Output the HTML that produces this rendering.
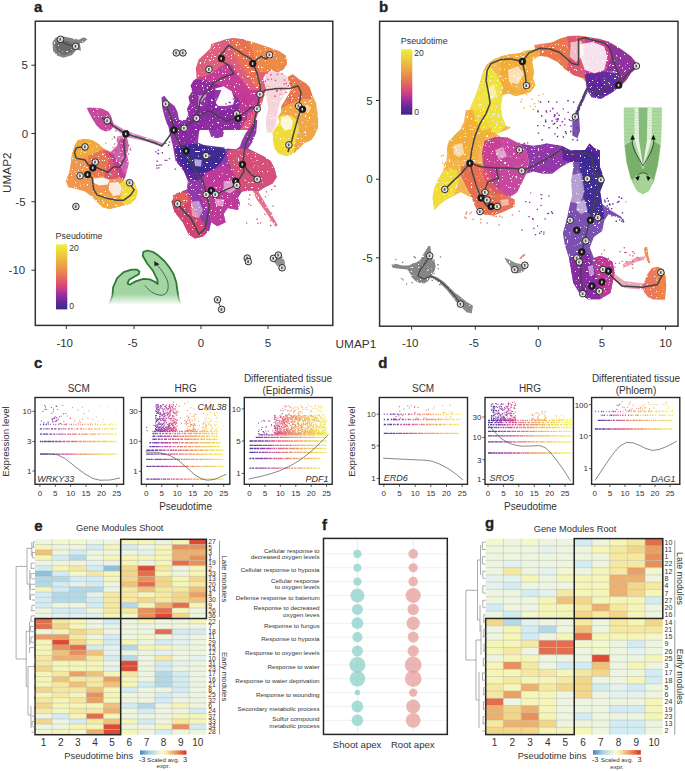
<!DOCTYPE html><html><head><meta charset="utf-8"><style>
html,body{margin:0;padding:0;background:#fff;}
svg{display:block;font-family:"Liberation Sans", sans-serif;}
</style></head><body>
<svg width="685" height="771" viewBox="0 0 685 771">
<defs><linearGradient id="pt" x1="0" y1="1" x2="0" y2="0"><stop offset="0" stop-color="#3b2a8e"/><stop offset="0.1" stop-color="#5a2898"/><stop offset="0.2" stop-color="#8e2aa0"/><stop offset="0.3" stop-color="#c6388e"/><stop offset="0.4" stop-color="#dc5072"/><stop offset="0.5" stop-color="#e4705a"/><stop offset="0.65" stop-color="#eb9a48"/><stop offset="0.8" stop-color="#ecc040"/><stop offset="1" stop-color="#eef03a"/></linearGradient><linearGradient id="hm" x1="0" y1="0" x2="1" y2="0"><stop offset="0" stop-color="#4f7fbf"/><stop offset="0.2" stop-color="#a8d0e6"/><stop offset="0.45" stop-color="#f2f8d8"/><stop offset="0.55" stop-color="#f8f0b0"/><stop offset="0.8" stop-color="#eb8a55"/><stop offset="1" stop-color="#d8302a"/></linearGradient><linearGradient id="gfade" x1="0" y1="0" x2="0" y2="1"><stop offset="0" stop-color="#a6d6a6"/><stop offset="0.75" stop-color="#a6d6a6"/><stop offset="1" stop-color="#ffffff"/></linearGradient><filter id="spf" x="0" y="0" width="685" height="340" filterUnits="userSpaceOnUse"><feTurbulence type="fractalNoise" baseFrequency="0.45" numOctaves="2" seed="5" result="n"/><feColorMatrix in="n" type="matrix" values="0 0 0 0 0  0 0 0 0 0  0 0 0 0 0  20 0 0 0 -13.9"/></filter><mask id="spm" maskUnits="userSpaceOnUse" x="0" y="0" width="685" height="340"><rect x="0" y="0" width="685" height="340" fill="#fff"/><rect x="0" y="0" width="685" height="340" fill="#000" filter="url(#spf)"/></mask><linearGradient id="shf" gradientUnits="userSpaceOnUse" x1="0" y1="250" x2="0" y2="305"><stop offset="0" stop-color="#a3d5a3"/><stop offset="0.8" stop-color="#a3d5a3"/><stop offset="1" stop-color="#ffffff"/></linearGradient><linearGradient id="shs" gradientUnits="userSpaceOnUse" x1="0" y1="250" x2="0" y2="305"><stop offset="0" stop-color="#2f7a33"/><stop offset="0.78" stop-color="#2f7a33"/><stop offset="1" stop-color="#ffffff"/></linearGradient><linearGradient id="g35" gradientUnits="userSpaceOnUse" x1="39.9" y1="0" x2="116.8" y2="0"><stop offset="0" stop-color="#3b2a8e"/><stop offset="0.1" stop-color="#5a2898"/><stop offset="0.2" stop-color="#8e2aa0"/><stop offset="0.3" stop-color="#c6388e"/><stop offset="0.4" stop-color="#dc5072"/><stop offset="0.5" stop-color="#e4705a"/><stop offset="0.65" stop-color="#eb9a48"/><stop offset="0.8" stop-color="#ecc040"/><stop offset="1" stop-color="#eef03a"/></linearGradient><linearGradient id="g141" gradientUnits="userSpaceOnUse" x1="146.3" y1="0" x2="223.7" y2="0"><stop offset="0" stop-color="#3b2a8e"/><stop offset="0.1" stop-color="#5a2898"/><stop offset="0.2" stop-color="#8e2aa0"/><stop offset="0.3" stop-color="#c6388e"/><stop offset="0.4" stop-color="#dc5072"/><stop offset="0.5" stop-color="#e4705a"/><stop offset="0.65" stop-color="#eb9a48"/><stop offset="0.8" stop-color="#ecc040"/><stop offset="1" stop-color="#eef03a"/></linearGradient><linearGradient id="g244" gradientUnits="userSpaceOnUse" x1="249.5" y1="0" x2="326.6" y2="0"><stop offset="0" stop-color="#3b2a8e"/><stop offset="0.1" stop-color="#5a2898"/><stop offset="0.2" stop-color="#8e2aa0"/><stop offset="0.3" stop-color="#c6388e"/><stop offset="0.4" stop-color="#dc5072"/><stop offset="0.5" stop-color="#e4705a"/><stop offset="0.65" stop-color="#eb9a48"/><stop offset="0.8" stop-color="#ecc040"/><stop offset="1" stop-color="#eef03a"/></linearGradient><linearGradient id="g379" gradientUnits="userSpaceOnUse" x1="383.8" y1="0" x2="462.2" y2="0"><stop offset="0" stop-color="#3b2a8e"/><stop offset="0.1" stop-color="#5a2898"/><stop offset="0.2" stop-color="#8e2aa0"/><stop offset="0.3" stop-color="#c6388e"/><stop offset="0.4" stop-color="#dc5072"/><stop offset="0.5" stop-color="#e4705a"/><stop offset="0.65" stop-color="#eb9a48"/><stop offset="0.8" stop-color="#ecc040"/><stop offset="1" stop-color="#eef03a"/></linearGradient><linearGradient id="g485" gradientUnits="userSpaceOnUse" x1="488.0" y1="0" x2="565.1" y2="0"><stop offset="0" stop-color="#3b2a8e"/><stop offset="0.1" stop-color="#5a2898"/><stop offset="0.2" stop-color="#8e2aa0"/><stop offset="0.3" stop-color="#c6388e"/><stop offset="0.4" stop-color="#dc5072"/><stop offset="0.5" stop-color="#e4705a"/><stop offset="0.65" stop-color="#eb9a48"/><stop offset="0.8" stop-color="#ecc040"/><stop offset="1" stop-color="#eef03a"/></linearGradient><linearGradient id="g591" gradientUnits="userSpaceOnUse" x1="594.8" y1="0" x2="670.1" y2="0"><stop offset="0" stop-color="#3b2a8e"/><stop offset="0.1" stop-color="#5a2898"/><stop offset="0.2" stop-color="#8e2aa0"/><stop offset="0.3" stop-color="#c6388e"/><stop offset="0.4" stop-color="#dc5072"/><stop offset="0.5" stop-color="#e4705a"/><stop offset="0.65" stop-color="#eb9a48"/><stop offset="0.8" stop-color="#ecc040"/><stop offset="1" stop-color="#eef03a"/></linearGradient></defs>
<rect width="685" height="771" fill="#fff"/>
<g mask="url(#spm)"><path d="M52.5 41.9 L55.8 37.5 L63.5 36.4 L73.3 38.6 L78.8 39.7 L83.2 37.5 L88.2 38.6 L84.3 41.9 L79.9 44.1 L81.0 50.7 L76.6 49.6 L72.2 55.0 L63.5 57.7 L56.9 55.5 L53.0 50.7Z" fill="#7c7c7c" fill-opacity="0.95"/><path d="M55.0 44.0 L60.0 40.0 L68.0 41.0 L74.0 45.0 L72.0 52.0 L64.0 55.0 L57.0 52.0Z" fill="#686868" fill-opacity="0.9"/><path d="M186.4 130.0 L185.6 120.5 L188.5 114.7 L187.1 108.8 L190.0 103.0 L188.5 97.2 L192.2 91.3 L190.7 85.5 L193.6 80.4 L196.6 78.2 L195.8 68.0 L198.8 59.2 L204.6 54.1 L210.4 48.2 L211.2 43.9 L215.5 42.4 L220.7 40.9 L226.5 39.1 L233.8 38.0 L242.6 39.1 L248.4 40.9 L258.6 43.9 L268.8 47.5 L279.1 51.2 L285.6 55.5 L287.1 63.6 L283.4 69.4 L277.6 72.3 L271.8 70.1 L265.9 73.8 L263.0 78.2 L265.9 88.4 L263.0 100.1 L258.6 111.8 L255.7 120.5 L254.2 130.0Z" fill="#dc5274" fill-opacity="0.93"/><path d="M230.9 38.0 L248.4 40.9 L252.8 51.9 L257.2 66.5 L260.1 78.2 L258.6 88.4 L254.2 85.5 L248.4 76.7 L242.6 68.0 L236.7 59.2 L232.3 50.4Z" fill="#ea7450" fill-opacity="0.93"/><path d="M248.4 40.9 L258.6 43.9 L268.8 47.5 L279.1 51.2 L285.6 55.5 L287.1 63.6 L283.4 69.4 L277.6 72.3 L271.8 69.4 L265.9 72.3 L260.1 72.3 L257.2 66.5 L252.8 51.9Z" fill="#ef8e44" fill-opacity="0.93"/><path d="M196.6 78.2 L206.1 76.0 L213.4 72.3 L220.7 66.5 L226.5 63.6 L232.3 65.0 L236.7 73.8 L242.6 81.1 L248.4 88.4 L252.8 95.7 L254.2 105.9 L252.8 114.7 L249.9 108.8 L244.0 103.0 L238.2 98.6 L232.3 92.8 L225.0 86.9 L216.3 84.0 L207.5 80.4Z" fill="#c23a98" fill-opacity="0.93"/><path d="M193.6 80.4 L196.6 78.9 L207.5 80.4 L216.3 84.0 L225.0 86.9 L232.3 92.8 L238.2 98.6 L244.0 105.9 L246.2 114.7 L244.0 123.4 L239.6 130.0 L186.4 130.0 L185.6 120.5 L188.5 114.7 L187.1 108.8 L190.0 103.0 L188.5 97.2 L192.2 91.3 L190.7 85.5Z" fill="#8a2aa2" fill-opacity="0.93"/><path d="M215.5 88.4 L223.6 86.2 L231.6 91.3 L234.5 99.3 L232.3 107.4 L225.0 110.3 L217.7 107.4 L214.1 98.6Z" fill="#fff" fill-opacity="0.97"/><path d="M265.2 74.5 L271.8 72.3 L278.3 74.5 L282.7 81.1 L281.2 91.3 L276.1 95.0 L268.8 92.8 L265.2 85.5Z" fill="#fff" fill-opacity="0.85"/><path d="M198.8 95.7 L206.1 94.2 L207.5 103.0 L203.1 108.8 L198.0 105.9Z" fill="#fff" fill-opacity="0.5"/><path d="M265.6 73.0 L275.9 70.4 L286.3 75.6 L288.9 83.3 L285.0 93.7 L279.8 102.8 L277.2 114.5 L275.9 124.8 L272.0 132.6 L266.9 132.6 L265.6 119.6 L268.2 109.3 L266.9 98.9 L264.3 85.9Z" fill="#dc5274" fill-opacity="0.25"/><path d="M287.6 76.9 L292.8 74.3 L299.3 79.4 L305.8 83.3 L309.6 87.2 L312.2 95.0 L316.1 102.8 L317.4 111.9 L318.1 118.3 L318.1 127.4 L314.8 135.2 L310.9 140.4 L304.5 143.0 L299.3 148.2 L294.1 153.4 L286.3 155.9 L278.5 153.4 L274.6 148.2 L273.3 140.4 L272.7 132.6 L275.9 127.4 L279.8 122.2 L277.9 117.1 L281.1 111.9 L281.1 106.7 L285.0 100.2 L288.9 93.7 L291.5 88.5 L288.9 82.0Z" fill="#efa03a" fill-opacity="0.93"/><path d="M287.6 76.9 L292.8 74.3 L299.3 79.4 L305.8 83.3 L309.6 87.2 L312.2 95.0 L310.9 98.9 L304.5 98.9 L296.7 101.5 L288.9 104.1 L282.4 108.0 L281.1 106.7 L285.0 100.2 L288.9 93.7 L291.5 88.5 L288.9 82.0Z" fill="#ea7450" fill-opacity="0.93"/><path d="M272.7 132.6 L275.9 127.4 L279.8 122.2 L277.9 117.1 L283.7 114.5 L291.5 115.8 L296.7 119.6 L299.3 127.4 L296.7 137.8 L294.1 145.6 L294.1 153.4 L286.3 155.9 L278.5 153.4 L274.6 148.2 L273.3 140.4Z" fill="#f0df3a" fill-opacity="0.93"/><path d="M281.1 117.1 L288.9 115.8 L292.8 120.9 L291.5 128.7 L285.0 130.7 L280.5 124.8Z" fill="#fff" fill-opacity="0.8"/><path d="M301.9 105.4 L308.3 104.7 L310.9 109.3 L307.1 111.9 L302.5 109.9Z" fill="#fff" fill-opacity="0.5"/><path d="M161.5 97.3 L164.4 95.8 L168.8 101.7 L174.6 106.1 L177.5 111.9 L179.0 119.2 L181.9 125.0 L189.2 123.6 L192.1 114.8 L198.0 106.1 L203.8 98.8 L209.6 92.9 L211.1 90.0 L221.3 90.0 L218.4 97.3 L215.5 103.1 L218.4 106.1 L225.7 106.1 L233.0 104.6 L237.4 107.5 L235.9 116.3 L233.0 120.7 L224.2 121.4 L215.5 119.2 L209.6 117.7 L203.8 123.6 L199.4 130.9 L196.5 136.7 L193.6 144.0 L189.2 145.5 L183.4 145.5 L179.0 139.6 L176.1 133.8 L171.7 129.4 L167.3 125.0 L164.4 116.3 L162.2 107.5Z" fill="#8a2aa2" fill-opacity="0.93"/><path d="M208.2 128.0 L216.9 126.5 L224.2 130.9 L222.8 136.7 L216.9 138.2 L211.1 136.7Z" fill="#8a2aa2" fill-opacity="0.93"/><path d="M233.0 90.0 L260.0 90.0 L260.0 104.6 L253.4 109.0 L247.6 116.3 L241.8 126.5 L237.4 119.2 L238.8 107.5 L241.8 98.8Z" fill="#c23a98" fill-opacity="0.93"/><path d="M167.4 120.0 L199.0 120.0 L199.0 132.3 L198.0 142.5 L209.3 147.6 L223.6 149.6 L227.7 148.6 L235.8 149.6 L239.9 146.6 L242.0 140.4 L246.1 132.3 L251.2 126.1 L254.2 120.0 L257.3 120.0 L256.3 132.3 L252.2 142.5 L248.1 148.6 L256.3 152.7 L264.4 156.8 L270.6 160.9 L274.7 169.0 L276.7 177.2 L272.6 183.4 L264.4 187.4 L258.3 191.5 L252.2 190.5 L242.0 191.5 L237.9 197.7 L239.9 203.8 L237.9 209.9 L227.7 207.9 L223.6 214.0 L225.6 222.2 L217.4 226.3 L211.3 222.2 L209.3 230.4 L203.1 236.5 L195.0 238.5 L188.8 234.4 L182.7 222.2 L174.5 212.0 L171.5 201.7 L176.6 193.6 L186.8 189.5 L187.8 181.3 L183.7 171.1 L175.5 160.9 L172.5 144.5 L169.4 132.3Z" fill="#8a2aa2" fill-opacity="0.93"/><path d="M205.2 171.1 L215.4 169.0 L223.6 165.0 L231.7 169.0 L237.9 175.2 L239.9 187.4 L237.9 197.7 L239.9 203.8 L237.9 209.9 L227.7 207.9 L223.6 214.0 L225.6 222.2 L217.4 226.3 L211.3 222.2 L209.3 214.0 L205.2 205.8 L201.1 197.7 L203.1 185.4Z" fill="#c23a98" fill-opacity="0.93"/><path d="M227.7 150.7 L239.9 148.6 L248.1 149.6 L256.3 152.7 L264.4 156.8 L270.6 160.9 L274.7 169.0 L276.7 177.2 L272.6 183.4 L264.4 187.4 L258.3 191.5 L252.2 189.5 L242.0 191.5 L237.9 187.4 L235.8 177.2 L231.7 169.0 L227.7 160.9Z" fill="#dc5274" fill-opacity="0.93"/><path d="M174.5 146.6 L183.7 145.5 L180.7 154.7 L184.7 162.9 L191.9 167.4 L201.1 168.0 L204.2 175.2 L198.0 180.3 L188.8 179.3 L182.7 169.0 L176.6 160.9Z" fill="#5a269c" fill-opacity="0.93"/><path d="M179.0 145.7 L194.2 143.8 L209.3 145.7 L224.5 147.6 L225.5 155.2 L220.7 162.8 L215.0 168.5 L207.4 172.3 L198.0 173.2 L190.4 170.4 L182.8 164.7 L179.0 155.2Z" fill="#3a2a92" fill-opacity="0.93"/><path d="M194.2 159.0 L201.8 160.0 L201.0 166.6 L195.0 166.0Z" fill="#fff" fill-opacity="0.6"/><path d="M215.0 199.0 L224.5 199.5 L223.0 206.4 L216.0 205.5Z" fill="#fff" fill-opacity="0.5"/><path d="M176.6 193.6 L186.8 190.5 L190.9 197.7 L193.9 207.9 L198.0 216.1 L204.2 223.2 L207.2 230.4 L203.1 236.5 L195.0 238.5 L188.8 234.4 L182.7 222.2 L174.5 212.0 L171.5 201.7Z" fill="#d8466e" fill-opacity="0.93"/><path d="M172.5 195.6 L180.7 191.9 L187.8 193.6 L188.8 201.7 L182.7 205.8 L175.5 205.8Z" fill="#e46458" fill-opacity="0.93"/><path d="M252.2 189.5 L258.3 191.5 L264.4 201.7 L272.6 216.1 L277.7 225.3 L275.7 226.7 L266.5 213.0 L256.3 198.7Z" fill="#dc5274" fill-opacity="0.8"/><path d="M190.9 201.7 L199.0 200.7 L203.1 209.9 L199.0 218.1 L191.9 216.1Z" fill="#fff" fill-opacity="0.45"/><path d="M223.6 181.3 L233.8 180.3 L235.8 189.5 L229.7 193.6 L223.6 190.5Z" fill="#fff" fill-opacity="0.5"/><path d="M86.6 107.4 L94.6 107.8 L101.9 108.4 L108.5 111.8 L111.4 116.9 L112.8 122.0 L113.6 126.4 L110.7 130.0 L105.5 131.5 L100.4 129.3 L96.1 124.9 L92.4 119.1 L88.8 112.5Z" fill="#c23a98" fill-opacity="0.93"/><path d="M117.2 136.6 L123.8 135.1 L126.7 137.3 L126.0 143.2 L125.3 155.0 L121.6 155.0 L119.4 146.1 L116.5 141.7Z" fill="#c23a98" fill-opacity="0.6"/><path d="M107.3 119.6 L127.0 131.2 L144.5 136.7 L163.1 143.1 L162.4 147.0 L144.5 140.9 L125.9 136.9 L107.3 123.4Z" fill="#b4359e" fill-opacity="0.55"/><path d="M120.1 139.0 L127.1 137.3 L128.8 146.0 L127.1 154.8 L128.8 163.5 L127.1 170.6 L125.3 177.6 L120.1 177.6 L116.6 168.8 L113.1 160.0 L109.6 153.0 L116.6 146.0Z" fill="#c23a98" fill-opacity="0.8"/><path d="M78.0 139.9 L85.0 139.0 L92.0 139.9 L99.1 144.3 L102.6 147.8 L107.8 150.4 L113.1 154.8 L116.6 160.0 L121.8 168.8 L125.3 175.8 L123.6 180.2 L128.8 179.3 L134.1 181.9 L137.6 191.6 L135.8 198.6 L130.6 203.8 L123.6 205.6 L116.6 207.3 L109.6 209.1 L102.6 207.3 L97.3 202.1 L92.0 196.8 L85.0 191.6 L76.3 188.9 L68.4 187.2 L65.8 181.1 L69.3 172.3 L70.7 163.5 L71.9 154.8 L74.5 146.0Z" fill="#ef8e44" fill-opacity="0.93"/><path d="M78.0 139.9 L85.0 139.0 L92.0 139.9 L99.1 144.3 L101.7 149.5 L95.6 153.0 L88.5 155.7 L81.5 158.3 L74.5 160.0 L71.0 161.8 L71.9 154.8 L74.5 146.0Z" fill="#f1ac3a" fill-opacity="0.93"/><path d="M88.5 155.7 L95.6 153.0 L101.7 149.5 L107.8 151.3 L110.4 160.0 L108.7 168.8 L103.4 175.8 L96.4 177.6 L90.6 174.1 L87.1 165.3Z" fill="#ea7450" fill-opacity="0.93"/><path d="M102.6 151.3 L107.8 150.4 L113.1 154.8 L117.4 161.8 L121.0 168.8 L121.8 174.9 L116.6 178.4 L109.6 179.3 L103.4 176.7 L106.9 168.8 L108.7 160.0Z" fill="#dc5274" fill-opacity="0.93"/><path d="M108.7 151.3 L113.1 154.8 L117.4 160.9 L121.8 168.8 L125.3 175.8 L123.6 180.2 L120.1 177.6 L117.4 169.7 L113.9 162.7 L110.4 156.5Z" fill="#c23a98" fill-opacity="0.93"/><path d="M92.0 196.8 L97.3 202.1 L102.6 207.3 L109.6 209.1 L116.6 207.3 L123.6 205.2 L120.1 198.6 L111.3 195.1 L102.6 192.4 L95.6 192.4Z" fill="#f1ac3a" fill-opacity="0.93"/><path d="M123.6 180.2 L128.8 179.3 L134.1 181.9 L137.6 191.6 L135.8 198.6 L130.6 203.8 L123.6 204.7 L120.1 198.6 L121.8 189.8 L119.2 184.6Z" fill="#f0df3a" fill-opacity="0.93"/><path d="M93.8 178.4 L102.6 177.6 L109.6 180.2 L107.8 184.6 L99.1 185.4 L93.8 182.8Z" fill="#fff" fill-opacity="0.9"/><path d="M109.6 182.8 L118.3 181.9 L121.8 188.1 L120.1 195.1 L113.1 196.0 L108.7 189.8Z" fill="#fff" fill-opacity="0.8"/><path d="M274.7 87.7h1.4v1.4h-1.4zM287.9 85.0h1.4v1.4h-1.4zM276.2 88.4h1.4v1.4h-1.4zM267.2 86.3h1.4v1.4h-1.4zM279.6 94.2h1.4v1.4h-1.4zM264.6 80.5h1.4v1.4h-1.4zM264.5 94.7h1.4v1.4h-1.4zM281.4 73.2h1.4v1.4h-1.4zM289.5 99.0h1.4v1.4h-1.4zM280.3 89.2h1.4v1.4h-1.4zM266.4 72.4h1.4v1.4h-1.4zM276.8 73.7h1.4v1.4h-1.4zM267.3 78.8h1.4v1.4h-1.4zM262.8 85.0h1.4v1.4h-1.4zM274.3 95.6h1.4v1.4h-1.4zM276.5 89.9h1.4v1.4h-1.4zM276.0 90.5h1.4v1.4h-1.4zM274.8 79.8h1.4v1.4h-1.4zM289.9 99.9h1.4v1.4h-1.4zM285.5 91.8h1.4v1.4h-1.4zM270.8 78.4h1.4v1.4h-1.4zM270.1 74.0h1.4v1.4h-1.4zM283.5 83.2h1.4v1.4h-1.4zM285.7 82.8h1.4v1.4h-1.4zM288.8 95.7h1.4v1.4h-1.4zM262.0 77.9h1.4v1.4h-1.4zM287.5 85.2h1.4v1.4h-1.4zM289.5 83.1h1.4v1.4h-1.4zM264.0 89.6h1.4v1.4h-1.4zM283.8 79.6h1.4v1.4h-1.4z" fill="#dc5274"/><path d="M164.5 159.7h1.3v1.3h-1.3zM168.3 144.3h1.3v1.3h-1.3zM155.2 151.2h1.3v1.3h-1.3zM160.5 164.3h1.3v1.3h-1.3zM168.8 158.0h1.3v1.3h-1.3zM166.2 159.8h1.3v1.3h-1.3zM157.9 153.2h1.3v1.3h-1.3zM158.2 167.2h1.3v1.3h-1.3zM156.2 164.6h1.3v1.3h-1.3zM156.5 160.6h1.3v1.3h-1.3zM161.7 152.1h1.3v1.3h-1.3zM171.8 140.6h1.3v1.3h-1.3zM156.2 167.5h1.3v1.3h-1.3zM165.2 142.7h1.3v1.3h-1.3zM174.7 168.4h1.3v1.3h-1.3zM157.3 152.7h1.3v1.3h-1.3zM157.7 149.4h1.3v1.3h-1.3zM167.4 144.9h1.3v1.3h-1.3zM168.9 141.5h1.3v1.3h-1.3zM158.4 164.5h1.3v1.3h-1.3z" fill="#8a2aa2"/><path d="M231.5 115.6h1.3v1.3h-1.3zM242.1 120.5h1.3v1.3h-1.3zM229.6 101.9h1.3v1.3h-1.3zM228.7 101.8h1.3v1.3h-1.3zM243.4 98.9h1.3v1.3h-1.3zM238.3 101.4h1.3v1.3h-1.3zM232.4 107.9h1.3v1.3h-1.3zM245.9 113.3h1.3v1.3h-1.3zM225.4 103.3h1.3v1.3h-1.3zM228.7 121.1h1.3v1.3h-1.3zM245.2 119.2h1.3v1.3h-1.3zM245.7 117.3h1.3v1.3h-1.3zM248.7 118.8h1.3v1.3h-1.3zM231.4 120.5h1.3v1.3h-1.3zM237.2 117.7h1.3v1.3h-1.3zM239.1 107.9h1.3v1.3h-1.3zM234.1 107.9h1.3v1.3h-1.3zM232.8 98.5h1.3v1.3h-1.3zM245.5 118.9h1.3v1.3h-1.3zM249.6 115.7h1.3v1.3h-1.3zM238.9 117.5h1.3v1.3h-1.3zM228.4 115.3h1.3v1.3h-1.3zM236.1 100.3h1.3v1.3h-1.3zM230.1 110.7h1.3v1.3h-1.3zM231.3 108.8h1.3v1.3h-1.3z" fill="#8a2aa2"/><path d="M113.9 163.6h1.3v1.3h-1.3zM123.7 176.7h1.3v1.3h-1.3zM116.9 139.1h1.3v1.3h-1.3zM125.2 161.2h1.3v1.3h-1.3zM117.5 162.6h1.3v1.3h-1.3zM119.1 167.8h1.3v1.3h-1.3zM114.1 137.3h1.3v1.3h-1.3zM128.2 144.7h1.3v1.3h-1.3zM116.7 169.2h1.3v1.3h-1.3zM123.4 133.2h1.3v1.3h-1.3zM121.9 161.5h1.3v1.3h-1.3zM115.0 160.8h1.3v1.3h-1.3zM114.2 143.5h1.3v1.3h-1.3zM113.5 136.2h1.3v1.3h-1.3zM129.6 147.2h1.3v1.3h-1.3zM129.8 149.1h1.3v1.3h-1.3zM122.9 173.0h1.3v1.3h-1.3zM124.4 131.1h1.3v1.3h-1.3zM122.6 159.9h1.3v1.3h-1.3zM115.3 130.2h1.3v1.3h-1.3zM127.7 153.3h1.3v1.3h-1.3zM115.5 149.9h1.3v1.3h-1.3zM115.9 168.9h1.3v1.3h-1.3zM121.0 130.6h1.3v1.3h-1.3zM126.7 129.9h1.3v1.3h-1.3z" fill="#c23a98"/><path d="M273.8 185.5h1.3v1.3h-1.3zM265.8 191.3h1.3v1.3h-1.3zM274.5 185.7h1.3v1.3h-1.3zM270.8 212.3h1.3v1.3h-1.3zM270.0 225.0h1.3v1.3h-1.3zM248.4 198.5h1.3v1.3h-1.3zM264.8 196.2h1.3v1.3h-1.3zM249.2 194.1h1.3v1.3h-1.3zM270.0 220.0h1.3v1.3h-1.3zM267.9 193.9h1.3v1.3h-1.3zM272.4 205.5h1.3v1.3h-1.3zM248.1 203.2h1.3v1.3h-1.3zM254.7 188.2h1.3v1.3h-1.3zM259.8 199.4h1.3v1.3h-1.3zM259.9 222.2h1.3v1.3h-1.3zM262.6 201.2h1.3v1.3h-1.3zM270.2 224.8h1.3v1.3h-1.3zM257.2 222.8h1.3v1.3h-1.3zM240.7 190.6h1.3v1.3h-1.3zM246.0 222.5h1.3v1.3h-1.3zM264.2 213.8h1.3v1.3h-1.3zM250.0 204.8h1.3v1.3h-1.3zM271.0 189.0h1.3v1.3h-1.3zM244.1 186.9h1.3v1.3h-1.3zM256.4 218.6h1.3v1.3h-1.3z" fill="#dc5274"/><path d="M112.2 147.0h1.3v1.3h-1.3zM113.3 146.2h1.3v1.3h-1.3zM113.2 151.4h1.3v1.3h-1.3zM110.2 150.9h1.3v1.3h-1.3zM105.2 142.6h1.3v1.3h-1.3zM111.7 138.5h1.3v1.3h-1.3zM119.9 142.8h1.3v1.3h-1.3zM120.8 158.9h1.3v1.3h-1.3zM110.1 157.3h1.3v1.3h-1.3zM121.2 151.7h1.3v1.3h-1.3z" fill="#f1ac3a"/><path d="M272.0 256.0 L280.0 252.0 L285.0 262.0 L284.0 270.0 L279.0 268.0 L274.0 262.0Z" fill="#7c7c7c" fill-opacity="0.85"/><path d="M391.6 264.3 L395.5 263.7 L402.1 265.6 L408.6 265.6 L412.6 263.7 L416.5 262.3 L420.5 259.7 L423.1 254.5 L425.7 250.5 L428.4 245.9 L430.3 245.9 L431.0 251.8 L432.3 258.4 L434.9 262.3 L435.6 266.3 L434.9 270.2 L432.3 274.2 L431.0 276.8 L428.4 280.7 L424.4 283.4 L419.2 282.7 L415.2 280.7 L411.3 276.8 L410.0 272.8 L407.3 269.6 L402.1 268.9 L395.5 268.2 L392.2 267.6Z" fill="#7c7c7c" fill-opacity="0.92"/><path d="M431.0 274.8 L437.6 277.4 L444.1 282.0 L449.4 287.3 L454.6 292.6 L458.6 295.2 L466.5 301.8 L473.0 305.7 L471.7 313.6 L466.5 312.3 L461.2 307.0 L456.0 301.8 L452.0 296.5 L446.8 289.9 L441.5 284.7 L434.9 279.4 L430.3 278.1Z" fill="#7c7c7c" fill-opacity="0.9"/><path d="M504.5 257.5 L509.6 259.7 L514.7 262.6 L520.5 264.1 L525.7 264.8 L526.4 267.7 L522.7 272.1 L516.9 273.6 L512.5 271.4 L509.6 265.5 L506.0 261.2Z" fill="#7c7c7c" fill-opacity="0.85"/><path d="M519.2 258.5 L524.0 253.5 L525.6 254.8 L521.0 259.0Z" fill="#ea7450" fill-opacity="0.9"/><path d="M500.0 56.8 L510.5 54.2 L521.0 52.8 L531.5 50.2 L542.0 46.3 L552.5 42.3 L560.4 38.4 L570.9 35.8 L578.8 35.8 L589.3 37.1 L599.8 38.9 L610.4 42.3 L620.9 48.9 L631.4 56.8 L636.6 63.4 L637.9 67.3 L631.4 72.5 L626.1 80.4 L620.9 85.7 L613.0 90.9 L605.1 94.9 L597.2 96.2 L592.0 93.6 L589.3 88.3 L586.7 83.1 L581.5 77.8 L573.6 75.2 L565.7 69.9 L557.8 62.0 L547.3 56.8 L536.8 55.5 L531.5 56.8 L534.2 72.5 L531.5 85.7 L526.3 93.6 L515.8 96.2 L507.9 93.6 L500.0 96.2Z" fill="#f1ac3a" fill-opacity="0.93"/><path d="M534.2 45.0 L552.5 42.3 L560.4 38.4 L568.3 36.3 L570.9 51.5 L568.3 69.9 L565.7 69.9 L557.8 62.0 L547.3 56.8 L536.8 55.5Z" fill="#ea7450" fill-opacity="0.93"/><path d="M567.0 36.3 L578.8 35.8 L586.7 36.8 L585.4 51.5 L584.1 77.8 L581.5 77.8 L573.6 75.2 L567.0 69.9 L569.6 51.5Z" fill="#dc5274" fill-opacity="0.93"/><path d="M585.4 36.8 L599.8 38.9 L610.4 42.3 L613.0 56.8 L605.1 72.5 L597.2 80.4 L589.3 88.3 L586.7 83.1 L584.1 77.8 L584.6 56.8Z" fill="#c23a98" fill-opacity="0.93"/><path d="M607.7 41.5 L620.9 48.9 L631.4 56.8 L636.6 63.4 L637.9 67.3 L631.4 72.5 L626.1 80.4 L620.9 85.7 L613.0 90.9 L605.1 94.9 L597.2 96.2 L592.0 93.6 L589.3 88.3 L597.2 80.4 L605.1 72.5 L611.7 56.8Z" fill="#8a2aa2" fill-opacity="0.93"/><path d="M570.9 42.3 L581.5 41.0 L584.1 54.2 L576.2 62.0 L569.6 56.8Z" fill="#fff" fill-opacity="0.6"/><path d="M599.8 72.5 L615.6 71.2 L618.2 83.1 L607.7 88.3 L601.2 83.1Z" fill="#fff" fill-opacity="0.5"/><path d="M510.5 72.5 L523.6 69.9 L528.9 83.1 L518.4 90.9 L509.2 85.7Z" fill="#fff" fill-opacity="0.6"/><path d="M580.1 44.0 L593.0 42.0 L604.2 46.5 L607.4 57.1 L604.2 70.0 L594.6 73.2 L585.0 70.0 L580.1 57.1Z" fill="#fff" fill-opacity="0.85"/><path d="M585.0 73.2 L594.6 73.5 L604.2 71.6 L617.1 73.2 L620.3 86.0 L612.3 92.4 L601.0 98.9 L591.4 97.3 L586.6 89.2Z" fill="#5a269c" fill-opacity="0.93"/><path d="M585.4 89.6 L588.0 90.9 L578.8 112.0 L580.1 130.4 L577.5 138.2 L572.3 135.6 L572.3 119.8 L577.5 106.7Z" fill="#5a269c" fill-opacity="0.8"/><path d="M446.3 160.0 L448.0 145.1 L455.0 134.6 L463.8 127.6 L467.3 117.1 L470.8 106.6 L476.1 94.3 L479.6 83.8 L483.1 71.5 L486.6 64.5 L493.6 59.3 L502.3 55.8 L511.1 54.0 L518.1 54.0 L525.1 50.5 L540.0 48.8 L540.0 55.8 L533.9 59.3 L528.6 64.5 L532.1 75.0 L535.6 85.5 L530.4 92.6 L521.6 94.3 L511.1 92.6 L504.1 89.1 L502.3 97.8 L500.6 106.6 L502.3 117.1 L505.8 125.8 L511.1 127.6 L504.1 131.1 L493.6 134.6 L486.6 138.1 L479.6 145.1 L477.8 160.0Z" fill="#f1ac3a" fill-opacity="0.85"/><path d="M470.8 106.6 L476.1 94.3 L480.4 82.0 L483.9 71.5 L490.1 66.3 L497.1 75.0 L502.3 85.5 L502.3 97.8 L500.6 106.6 L502.3 117.1 L505.8 125.8 L498.8 132.9 L490.1 134.6 L479.6 138.1 L472.6 131.1 L469.1 118.8Z" fill="#eeea40" fill-opacity="0.85"/><path d="M508.0 70.0 L518.0 66.0 L524.0 74.0 L518.0 84.0 L509.0 82.0Z" fill="#fff" fill-opacity="0.6"/><path d="M488.0 88.0 L494.0 84.0 L497.0 96.0 L490.0 100.0Z" fill="#fff" fill-opacity="0.5"/><path d="M465.8 110.0 L464.1 120.5 L460.6 129.3 L455.3 134.5 L448.3 141.5 L446.6 150.3 L450.1 157.3 L444.8 162.6 L443.1 171.3 L437.8 180.1 L434.3 188.8 L432.6 197.6 L434.3 209.9 L439.6 204.6 L446.6 199.3 L453.6 195.8 L460.6 192.3 L464.1 194.1 L471.1 197.6 L476.4 204.6 L478.1 211.6 L485.1 215.1 L492.1 213.4 L500.0 209.9 L500.0 136.3 L492.1 131.0 L485.1 120.5 L481.6 110.0Z" fill="#f1ac3a" fill-opacity="0.88"/><path d="M432.6 197.6 L434.3 188.8 L437.8 180.1 L443.1 171.3 L450.1 167.8 L457.1 171.3 L458.8 183.6 L453.6 195.8 L446.6 199.3 L439.6 204.6 L434.3 209.9Z" fill="#f0df3a" fill-opacity="0.93"/><path d="M472.9 110.0 L485.1 110.0 L492.1 120.5 L488.6 129.3 L481.6 131.0 L475.5 120.5Z" fill="#f0df3a" fill-opacity="0.8"/><path d="M453.6 145.0 L462.3 143.3 L464.1 153.8 L458.8 157.3 L453.6 153.8Z" fill="#fff" fill-opacity="0.55"/><path d="M478.1 169.6 L485.1 171.3 L485.1 180.1 L479.9 183.6 L475.5 178.3Z" fill="#fff" fill-opacity="0.5"/><path d="M484.4 141.0 L496.1 136.4 L507.7 137.5 L519.4 143.4 L526.4 150.4 L528.8 162.0 L526.4 173.7 L521.8 183.1 L517.1 192.4 L510.1 197.1 L500.7 194.7 L491.4 190.1 L486.7 180.7 L483.2 166.7 L482.0 152.7Z" fill="#c23a98" fill-opacity="0.93"/><path d="M461.0 166.7 L470.4 162.0 L482.0 164.4 L486.7 173.7 L493.7 185.4 L505.4 194.7 L514.7 199.4 L514.7 206.4 L505.4 211.1 L493.7 215.8 L479.7 213.4 L475.0 206.4 L470.4 194.7 L465.7 185.4 L461.0 176.1Z" fill="#e6684f" fill-opacity="0.93"/><path d="M482.0 166.0 L488.0 170.0 L494.0 184.0 L504.0 193.0 L496.0 194.0 L488.0 186.0 L483.0 176.0Z" fill="#dc5274" fill-opacity="0.8"/><path d="M519.4 143.4 L533.4 145.7 L547.5 143.4 L561.5 145.7 L570.8 150.4 L584.8 150.4 L589.5 143.4 L594.2 148.0 L600.0 150.4 L600.0 173.7 L589.5 169.1 L580.2 162.0 L570.8 162.0 L561.5 166.7 L552.1 173.7 L542.8 173.7 L533.4 171.4 L526.4 173.7 L528.8 162.0 L526.4 150.4Z" fill="#8a2aa2" fill-opacity="0.93"/><path d="M561.5 145.7 L570.8 150.4 L584.8 150.4 L589.5 143.4 L594.2 148.0 L600.0 150.4 L600.0 173.7 L589.5 169.1 L580.2 162.0 L570.8 162.0 L563.0 160.0Z" fill="#5a269c" fill-opacity="0.93"/><path d="M495.0 150.0 L503.0 147.0 L507.0 156.0 L499.0 160.0Z" fill="#fff" fill-opacity="0.5"/><path d="M500.0 200.0 L508.0 199.0 L509.0 205.0 L502.0 206.0Z" fill="#fff" fill-opacity="0.5"/><path d="M573.2 168.7 L571.1 181.1 L572.2 195.6 L569.0 208.1 L567.0 218.5 L562.8 233.0 L564.9 245.4 L569.0 257.9 L571.1 270.3 L573.2 282.8 L579.4 293.1 L587.7 299.3 L600.2 299.3 L610.5 293.1 L612.6 282.8 L614.7 272.4 L612.6 262.0 L606.4 257.9 L600.2 255.8 L593.9 257.9 L589.8 247.5 L593.9 237.1 L602.2 230.9 L604.3 220.5 L608.5 214.3 L620.9 218.5 L625.0 222.6 L620.9 216.4 L610.5 210.2 L602.2 203.9 L600.2 191.5 L604.3 181.1 L602.2 172.8 L598.1 162.4 L596.0 154.1 L589.8 150.0 L573.2 150.0Z" fill="#5a269c" fill-opacity="0.8"/><path d="M581.5 150.0 L589.8 150.0 L596.0 154.1 L598.1 162.4 L602.2 172.8 L604.3 181.1 L600.2 191.5 L602.2 203.9 L604.3 218.5 L596.0 220.5 L587.7 212.2 L583.6 197.7 L581.5 181.1 L579.4 166.6Z" fill="#3a2a92" fill-opacity="0.85"/><path d="M569.0 257.9 L571.1 270.3 L573.2 282.8 L579.4 293.1 L587.7 299.3 L600.2 299.3 L602.2 282.8 L596.0 274.5 L591.9 262.0 L589.8 253.7 L581.5 253.7Z" fill="#8a2aa2" fill-opacity="0.93"/><path d="M593.9 257.9 L600.2 255.8 L606.4 257.9 L612.6 262.0 L614.7 272.4 L612.6 282.8 L610.5 293.1 L600.2 299.3 L598.1 282.8 L595.0 270.3Z" fill="#c23a98" fill-opacity="0.93"/><path d="M571.1 174.9 L581.5 172.8 L584.6 191.5 L579.4 203.9 L571.1 201.9Z" fill="#fff" fill-opacity="0.45"/><path d="M577.3 201.9 L584.6 199.8 L587.7 210.2 L581.5 214.3 L576.3 210.2Z" fill="#fff" fill-opacity="0.5"/><path d="M587.7 266.2 L592.9 265.1 L594.3 274.5 L589.8 276.5Z" fill="#fff" fill-opacity="0.5"/><path d="M645.2 279.9 L647.8 273.4 L651.8 268.1 L658.3 266.8 L663.6 269.4 L665.5 276.0 L666.2 285.2 L665.5 293.1 L664.9 299.6 L653.1 299.6 L647.8 297.0 L643.9 291.8 L642.6 285.2Z" fill="#ea7050" fill-opacity="0.93"/><path d="M655.0 268.0 L663.6 269.4 L665.5 276.0 L666.2 285.2 L665.5 293.1 L664.9 299.6 L658.0 299.6 L657.0 285.0Z" fill="#ee8446" fill-opacity="0.9"/><path d="M644.5 247.1 L647.2 247.1 L648.5 256.3 L650.4 262.8 L648.5 263.5 L645.6 257.0 L644.0 250.0Z" fill="#ee8446" fill-opacity="0.9"/><path d="M622.8 264.2 L630.0 260.0 L638.0 257.0 L645.2 256.3 L644.0 260.0 L636.0 262.0 L628.0 266.0 L623.0 268.0Z" fill="#dc5274" fill-opacity="0.55"/><path d="M612.0 272.0 L624.2 281.0 L643.9 283.5 L646.0 290.0 L624.2 288.0 L611.0 278.0Z" fill="#d8507a" fill-opacity="0.5"/><path d="M541.5 139.0h1.4v1.4h-1.4zM567.3 111.7h1.4v1.4h-1.4zM556.3 120.7h1.4v1.4h-1.4zM562.7 136.3h1.4v1.4h-1.4zM539.8 101.3h1.4v1.4h-1.4zM570.3 119.9h1.4v1.4h-1.4zM567.3 100.1h1.4v1.4h-1.4zM554.3 133.2h1.4v1.4h-1.4zM545.4 143.5h1.4v1.4h-1.4zM573.0 101.4h1.4v1.4h-1.4zM537.0 124.9h1.4v1.4h-1.4zM574.5 117.5h1.4v1.4h-1.4zM544.9 119.4h1.4v1.4h-1.4zM537.2 110.2h1.4v1.4h-1.4zM554.0 122.8h1.4v1.4h-1.4zM545.6 110.6h1.4v1.4h-1.4zM545.0 121.1h1.4v1.4h-1.4zM547.9 101.0h1.4v1.4h-1.4zM570.3 125.6h1.4v1.4h-1.4zM562.3 108.6h1.4v1.4h-1.4zM576.7 139.6h1.4v1.4h-1.4zM541.0 115.3h1.4v1.4h-1.4zM565.6 132.7h1.4v1.4h-1.4zM574.4 119.4h1.4v1.4h-1.4zM570.0 130.8h1.4v1.4h-1.4zM548.4 127.0h1.4v1.4h-1.4zM572.2 138.9h1.4v1.4h-1.4zM556.7 127.1h1.4v1.4h-1.4zM537.4 111.2h1.4v1.4h-1.4zM568.7 119.1h1.4v1.4h-1.4zM543.1 125.2h1.4v1.4h-1.4zM564.8 131.0h1.4v1.4h-1.4zM551.4 120.2h1.4v1.4h-1.4zM556.8 135.8h1.4v1.4h-1.4zM557.4 118.1h1.4v1.4h-1.4zM556.1 101.4h1.4v1.4h-1.4zM537.8 132.4h1.4v1.4h-1.4zM576.3 127.3h1.4v1.4h-1.4zM552.1 107.8h1.4v1.4h-1.4zM556.6 145.2h1.4v1.4h-1.4z" fill="#5a269c"/><path d="M564.1 124.2h1.4v1.4h-1.4zM546.1 111.3h1.4v1.4h-1.4zM561.7 121.0h1.4v1.4h-1.4zM558.4 114.6h1.4v1.4h-1.4zM557.1 119.1h1.4v1.4h-1.4zM556.6 112.4h1.4v1.4h-1.4zM553.6 115.9h1.4v1.4h-1.4zM559.5 124.9h1.4v1.4h-1.4zM564.0 118.2h1.4v1.4h-1.4zM553.9 114.0h1.4v1.4h-1.4zM545.7 110.4h1.4v1.4h-1.4zM554.3 114.8h1.4v1.4h-1.4zM552.6 123.4h1.4v1.4h-1.4zM555.5 118.4h1.4v1.4h-1.4zM549.7 110.4h1.4v1.4h-1.4z" fill="#8a2aa2"/><path d="M528.4 216.0h1.3v1.3h-1.3zM532.5 218.8h1.3v1.3h-1.3zM540.4 194.0h1.3v1.3h-1.3zM521.4 229.5h1.3v1.3h-1.3zM529.0 201.8h1.3v1.3h-1.3zM551.9 212.6h1.3v1.3h-1.3zM546.9 212.9h1.3v1.3h-1.3zM540.8 197.9h1.3v1.3h-1.3zM540.7 230.9h1.3v1.3h-1.3zM537.2 225.1h1.3v1.3h-1.3zM541.8 193.9h1.3v1.3h-1.3zM544.5 218.2h1.3v1.3h-1.3zM530.3 192.4h1.3v1.3h-1.3zM547.8 212.7h1.3v1.3h-1.3zM543.3 231.4h1.3v1.3h-1.3zM543.1 233.4h1.3v1.3h-1.3zM533.2 227.8h1.3v1.3h-1.3zM534.8 234.0h1.3v1.3h-1.3zM548.2 195.5h1.3v1.3h-1.3zM525.2 201.0h1.3v1.3h-1.3zM550.9 211.1h1.3v1.3h-1.3zM540.4 204.8h1.3v1.3h-1.3zM536.7 208.7h1.3v1.3h-1.3zM531.9 217.9h1.3v1.3h-1.3zM539.1 232.6h1.3v1.3h-1.3z" fill="#8a2aa2"/><path d="M598.3 198.1h1.4v1.4h-1.4zM603.9 199.6h1.4v1.4h-1.4zM592.3 207.0h1.4v1.4h-1.4zM622.1 219.0h1.4v1.4h-1.4zM616.8 201.7h1.4v1.4h-1.4zM608.8 203.3h1.4v1.4h-1.4zM596.0 198.2h1.4v1.4h-1.4zM597.5 222.8h1.4v1.4h-1.4zM619.0 219.2h1.4v1.4h-1.4zM618.0 200.8h1.4v1.4h-1.4zM600.8 213.8h1.4v1.4h-1.4zM615.6 220.6h1.4v1.4h-1.4zM620.8 197.6h1.4v1.4h-1.4zM611.2 215.2h1.4v1.4h-1.4zM607.7 200.3h1.4v1.4h-1.4zM606.6 197.7h1.4v1.4h-1.4zM622.7 221.0h1.4v1.4h-1.4zM609.2 204.0h1.4v1.4h-1.4zM621.8 212.2h1.4v1.4h-1.4zM620.9 220.4h1.4v1.4h-1.4zM607.8 207.4h1.4v1.4h-1.4zM611.0 207.9h1.4v1.4h-1.4zM595.6 204.2h1.4v1.4h-1.4zM618.4 196.3h1.4v1.4h-1.4zM591.6 213.8h1.4v1.4h-1.4zM599.8 211.0h1.4v1.4h-1.4zM606.5 205.3h1.4v1.4h-1.4zM624.9 200.9h1.4v1.4h-1.4zM604.4 201.1h1.4v1.4h-1.4zM612.1 203.3h1.4v1.4h-1.4z" fill="#5a269c"/><path d="M518.7 154.8h1.3v1.3h-1.3zM523.9 158.8h1.3v1.3h-1.3zM522.2 158.4h1.3v1.3h-1.3zM500.9 149.3h1.3v1.3h-1.3zM528.3 153.0h1.3v1.3h-1.3zM527.0 142.3h1.3v1.3h-1.3zM514.1 144.9h1.3v1.3h-1.3zM516.3 151.5h1.3v1.3h-1.3zM500.4 144.3h1.3v1.3h-1.3zM508.4 158.3h1.3v1.3h-1.3zM523.0 143.2h1.3v1.3h-1.3zM523.9 142.8h1.3v1.3h-1.3zM518.5 142.5h1.3v1.3h-1.3zM500.1 157.4h1.3v1.3h-1.3zM506.3 144.3h1.3v1.3h-1.3zM529.5 157.4h1.3v1.3h-1.3zM508.7 159.2h1.3v1.3h-1.3zM516.2 153.6h1.3v1.3h-1.3zM506.1 158.8h1.3v1.3h-1.3zM520.7 159.3h1.3v1.3h-1.3z" fill="#c23a98"/><path d="M631.7 263.9h1.3v1.3h-1.3zM619.4 251.0h1.3v1.3h-1.3zM600.0 260.2h1.3v1.3h-1.3zM618.8 262.5h1.3v1.3h-1.3zM614.9 262.7h1.3v1.3h-1.3zM610.9 263.4h1.3v1.3h-1.3zM629.2 254.5h1.3v1.3h-1.3zM621.5 260.7h1.3v1.3h-1.3zM607.7 257.7h1.3v1.3h-1.3zM632.2 251.1h1.3v1.3h-1.3zM632.1 260.8h1.3v1.3h-1.3zM633.8 252.7h1.3v1.3h-1.3zM603.7 263.4h1.3v1.3h-1.3zM632.2 255.2h1.3v1.3h-1.3zM603.8 249.5h1.3v1.3h-1.3zM625.4 251.7h1.3v1.3h-1.3zM638.1 258.5h1.3v1.3h-1.3zM608.0 260.1h1.3v1.3h-1.3zM614.4 266.5h1.3v1.3h-1.3zM636.4 256.8h1.3v1.3h-1.3zM625.8 261.1h1.3v1.3h-1.3zM632.2 267.5h1.3v1.3h-1.3zM601.1 253.3h1.3v1.3h-1.3zM624.1 252.0h1.3v1.3h-1.3zM623.6 247.1h1.3v1.3h-1.3z" fill="#dc5274"/><path d="M480.8 212.3h1.3v1.3h-1.3zM499.8 211.1h1.3v1.3h-1.3zM493.1 215.5h1.3v1.3h-1.3zM465.4 217.6h1.3v1.3h-1.3zM464.2 216.5h1.3v1.3h-1.3zM466.1 211.4h1.3v1.3h-1.3zM486.6 222.4h1.3v1.3h-1.3zM469.2 213.3h1.3v1.3h-1.3zM498.4 224.2h1.3v1.3h-1.3zM495.5 216.0h1.3v1.3h-1.3zM518.6 210.7h1.3v1.3h-1.3zM511.8 214.3h1.3v1.3h-1.3zM470.4 211.8h1.3v1.3h-1.3zM479.9 222.2h1.3v1.3h-1.3zM472.5 218.7h1.3v1.3h-1.3zM499.1 215.6h1.3v1.3h-1.3zM493.8 210.9h1.3v1.3h-1.3zM465.5 213.1h1.3v1.3h-1.3zM501.5 216.4h1.3v1.3h-1.3zM480.2 218.8h1.3v1.3h-1.3z" fill="#e8704f"/><path d="M446.8 169.2h1.3v1.3h-1.3zM443.8 164.1h1.3v1.3h-1.3zM442.6 154.9h1.3v1.3h-1.3zM470.0 154.2h1.3v1.3h-1.3zM459.3 159.2h1.3v1.3h-1.3zM453.6 159.9h1.3v1.3h-1.3zM445.8 166.6h1.3v1.3h-1.3zM442.7 154.7h1.3v1.3h-1.3zM440.6 155.3h1.3v1.3h-1.3zM452.2 168.0h1.3v1.3h-1.3zM451.4 152.3h1.3v1.3h-1.3zM447.8 169.8h1.3v1.3h-1.3zM441.9 162.4h1.3v1.3h-1.3zM451.3 163.2h1.3v1.3h-1.3zM450.2 163.8h1.3v1.3h-1.3z" fill="#f1ac3a"/><path d="M531.6 98.7h1.3v1.3h-1.3zM523.5 107.6h1.3v1.3h-1.3zM520.2 101.1h1.3v1.3h-1.3zM542.5 93.5h1.3v1.3h-1.3zM533.9 103.1h1.3v1.3h-1.3zM521.0 98.8h1.3v1.3h-1.3zM537.6 100.1h1.3v1.3h-1.3zM538.1 94.8h1.3v1.3h-1.3zM526.0 94.0h1.3v1.3h-1.3zM532.7 108.6h1.3v1.3h-1.3zM534.8 105.9h1.3v1.3h-1.3zM529.6 105.4h1.3v1.3h-1.3z" fill="#f1ac3a"/><path d="M420.7 267.9h1.3v1.3h-1.3zM421.0 261.2h1.3v1.3h-1.3zM431.6 279.7h1.3v1.3h-1.3zM424.4 259.8h1.3v1.3h-1.3zM418.4 264.8h1.3v1.3h-1.3zM406.2 283.6h1.3v1.3h-1.3zM439.8 256.3h1.3v1.3h-1.3zM433.7 273.1h1.3v1.3h-1.3zM412.2 263.5h1.3v1.3h-1.3zM425.4 268.7h1.3v1.3h-1.3zM425.9 274.9h1.3v1.3h-1.3zM401.0 278.0h1.3v1.3h-1.3zM439.2 284.1h1.3v1.3h-1.3zM422.6 256.3h1.3v1.3h-1.3zM395.2 259.0h1.3v1.3h-1.3zM437.3 264.1h1.3v1.3h-1.3zM411.5 281.9h1.3v1.3h-1.3zM409.1 271.5h1.3v1.3h-1.3zM414.6 256.9h1.3v1.3h-1.3zM421.3 280.3h1.3v1.3h-1.3zM402.0 261.7h1.3v1.3h-1.3zM413.6 256.1h1.3v1.3h-1.3zM417.3 279.5h1.3v1.3h-1.3zM424.6 271.0h1.3v1.3h-1.3zM433.5 259.5h1.3v1.3h-1.3zM420.5 266.2h1.3v1.3h-1.3zM422.1 258.4h1.3v1.3h-1.3zM429.9 257.9h1.3v1.3h-1.3zM402.5 279.2h1.3v1.3h-1.3zM437.6 268.0h1.3v1.3h-1.3z" fill="#7c7c7c"/></g>
<path d="M102.0 118.0 L107.3 120.7 L115.0 127.0 L125.9 133.9 L140.0 138.0 L155.0 143.0 L162.0 146.0 L168.0 138.0 L173.9 129.4" fill="none" stroke="#444444" stroke-width="1.5" stroke-linejoin="round"/>
<path d="M166.0 102.8 L168.0 110.0 L172.0 120.0 L173.9 129.4 L184.0 128.0 L190.0 123.4 L196.6 118.3 L198.8 108.8 L200.2 100.1 L204.6 92.8 L210.4 88.4 L213.4 82.6 L219.2 79.6 L225.0 76.7 L229.4 75.3 L233.8 73.8 L230.9 69.4 L228.0 65.0 L223.6 62.1 L221.4 58.5 L219.9 54.8 L223.6 51.9 L226.5 47.5 L228.7 45.3 L232.3 47.5 L235.3 49.7 L239.6 51.9 L242.6 54.1 L246.9 56.3 L251.3 59.2 L252.8 63.6 L255.0 68.0 L257.2 73.8 L258.6 79.6 L260.1 85.5 L260.1 94.2 L258.6 100.1 L257.2 108.8 L255.0 117.6 L253.5 130.0" fill="none" stroke="#444444" stroke-width="1.5" stroke-linejoin="round"/>
<path d="M252.8 63.6 L257.2 59.2 L261.5 56.3 L265.9 59.2 L269.6 54.8" fill="none" stroke="#444444" stroke-width="1.5" stroke-linejoin="round"/>
<path d="M257.2 108.8 L251.3 107.4 L245.5 111.8 L239.6 116.1 L236.7 117.6 L226.5 121.2 L217.7 116.1 L211.9 111.8 L207.5 111.0 L200.2 114.7 L196.6 118.3" fill="none" stroke="#444444" stroke-width="1.5" stroke-linejoin="round"/>
<path d="M260.1 94.2 L265.9 89.9 L277.6 88.4 L290.0 88.4 L298.0 86.0 L301.0 92.0 L300.0 100.0 L298.0 108.0 L300.0 112.0 L298.0 118.0 L296.0 125.0 L294.0 132.0 L292.0 140.0 L290.0 145.0 L288.0 152.0" fill="none" stroke="#444444" stroke-width="1.5" stroke-linejoin="round"/>
<path d="M125.9 133.9 L123.6 142.5 L125.3 156.5 L120.1 167.0 L113.1 167.0 L107.8 172.3 L99.0 168.8 L93.8 165.3 L88.5 165.3 L85.0 160.0 L76.3 158.3 L74.5 153.0 L76.3 147.8 L81.5 146.9 L85.0 146.0" fill="none" stroke="#444444" stroke-width="1.5" stroke-linejoin="round"/>
<path d="M87.7 174.0 L92.0 177.6 L93.8 189.8 L97.3 195.1 L107.8 198.6 L116.6 200.3 L123.6 200.3 L130.6 195.1 L134.1 189.8 L130.6 184.6" fill="none" stroke="#444444" stroke-width="1.5" stroke-linejoin="round"/>
<path d="M173.5 130.2 L176.0 137.0 L180.0 144.0 L186.4 151.1 L190.9 162.9 L197.0 173.1 L203.1 181.3 L205.2 189.5 L207.2 193.6 L215.4 194.6 L221.5 191.5 L231.7 187.4 L237.9 181.3 L244.0 171.1 L243.0 163.9 L244.0 152.7 L246.1 142.5 L250.1 134.3 L253.5 128.0" fill="none" stroke="#444444" stroke-width="1.5" stroke-linejoin="round"/>
<path d="M243.0 163.9 L248.1 171.1 L252.2 175.2 L257.3 179.3" fill="none" stroke="#444444" stroke-width="1.5" stroke-linejoin="round"/>
<path d="M177.6 203.8 L182.7 209.9 L190.9 218.1 L197.0 230.4 L199.0 234.4 L205.2 228.3 L207.2 218.1 L209.3 205.8 L207.2 197.7 L206.2 194.6" fill="none" stroke="#444444" stroke-width="1.5" stroke-linejoin="round"/>
<path d="M217.5 299.7 L221.6 309.4" fill="none" stroke="#555" stroke-width="1.0" stroke-linejoin="round"/>
<path d="M60.5 39.3 L64.0 43.0 L69.0 45.0 L75.6 46.3" fill="none" stroke="#444" stroke-width="1.1" stroke-linejoin="round"/>
<circle cx="60.5" cy="39.3" r="3.3" fill="#e2e2e2" stroke="#1a1a1a" stroke-width="0.9"/>
<path d="M59.5 38.0h1.6v2.6h-1.6z" fill="#555"/>
<circle cx="75.6" cy="46.3" r="3.3" fill="#e2e2e2" stroke="#1a1a1a" stroke-width="0.9"/>
<path d="M74.6 45.0h1.6v2.6h-1.6z" fill="#555"/>
<circle cx="176.3" cy="52.9" r="3.3" fill="#e2e2e2" stroke="#1a1a1a" stroke-width="0.9"/>
<path d="M175.3 51.6h1.6v2.6h-1.6z" fill="#555"/>
<circle cx="182.9" cy="52.9" r="3.3" fill="#e2e2e2" stroke="#1a1a1a" stroke-width="0.9"/>
<path d="M181.9 51.6h1.6v2.6h-1.6z" fill="#555"/>
<circle cx="221.4" cy="58.5" r="3.3" fill="#1a1a1a" stroke="#1a1a1a" stroke-width="0.9"/>
<path d="M220.4 57.2h1.6v2.6h-1.6z" fill="#cfcfcf"/>
<circle cx="209.0" cy="69.4" r="3.3" fill="#e2e2e2" stroke="#1a1a1a" stroke-width="0.9"/>
<path d="M208.0 68.1h1.6v2.6h-1.6z" fill="#555"/>
<circle cx="252.8" cy="63.6" r="3.3" fill="#1a1a1a" stroke="#1a1a1a" stroke-width="0.9"/>
<path d="M251.8 62.3h1.6v2.6h-1.6z" fill="#cfcfcf"/>
<circle cx="269.6" cy="54.8" r="3.3" fill="#e2e2e2" stroke="#1a1a1a" stroke-width="0.9"/>
<path d="M268.6 53.5h1.6v2.6h-1.6z" fill="#555"/>
<circle cx="260.0" cy="94.2" r="3.3" fill="#e2e2e2" stroke="#1a1a1a" stroke-width="0.9"/>
<path d="M259.0 92.9h1.6v2.6h-1.6z" fill="#555"/>
<circle cx="257.2" cy="108.8" r="3.3" fill="#e2e2e2" stroke="#1a1a1a" stroke-width="0.9"/>
<path d="M256.2 107.5h1.6v2.6h-1.6z" fill="#555"/>
<circle cx="236.7" cy="113.9" r="3.3" fill="#e2e2e2" stroke="#1a1a1a" stroke-width="0.9"/>
<path d="M235.7 112.6h1.6v2.6h-1.6z" fill="#555"/>
<circle cx="238.2" cy="118.3" r="3.3" fill="#1a1a1a" stroke="#1a1a1a" stroke-width="0.9"/>
<path d="M237.2 117.0h1.6v2.6h-1.6z" fill="#cfcfcf"/>
<circle cx="196.6" cy="118.3" r="3.3" fill="#e2e2e2" stroke="#1a1a1a" stroke-width="0.9"/>
<path d="M195.6 117.0h1.6v2.6h-1.6z" fill="#555"/>
<circle cx="298.6" cy="106.0" r="3.3" fill="#e2e2e2" stroke="#1a1a1a" stroke-width="0.9"/>
<path d="M297.6 104.7h1.6v2.6h-1.6z" fill="#555"/>
<circle cx="302.5" cy="109.3" r="3.3" fill="#1a1a1a" stroke="#1a1a1a" stroke-width="0.9"/>
<path d="M301.5 108.0h1.6v2.6h-1.6z" fill="#cfcfcf"/>
<circle cx="288.9" cy="144.9" r="3.3" fill="#e2e2e2" stroke="#1a1a1a" stroke-width="0.9"/>
<path d="M287.9 143.6h1.6v2.6h-1.6z" fill="#555"/>
<circle cx="165.8" cy="103.9" r="3.3" fill="#e2e2e2" stroke="#1a1a1a" stroke-width="0.9"/>
<path d="M164.8 102.6h1.6v2.6h-1.6z" fill="#555"/>
<circle cx="173.9" cy="130.1" r="3.3" fill="#1a1a1a" stroke="#1a1a1a" stroke-width="0.9"/>
<path d="M172.9 128.8h1.6v2.6h-1.6z" fill="#cfcfcf"/>
<circle cx="184.1" cy="128.2" r="3.3" fill="#e2e2e2" stroke="#1a1a1a" stroke-width="0.9"/>
<path d="M183.1 126.9h1.6v2.6h-1.6z" fill="#555"/>
<circle cx="186.3" cy="151.0" r="3.3" fill="#1a1a1a" stroke="#1a1a1a" stroke-width="0.9"/>
<path d="M185.3 149.7h1.6v2.6h-1.6z" fill="#cfcfcf"/>
<circle cx="206.0" cy="155.7" r="3.3" fill="#e2e2e2" stroke="#1a1a1a" stroke-width="0.9"/>
<path d="M205.0 154.4h1.6v2.6h-1.6z" fill="#555"/>
<circle cx="242.5" cy="164.5" r="3.3" fill="#1a1a1a" stroke="#1a1a1a" stroke-width="0.9"/>
<path d="M241.5 163.2h1.6v2.6h-1.6z" fill="#cfcfcf"/>
<circle cx="257.3" cy="179.3" r="3.3" fill="#e2e2e2" stroke="#1a1a1a" stroke-width="0.9"/>
<path d="M256.3 178.0h1.6v2.6h-1.6z" fill="#555"/>
<circle cx="235.8" cy="181.3" r="3.3" fill="#1a1a1a" stroke="#1a1a1a" stroke-width="0.9"/>
<path d="M234.8 180.0h1.6v2.6h-1.6z" fill="#cfcfcf"/>
<circle cx="236.9" cy="185.4" r="3.3" fill="#e2e2e2" stroke="#1a1a1a" stroke-width="0.9"/>
<path d="M235.9 184.1h1.6v2.6h-1.6z" fill="#555"/>
<circle cx="206.2" cy="194.6" r="3.3" fill="#e2e2e2" stroke="#1a1a1a" stroke-width="0.9"/>
<path d="M205.2 193.3h1.6v2.6h-1.6z" fill="#555"/>
<circle cx="211.3" cy="190.5" r="3.3" fill="#1a1a1a" stroke="#1a1a1a" stroke-width="0.9"/>
<path d="M210.3 189.2h1.6v2.6h-1.6z" fill="#cfcfcf"/>
<circle cx="215.4" cy="194.6" r="3.3" fill="#e2e2e2" stroke="#1a1a1a" stroke-width="0.9"/>
<path d="M214.4 193.3h1.6v2.6h-1.6z" fill="#555"/>
<circle cx="177.6" cy="203.8" r="3.3" fill="#e2e2e2" stroke="#1a1a1a" stroke-width="0.9"/>
<path d="M176.6 202.5h1.6v2.6h-1.6z" fill="#555"/>
<circle cx="85.0" cy="146.9" r="3.3" fill="#e2e2e2" stroke="#1a1a1a" stroke-width="0.9"/>
<path d="M84.0 145.6h1.6v2.6h-1.6z" fill="#555"/>
<circle cx="95.2" cy="162.1" r="3.3" fill="#e2e2e2" stroke="#1a1a1a" stroke-width="0.9"/>
<path d="M94.2 160.8h1.6v2.6h-1.6z" fill="#555"/>
<circle cx="92.9" cy="167.9" r="3.3" fill="#1a1a1a" stroke="#1a1a1a" stroke-width="0.9"/>
<path d="M91.9 166.6h1.6v2.6h-1.6z" fill="#cfcfcf"/>
<circle cx="80.1" cy="175.8" r="3.3" fill="#e2e2e2" stroke="#1a1a1a" stroke-width="0.9"/>
<path d="M79.1 174.5h1.6v2.6h-1.6z" fill="#555"/>
<circle cx="87.7" cy="174.6" r="3.3" fill="#1a1a1a" stroke="#1a1a1a" stroke-width="0.9"/>
<path d="M86.7 173.3h1.6v2.6h-1.6z" fill="#cfcfcf"/>
<circle cx="129.7" cy="182.8" r="3.3" fill="#e2e2e2" stroke="#1a1a1a" stroke-width="0.9"/>
<path d="M128.7 181.5h1.6v2.6h-1.6z" fill="#555"/>
<circle cx="75.9" cy="206.5" r="3.3" fill="#e2e2e2" stroke="#1a1a1a" stroke-width="0.9"/>
<path d="M74.9 205.2h1.6v2.6h-1.6z" fill="#555"/>
<circle cx="107.3" cy="120.7" r="3.3" fill="#e2e2e2" stroke="#1a1a1a" stroke-width="0.9"/>
<path d="M106.3 119.4h1.6v2.6h-1.6z" fill="#555"/>
<circle cx="125.9" cy="133.9" r="3.3" fill="#1a1a1a" stroke="#1a1a1a" stroke-width="0.9"/>
<path d="M124.9 132.6h1.6v2.6h-1.6z" fill="#cfcfcf"/>
<circle cx="247.2" cy="258.1" r="3.3" fill="#e2e2e2" stroke="#1a1a1a" stroke-width="0.9"/>
<path d="M246.2 256.8h1.6v2.6h-1.6z" fill="#555"/>
<circle cx="248.3" cy="261.6" r="3.3" fill="#e2e2e2" stroke="#1a1a1a" stroke-width="0.9"/>
<path d="M247.3 260.3h1.6v2.6h-1.6z" fill="#555"/>
<circle cx="273.4" cy="258.4" r="3.3" fill="#e2e2e2" stroke="#1a1a1a" stroke-width="0.9"/>
<path d="M272.4 257.1h1.6v2.6h-1.6z" fill="#555"/>
<circle cx="278.3" cy="255.1" r="3.3" fill="#e2e2e2" stroke="#1a1a1a" stroke-width="0.9"/>
<path d="M277.3 253.8h1.6v2.6h-1.6z" fill="#555"/>
<circle cx="282.1" cy="267.8" r="3.3" fill="#e2e2e2" stroke="#1a1a1a" stroke-width="0.9"/>
<path d="M281.1 266.5h1.6v2.6h-1.6z" fill="#555"/>
<circle cx="217.5" cy="299.7" r="3.3" fill="#e2e2e2" stroke="#1a1a1a" stroke-width="0.9"/>
<path d="M216.5 298.4h1.6v2.6h-1.6z" fill="#555"/>
<circle cx="221.6" cy="309.4" r="3.3" fill="#e2e2e2" stroke="#1a1a1a" stroke-width="0.9"/>
<path d="M220.6 308.1h1.6v2.6h-1.6z" fill="#555"/>
<path d="M522.4 61.5 L511.3 58.9 L501.2 59.4 L491.1 63.5 L487.1 70.5 L486.1 80.6 L488.6 93.2 L490.1 103.3 L486.1 113.4 L480.1 123.4 L475.0 136.0 L472.0 148.6 L469.9 163.2 L460.9 173.8 L451.8 182.4 L444.8 189.4" fill="none" stroke="#444444" stroke-width="1.5" stroke-linejoin="round"/>
<path d="M469.9 163.2 L472.7 173.7 L476.2 185.4 L479.7 194.7 L482.0 199.4 L486.0 205.0 L491.4 208.3 L497.9 207.1" fill="none" stroke="#444444" stroke-width="1.5" stroke-linejoin="round"/>
<path d="M496.1 167.9 L498.4 178.4 L487.9 181.9 L484.8 190.1 L485.5 193.6" fill="none" stroke="#444444" stroke-width="1.5" stroke-linejoin="round"/>
<path d="M469.9 163.2 L480.9 166.7 L496.1 167.9 L507.7 167.9 L519.4 169.1 L521.8 170.9 L528.8 167.9 L538.1 163.2 L549.8 157.4 L561.5 149.2 L570.8 153.9 L584.8 152.7 L591.8 157.4 L594.4 173.8 L601.0 179.8 L596.9 191.4 L591.9 211.6 L586.9 231.7 L581.8 251.9 L580.8 272.0 L581.8 287.2 L586.9 292.2" fill="none" stroke="#444444" stroke-width="1.5" stroke-linejoin="round"/>
<path d="M607.0 272.0 L622.1 286.1 L642.3 287.2 L657.4 284.6 L662.4 274.6" fill="none" stroke="#444444" stroke-width="1.5" stroke-linejoin="round"/>
<path d="M522.4 61.5 L528.9 52.9 L540.0 48.3 L550.0 49.0 L559.3 52.3 L566.0 58.0 L572.1 63.5 L578.5 65.1 L578.5 52.0 L578.5 39.5 L585.0 37.8 L593.0 40.3 L604.2 42.7 L609.1 47.5 L612.3 57.1 L615.5 66.8 L620.3 78.0 L618.7 85.2" fill="none" stroke="#444444" stroke-width="1.5" stroke-linejoin="round"/>
<path d="M618.7 85.2 L626.7 74.8 L636.4 66.0" fill="none" stroke="#444444" stroke-width="1.5" stroke-linejoin="round"/>
<path d="M618.7 85.2 L613.9 88.4 L607.4 86.8 L601.0 92.4 L594.6 92.4 L591.4 89.2 L588.2 89.2 L586.9 88.2" fill="none" stroke="#444444" stroke-width="1.5" stroke-linejoin="round"/>
<path d="M522.4 61.5 L525.4 75.6 L526.4 85.6" fill="none" stroke="#444444" stroke-width="1.5" stroke-linejoin="round"/>
<path d="M586.9 88.2 L581.8 100.8 L575.3 116.9" fill="none" stroke="#444444" stroke-width="1.5" stroke-linejoin="round"/>
<path d="M429.7 255.8 L426.0 262.0 L420.0 270.0 L418.0 276.0 L424.0 279.0 L431.0 276.0 L440.0 281.0 L448.0 288.0 L455.0 296.0 L460.5 304.1" fill="none" stroke="#4a4a4a" stroke-width="1.3" stroke-linejoin="round"/>
<circle cx="522.4" cy="61.5" r="3.3" fill="#1a1a1a" stroke="#1a1a1a" stroke-width="0.9"/>
<path d="M521.4 60.2h1.6v2.6h-1.6z" fill="#cfcfcf"/>
<circle cx="526.4" cy="85.6" r="3.3" fill="#e2e2e2" stroke="#1a1a1a" stroke-width="0.9"/>
<path d="M525.4 84.3h1.6v2.6h-1.6z" fill="#555"/>
<circle cx="636.4" cy="66.0" r="3.3" fill="#e2e2e2" stroke="#1a1a1a" stroke-width="0.9"/>
<path d="M635.4 64.7h1.6v2.6h-1.6z" fill="#555"/>
<circle cx="618.7" cy="85.2" r="3.3" fill="#1a1a1a" stroke="#1a1a1a" stroke-width="0.9"/>
<path d="M617.7 83.9h1.6v2.6h-1.6z" fill="#cfcfcf"/>
<circle cx="575.3" cy="116.9" r="3.3" fill="#e2e2e2" stroke="#1a1a1a" stroke-width="0.9"/>
<path d="M574.3 115.6h1.6v2.6h-1.6z" fill="#555"/>
<circle cx="519.4" cy="149.9" r="3.3" fill="#e2e2e2" stroke="#1a1a1a" stroke-width="0.9"/>
<path d="M518.4 148.6h1.6v2.6h-1.6z" fill="#555"/>
<circle cx="521.8" cy="170.9" r="3.3" fill="#e2e2e2" stroke="#1a1a1a" stroke-width="0.9"/>
<path d="M520.8 169.6h1.6v2.6h-1.6z" fill="#555"/>
<circle cx="469.9" cy="163.2" r="3.3" fill="#1a1a1a" stroke="#1a1a1a" stroke-width="0.9"/>
<path d="M468.9 161.9h1.6v2.6h-1.6z" fill="#cfcfcf"/>
<circle cx="444.8" cy="189.4" r="3.3" fill="#e2e2e2" stroke="#1a1a1a" stroke-width="0.9"/>
<path d="M443.8 188.1h1.6v2.6h-1.6z" fill="#555"/>
<circle cx="485.1" cy="192.4" r="3.3" fill="#e2e2e2" stroke="#1a1a1a" stroke-width="0.9"/>
<path d="M484.1 191.1h1.6v2.6h-1.6z" fill="#555"/>
<circle cx="481.1" cy="198.0" r="3.3" fill="#1a1a1a" stroke="#1a1a1a" stroke-width="0.9"/>
<path d="M480.1 196.7h1.6v2.6h-1.6z" fill="#cfcfcf"/>
<circle cx="487.1" cy="200.0" r="3.3" fill="#e2e2e2" stroke="#1a1a1a" stroke-width="0.9"/>
<path d="M486.1 198.7h1.6v2.6h-1.6z" fill="#555"/>
<circle cx="491.1" cy="206.5" r="3.3" fill="#1a1a1a" stroke="#1a1a1a" stroke-width="0.9"/>
<path d="M490.1 205.2h1.6v2.6h-1.6z" fill="#cfcfcf"/>
<circle cx="497.2" cy="206.5" r="3.3" fill="#e2e2e2" stroke="#1a1a1a" stroke-width="0.9"/>
<path d="M496.2 205.2h1.6v2.6h-1.6z" fill="#555"/>
<circle cx="480.0" cy="211.6" r="3.3" fill="#e2e2e2" stroke="#1a1a1a" stroke-width="0.9"/>
<path d="M479.0 210.3h1.6v2.6h-1.6z" fill="#555"/>
<circle cx="587.4" cy="178.8" r="3.3" fill="#e2e2e2" stroke="#1a1a1a" stroke-width="0.9"/>
<path d="M586.4 177.5h1.6v2.6h-1.6z" fill="#555"/>
<circle cx="601.0" cy="179.8" r="3.3" fill="#e2e2e2" stroke="#1a1a1a" stroke-width="0.9"/>
<path d="M600.0 178.5h1.6v2.6h-1.6z" fill="#555"/>
<circle cx="570.2" cy="220.2" r="3.3" fill="#e2e2e2" stroke="#1a1a1a" stroke-width="0.9"/>
<path d="M569.2 218.9h1.6v2.6h-1.6z" fill="#555"/>
<circle cx="590.4" cy="220.2" r="3.3" fill="#1a1a1a" stroke="#1a1a1a" stroke-width="0.9"/>
<path d="M589.4 218.9h1.6v2.6h-1.6z" fill="#cfcfcf"/>
<circle cx="597.9" cy="217.6" r="3.3" fill="#e2e2e2" stroke="#1a1a1a" stroke-width="0.9"/>
<path d="M596.9 216.3h1.6v2.6h-1.6z" fill="#555"/>
<circle cx="576.8" cy="230.2" r="3.3" fill="#1a1a1a" stroke="#1a1a1a" stroke-width="0.9"/>
<path d="M575.8 228.9h1.6v2.6h-1.6z" fill="#cfcfcf"/>
<circle cx="585.8" cy="240.8" r="3.3" fill="#e2e2e2" stroke="#1a1a1a" stroke-width="0.9"/>
<path d="M584.8 239.5h1.6v2.6h-1.6z" fill="#555"/>
<circle cx="581.8" cy="251.9" r="3.3" fill="#1a1a1a" stroke="#1a1a1a" stroke-width="0.9"/>
<path d="M580.8 250.6h1.6v2.6h-1.6z" fill="#cfcfcf"/>
<circle cx="576.8" cy="258.0" r="3.3" fill="#e2e2e2" stroke="#1a1a1a" stroke-width="0.9"/>
<path d="M575.8 256.7h1.6v2.6h-1.6z" fill="#555"/>
<circle cx="579.3" cy="262.0" r="3.3" fill="#e2e2e2" stroke="#1a1a1a" stroke-width="0.9"/>
<path d="M578.3 260.7h1.6v2.6h-1.6z" fill="#555"/>
<circle cx="603.0" cy="269.5" r="3.3" fill="#e2e2e2" stroke="#1a1a1a" stroke-width="0.9"/>
<path d="M602.0 268.2h1.6v2.6h-1.6z" fill="#555"/>
<circle cx="608.5" cy="271.0" r="3.3" fill="#1a1a1a" stroke="#1a1a1a" stroke-width="0.9"/>
<path d="M607.5 269.7h1.6v2.6h-1.6z" fill="#cfcfcf"/>
<circle cx="602.0" cy="282.1" r="3.3" fill="#1a1a1a" stroke="#1a1a1a" stroke-width="0.9"/>
<path d="M601.0 280.8h1.6v2.6h-1.6z" fill="#cfcfcf"/>
<circle cx="591.9" cy="286.1" r="3.3" fill="#1a1a1a" stroke="#1a1a1a" stroke-width="0.9"/>
<path d="M590.9 284.8h1.6v2.6h-1.6z" fill="#cfcfcf"/>
<circle cx="599.4" cy="291.2" r="3.3" fill="#e2e2e2" stroke="#1a1a1a" stroke-width="0.9"/>
<path d="M598.4 289.9h1.6v2.6h-1.6z" fill="#555"/>
<circle cx="582.8" cy="293.7" r="3.3" fill="#e2e2e2" stroke="#1a1a1a" stroke-width="0.9"/>
<path d="M581.8 292.4h1.6v2.6h-1.6z" fill="#555"/>
<circle cx="660.9" cy="272.5" r="3.3" fill="#e2e2e2" stroke="#1a1a1a" stroke-width="0.9"/>
<path d="M659.9 271.2h1.6v2.6h-1.6z" fill="#555"/>
<circle cx="429.7" cy="255.8" r="3.3" fill="#e2e2e2" stroke="#1a1a1a" stroke-width="0.9"/>
<path d="M428.7 254.5h1.6v2.6h-1.6z" fill="#555"/>
<circle cx="460.5" cy="304.1" r="3.3" fill="#e2e2e2" stroke="#1a1a1a" stroke-width="0.9"/>
<path d="M459.5 302.8h1.6v2.6h-1.6z" fill="#555"/>
<circle cx="514.7" cy="269.6" r="3.3" fill="#e2e2e2" stroke="#1a1a1a" stroke-width="0.9"/>
<path d="M513.7 268.3h1.6v2.6h-1.6z" fill="#555"/>
<circle cx="524.9" cy="265.2" r="3.3" fill="#e2e2e2" stroke="#1a1a1a" stroke-width="0.9"/>
<path d="M523.9 263.9h1.6v2.6h-1.6z" fill="#555"/>
<rect x="35.30" y="21.20" width="297.50" height="304.20" fill="none" stroke="#333" stroke-width="1.5"/>
<rect x="379.60" y="21.30" width="298.40" height="304.90" fill="none" stroke="#333" stroke-width="1.5"/>
<line x1="31.40" y1="65.20" x2="35.30" y2="65.20" stroke="#333" stroke-width="1.0"/>
<text x="28.00" y="69.28" font-size="11.5" text-anchor="end" fill="#333">5</text>
<line x1="31.40" y1="133.50" x2="35.30" y2="133.50" stroke="#333" stroke-width="1.0"/>
<text x="28.20" y="137.58" font-size="11.5" text-anchor="end" fill="#333">0</text>
<line x1="31.40" y1="201.70" x2="35.30" y2="201.70" stroke="#333" stroke-width="1.0"/>
<text x="25.60" y="205.78" font-size="11.5" text-anchor="end" fill="#333">-5</text>
<line x1="31.40" y1="270.20" x2="35.30" y2="270.20" stroke="#333" stroke-width="1.0"/>
<text x="25.20" y="274.28" font-size="11.5" text-anchor="end" fill="#333">-10</text>
<line x1="66.30" y1="325.40" x2="66.30" y2="329.00" stroke="#333" stroke-width="1.0"/>
<text x="64.70" y="346.58" font-size="11.5" text-anchor="middle" fill="#333">-10</text>
<line x1="134.00" y1="325.40" x2="134.00" y2="329.00" stroke="#333" stroke-width="1.0"/>
<text x="132.60" y="346.58" font-size="11.5" text-anchor="middle" fill="#333">-5</text>
<line x1="201.00" y1="325.40" x2="201.00" y2="329.00" stroke="#333" stroke-width="1.0"/>
<text x="201.00" y="346.58" font-size="11.5" text-anchor="middle" fill="#333">0</text>
<line x1="268.00" y1="325.40" x2="268.00" y2="329.00" stroke="#333" stroke-width="1.0"/>
<text x="268.00" y="346.58" font-size="11.5" text-anchor="middle" fill="#333">5</text>
<line x1="376.00" y1="100.50" x2="379.60" y2="100.50" stroke="#333" stroke-width="1.0"/>
<text x="372.60" y="104.58" font-size="11.5" text-anchor="end" fill="#333">5</text>
<line x1="376.00" y1="179.20" x2="379.60" y2="179.20" stroke="#333" stroke-width="1.0"/>
<text x="372.60" y="183.28" font-size="11.5" text-anchor="end" fill="#333">0</text>
<line x1="376.00" y1="257.80" x2="379.60" y2="257.80" stroke="#333" stroke-width="1.0"/>
<text x="372.60" y="261.88" font-size="11.5" text-anchor="end" fill="#333">-5</text>
<line x1="411.60" y1="326.20" x2="411.60" y2="329.80" stroke="#333" stroke-width="1.0"/>
<text x="410.20" y="347.28" font-size="11.5" text-anchor="middle" fill="#333">-10</text>
<line x1="475.30" y1="326.20" x2="475.30" y2="329.80" stroke="#333" stroke-width="1.0"/>
<text x="473.90" y="347.28" font-size="11.5" text-anchor="middle" fill="#333">-5</text>
<line x1="538.30" y1="326.20" x2="538.30" y2="329.80" stroke="#333" stroke-width="1.0"/>
<text x="538.30" y="347.28" font-size="11.5" text-anchor="middle" fill="#333">0</text>
<line x1="602.00" y1="326.20" x2="602.00" y2="329.80" stroke="#333" stroke-width="1.0"/>
<text x="602.00" y="347.28" font-size="11.5" text-anchor="middle" fill="#333">5</text>
<line x1="665.60" y1="326.20" x2="665.60" y2="329.80" stroke="#333" stroke-width="1.0"/>
<text x="665.60" y="347.28" font-size="11.5" text-anchor="middle" fill="#333">10</text>
<text x="355.90" y="347.59" font-size="11.8" text-anchor="middle" fill="#333">UMAP1</text>
<text x="6.40" y="176.89" font-size="11.8" text-anchor="middle" fill="#333" transform="rotate(-90 6.40 172.70)">UMAP2</text>
<text x="38.10" y="11.80" font-size="15" text-anchor="middle" font-weight="bold" stroke="#222" stroke-width="0.35" fill="#222">a</text>
<text x="383.50" y="11.60" font-size="15" text-anchor="middle" font-weight="bold" stroke="#222" stroke-width="0.35" fill="#222">b</text>
<rect x="56.00" y="244.40" width="11.30" height="65.00" fill="url(#pt)" stroke="none" stroke-width="1"/>
<text x="55.60" y="238.86" font-size="8.9" text-anchor="start" fill="#333">Pseudotime</text>
<text x="69.30" y="251.05" font-size="8.6" text-anchor="start" fill="#333">20</text>
<text x="69.30" y="309.25" font-size="8.6" text-anchor="start" fill="#333">0</text>
<rect x="401.00" y="49.30" width="11.30" height="65.40" fill="url(#pt)" stroke="none" stroke-width="1"/>
<text x="400.80" y="44.36" font-size="8.9" text-anchor="start" fill="#333">Pseudotime</text>
<text x="414.30" y="55.95" font-size="8.6" text-anchor="start" fill="#333">20</text>
<text x="414.30" y="114.55" font-size="8.6" text-anchor="start" fill="#333">0</text>
<path d="M109.2 305.0 L112.5 295.2 L113.1 287.3 L117.1 278.1 L123.6 272.2 L131.5 269.6 L136.8 269.6 L139.4 271.5 L138.8 274.2 L134.2 276.8 L128.9 280.1 L127.6 283.4 L129.6 284.7 L135.5 281.4 L143.4 278.8 L149.9 279.4 L155.2 282.0 L157.8 284.0 L157.2 279.4 L152.6 270.2 L147.3 263.7 L142.7 255.8 L143.4 251.8 L147.3 250.5 L152.6 251.8 L157.8 255.1 L164.4 261.0 L169.6 267.6 L173.6 274.2 L176.2 282.0 L177.5 291.2 L178.8 299.1 L180.8 305.0" fill="url(#shf)" stroke="url(#shs)" stroke-width="1.8" stroke-linejoin="round"/>
<path d="M144.7 285.3 C149 290.5 155 295.5 161.8 295.2 C169 294.5 169.5 285 166.5 278.5 C163.5 272.5 160 268 156.5 264.5" fill="none" stroke="#333" stroke-width="0.7"/>
<path d="M154.1 261.0 L154.6 266.3 L159.6 264.2 Z" fill="#222"/>
<path d="M624.1 107.8 L661.7 107.8 L661.2 130.0 L660.4 145.4 L657.8 164.9 L653.9 180.4 L648.7 190.8 L642.9 194.0 L637.1 190.8 L630.6 177.8 L626.7 162.3 L624.7 145.4 L624.2 130.0Z" fill="#acd9a0"/>
<path d="M624.7 145.4 L632 141 L643 170 L654 141 L660.4 145.4 L657.8 164.9 L653.9 180.4 L650 186 L647 178 L643 174 L639 178 L636 186 L630.6 177.8 L626.7 162.3 Z" fill="#78b06a"/>
<path d="M634.5 107.8 L652 107.8 L651.5 139 L643 167 L634.5 139 Z" fill="#eaf6e2"/>
<path d="M638.5 107.8 L647.5 107.8 L647 140 L643 166 L639 140 Z" fill="#86bc7a"/>
<path d="M632 181 L636.5 175 L643 172.5 L649.5 175 L654 181 L648.7 190.8 L642.9 194 L637.1 190.8 Z" fill="#a6d496"/>
<path d="M624.5 111.5H634.5M651.5 111.5H661.5M624.5 115.1H634.5M651.5 115.1H661.5M624.5 118.7H634.5M651.5 118.7H661.5M624.5 122.3H634.5M651.5 122.3H661.5M624.5 125.9H634.5M651.5 125.9H661.5M624.5 129.5H634.5M651.5 129.5H661.5M624.5 133.1H634.5M651.5 133.1H661.5M624.5 136.7H634.5M651.5 136.7H661.5M624.5 140.3H634.5M651.5 140.3H661.5M634.5 110.0H638.5M647.5 110.0H651.5M634.5 112.6H638.5M647.5 112.6H651.5M634.5 115.2H638.5M647.5 115.2H651.5M634.5 117.8H638.5M647.5 117.8H651.5M634.5 120.4H638.5M647.5 120.4H651.5M634.5 123.0H638.5M647.5 123.0H651.5M634.5 125.6H638.5M647.5 125.6H651.5M634.5 128.2H638.5M647.5 128.2H651.5M634.5 130.8H638.5M647.5 130.8H651.5M634.5 133.4H638.5M647.5 133.4H651.5M634.5 136.0H638.5M647.5 136.0H651.5M634.5 138.6H638.5M647.5 138.6H651.5" stroke="#8cc27e" stroke-width="0.35" fill="none"/>
<path d="M624.1 107.8 L661.7 107.8 L661.2 130.0 L660.4 145.4 L657.8 164.9 L653.9 180.4 L648.7 190.8 L642.9 194.0 L637.1 190.8 L630.6 177.8 L626.7 162.3 L624.7 145.4 L624.2 130.0Z" fill="none" stroke="#8cc27e" stroke-width="0.4"/>
<path d="M643 166 C637 155 631 148 632.5 137" fill="none" stroke="#222" stroke-width="0.7"/>
<path d="M643 166 C649 155 655 148 653.5 137" fill="none" stroke="#222" stroke-width="0.7"/>
<path d="M630.3 139.8 L632.5 134.8 L635 139.4 Z M651 139.4 L653.5 134.8 L655.7 139.8 Z" fill="#111"/>
<path d="M637.5 177 C638 171.5 648 171.5 648.5 177" fill="none" stroke="#222" stroke-width="0.7"/>
<path d="M635.2 177.5 L639.8 176 L638 181 Z M650.8 177.5 L646.2 176 L648 181 Z" fill="#111"/>
<line x1="39.9" y1="454.1" x2="116.8" y2="454.1" stroke="url(#g35)" stroke-width="1.35" stroke-dasharray="2.1,0.2,3.2,0.1,2.8,0.3,1.2,0.4,1.1,0.3,1.2,0.1,2.4,0.6,1.4,0.2,3.1,0.6,3.0,0.3,4.3,0.1,3.9,0.3,1.5,0.2,2.0,0.6,1.6,0.4,3.2,0.3,2.9,0.1,1.2,0.2,3.3,0.3,2.1,0.4,2.5,0.3,3.7,0.5,1.8,0.4,2.8,0.6,3.5,0.3,4.3,0.2,2.4,0.5" opacity="0.9"/>
<line x1="39.9" y1="441.5" x2="116.8" y2="441.5" stroke="url(#g35)" stroke-width="1.35" stroke-dasharray="1.4,0.5,1.1,0.6,3.3,0.5,3.7,0.4,3.1,0.6,2.7,0.5,3.5,0.8,2.4,0.6,1.1,0.6,2.9,0.9,3.5,0.3,2.1,0.6,1.0,0.5,1.5,0.2,1.1,0.7,1.3,0.3,2.2,0.8,1.2,0.5,2.6,0.8,3.5,0.8,1.8,0.4,2.1,0.8,3.9,0.2,1.5,0.3,1.7,0.5,2.8,0.3,1.0,0.4,2.1,0.5,3.9,0.6" opacity="0.9"/>
<line x1="39.9" y1="434.1" x2="116.8" y2="434.1" stroke="url(#g35)" stroke-width="1.35" stroke-dasharray="2.0,0.9,2.4,0.2,2.9,1.1,2.8,1.1,1.7,0.7,1.0,0.9,1.0,0.3,1.3,0.4,1.6,0.2,0.8,0.4,1.0,0.6,0.9,1.2,2.2,0.4,1.4,0.6,1.7,0.3,2.8,1.4,1.9,0.8,1.0,0.3,1.6,0.5,2.7,0.4,0.9,1.3,2.0,0.4,2.1,0.2,2.0,1.3,2.8,1.0,1.4,0.6,1.2,1.1,2.0,1.1,1.6,0.4,2.7,1.3,2.8,1.1" opacity="0.9"/>
<line x1="39.9" y1="428.8" x2="116.8" y2="428.8" stroke="url(#g35)" stroke-width="1.35" stroke-dasharray="2.1,1.4,1.1,1.0,1.3,0.3,0.7,0.7,1.1,1.3,2.3,0.9,2.3,1.7,2.3,0.8,1.1,0.6,1.0,0.6,1.8,1.6,2.1,1.0,1.8,1.5,0.8,1.2,2.2,1.4,2.0,1.0,1.0,1.4,1.3,1.5,2.4,0.8,1.4,1.7,1.9,0.5,0.9,0.5,2.2,1.5,0.9,1.5,2.4,1.2,1.3,1.1,0.9,0.3,2.4,1.2,1.6,1.7" opacity="0.9"/>
<line x1="39.9" y1="424.5" x2="116.8" y2="424.5" stroke="url(#g35)" stroke-width="1.35" stroke-dasharray="0.8,2.1,1.1,0.8,0.7,0.9,0.7,1.5,0.7,1.2,0.6,2.2,0.8,1.3,0.9,2.2,0.8,2.2,0.9,1.4,0.9,0.4,0.8,0.7,0.5,2.0,0.6,1.3,1.0,1.5,0.7,1.4,0.9,2.0,0.6,1.5,0.7,0.9,1.1,1.4,0.9,1.9,1.2,1.3,0.9,1.4,0.9,1.8,0.8,1.4,0.9,2.3,1.0,2.2,1.2,0.9,0.9,2.3,1.1,0.6,0.6,1.2,0.6,0.8,0.6,1.7,1.1,2.2" opacity="0.9"/>
<g opacity="0.9"><path d="M51.3 412.7h1.0v1.0h-1.0zM51.8 418.9h1.0v1.0h-1.0zM50.9 407.0h1.0v1.0h-1.0zM52.5 421.0h1.0v1.0h-1.0zM52.8 411.3h1.0v1.0h-1.0zM53.0 408.8h1.0v1.0h-1.0zM51.7 418.2h1.0v1.0h-1.0zM51.8 419.7h1.0v1.0h-1.0zM53.1 417.9h1.0v1.0h-1.0zM52.3 421.5h1.0v1.0h-1.0z" fill="#79299d"/><path d="M90.2 422.8h1.0v1.0h-1.0zM92.3 419.1h1.0v1.0h-1.0z" fill="#eba246"/><path d="M107.3 405.5h1.0v1.0h-1.0z" fill="#edd33e"/><path d="M56.3 406.0h1.0v1.0h-1.0zM54.5 420.8h1.0v1.0h-1.0zM54.0 418.1h1.0v1.0h-1.0zM55.6 420.7h1.0v1.0h-1.0zM56.0 420.0h1.0v1.0h-1.0zM56.2 417.0h1.0v1.0h-1.0zM54.1 417.2h1.0v1.0h-1.0zM55.8 405.6h1.0v1.0h-1.0zM55.5 405.5h1.0v1.0h-1.0zM54.8 416.2h1.0v1.0h-1.0z" fill="#8e2aa0"/><path d="M70.0 417.9h1.0v1.0h-1.0zM69.6 417.5h1.0v1.0h-1.0z" fill="#dc5072"/><path d="M115.5 409.6h1.0v1.0h-1.0z" fill="#eef03a"/><path d="M79.1 420.5h1.0v1.0h-1.0zM79.9 421.8h1.0v1.0h-1.0zM77.9 422.5h1.0v1.0h-1.0z" fill="#e57658"/><path d="M94.9 423.5h1.0v1.0h-1.0zM95.8 416.6h1.0v1.0h-1.0z" fill="#ebac44"/><path d="M82.0 418.8h1.0v1.0h-1.0zM83.3 413.1h1.0v1.0h-1.0zM81.9 406.8h1.0v1.0h-1.0z" fill="#e78153"/><path d="M40.8 420.6h1.0v1.0h-1.0z" fill="#3b2a8e"/><path d="M87.4 417.4h1.0v1.0h-1.0zM88.2 410.5h1.0v1.0h-1.0z" fill="#eb9749"/><path d="M44.3 405.0h1.0v1.0h-1.0zM46.3 423.4h1.0v1.0h-1.0zM45.0 406.4h1.0v1.0h-1.0zM45.8 408.9h1.0v1.0h-1.0zM44.5 408.7h1.0v1.0h-1.0z" fill="#542896"/><path d="M100.0 405.4h1.0v1.0h-1.0zM102.4 421.6h1.0v1.0h-1.0zM102.4 418.9h1.0v1.0h-1.0z" fill="#ecc040"/><path d="M47.5 421.5h1.0v1.0h-1.0zM47.8 422.6h1.0v1.0h-1.0z" fill="#64289a"/><path d="M42.4 411.1h1.0v1.0h-1.0zM43.3 422.2h1.0v1.0h-1.0z" fill="#472992"/><path d="M60.2 422.9h1.0v1.0h-1.0zM60.0 422.9h1.0v1.0h-1.0zM62.3 405.0h1.0v1.0h-1.0zM60.7 415.7h1.0v1.0h-1.0z" fill="#bb3592"/><path d="M71.9 407.3h1.0v1.0h-1.0zM74.3 420.5h1.0v1.0h-1.0z" fill="#df5d68"/><path d="M63.4 421.0h1.0v1.0h-1.0zM62.6 413.6h1.0v1.0h-1.0zM65.1 412.9h1.0v1.0h-1.0zM63.2 413.2h1.0v1.0h-1.0z" fill="#ca3d88"/><path d="M97.8 421.2h1.0v1.0h-1.0z" fill="#ecb642"/><path d="M66.1 423.5h1.0v1.0h-1.0zM66.7 415.4h1.0v1.0h-1.0z" fill="#d3467d"/><path d="M58.7 423.5h1.0v1.0h-1.0zM57.0 409.1h1.0v1.0h-1.0zM57.9 418.7h1.0v1.0h-1.0zM56.5 418.6h1.0v1.0h-1.0zM59.0 416.2h1.0v1.0h-1.0zM56.4 420.1h1.0v1.0h-1.0z" fill="#a43099"/><path d="M111.3 423.1h1.0v1.0h-1.0z" fill="#eddd3c"/><path d="M77.5 409.5h1.0v1.0h-1.0z" fill="#e26a5f"/></g>
<polyline points="40.0,453.8 50.0,454.0 57.0,454.6 65.0,458.5 75.0,466.5 85.0,474.0 93.0,478.5 100.0,480.2 110.0,480.0 120.0,478.0" fill="none" stroke="#555" stroke-width="0.7"/>
<rect x="35.00" y="397.50" width="88.60" height="86.80" fill="none" stroke="#2a2a2a" stroke-width="1.4"/>
<text x="78.80" y="392.05" font-size="10" text-anchor="middle" fill="#333">SCM</text>
<line x1="32.40" y1="411.30" x2="35.00" y2="411.30" stroke="#333" stroke-width="0.8"/>
<text x="31.40" y="414.14" font-size="8" text-anchor="end" fill="#333">10</text>
<line x1="32.40" y1="441.50" x2="35.00" y2="441.50" stroke="#333" stroke-width="0.8"/>
<text x="31.40" y="444.34" font-size="8" text-anchor="end" fill="#333">3</text>
<line x1="32.40" y1="471.00" x2="35.00" y2="471.00" stroke="#333" stroke-width="0.8"/>
<text x="31.40" y="473.84" font-size="8" text-anchor="end" fill="#333">1</text>
<line x1="39.90" y1="484.30" x2="39.90" y2="486.90" stroke="#333" stroke-width="0.8"/>
<text x="39.90" y="495.84" font-size="8" text-anchor="middle" fill="#333">0</text>
<line x1="55.28" y1="484.30" x2="55.28" y2="486.90" stroke="#333" stroke-width="0.8"/>
<text x="55.28" y="495.84" font-size="8" text-anchor="middle" fill="#333">5</text>
<line x1="70.66" y1="484.30" x2="70.66" y2="486.90" stroke="#333" stroke-width="0.8"/>
<text x="70.66" y="495.84" font-size="8" text-anchor="middle" fill="#333">10</text>
<line x1="86.04" y1="484.30" x2="86.04" y2="486.90" stroke="#333" stroke-width="0.8"/>
<text x="86.04" y="495.84" font-size="8" text-anchor="middle" fill="#333">15</text>
<line x1="101.42" y1="484.30" x2="101.42" y2="486.90" stroke="#333" stroke-width="0.8"/>
<text x="101.42" y="495.84" font-size="8" text-anchor="middle" fill="#333">20</text>
<line x1="116.80" y1="484.30" x2="116.80" y2="486.90" stroke="#333" stroke-width="0.8"/>
<text x="116.80" y="495.84" font-size="8" text-anchor="middle" fill="#333">25</text>
<text x="37.30" y="481.80" font-size="9" text-anchor="start" font-style="italic" fill="#333">WRKY33</text>
<line x1="146.3" y1="479.1" x2="223.7" y2="479.1" stroke="url(#g141)" stroke-width="1.35" stroke-dasharray="3.2,0.8,2.1,0.4,4.0,0.2,3.2,0.6,1.1,0.7,3.7,0.6,3.2,0.7,1.4,0.5,2.5,0.7,3.4,0.7,2.8,0.8,3.1,0.6,1.7,0.1,1.4,0.4,1.3,0.7,2.7,0.6,2.9,0.6,2.5,0.1,3.4,0.7,2.5,0.5,3.0,0.2,3.2,0.3,1.2,0.3,3.2,0.3,3.2,0.8" opacity="0.9"/>
<line x1="146.3" y1="466.4" x2="223.7" y2="466.4" stroke="url(#g141)" stroke-width="1.35" stroke-dasharray="2.5,0.4,2.4,0.6,3.3,0.6,2.9,0.2,1.4,0.3,3.2,0.3,2.7,0.1,1.1,0.3,3.0,0.6,3.0,0.3,2.5,0.5,2.4,0.2,3.7,0.3,4.0,0.8,1.0,0.5,3.5,0.8,2.3,0.3,1.6,0.8,1.6,0.5,1.4,0.5,3.9,0.2,3.5,0.5,3.7,0.6,1.7,0.8,2.4,0.1,1.0,0.5" opacity="0.9"/>
<line x1="146.3" y1="459.3" x2="223.7" y2="459.3" stroke="url(#g141)" stroke-width="1.35" stroke-dasharray="2.3,0.3,1.4,0.4,1.9,0.7,1.0,0.7,3.5,0.2,3.8,0.6,3.7,0.3,2.1,0.4,4.0,0.6,2.1,0.4,1.8,0.2,1.3,0.7,1.8,0.8,1.7,0.3,2.5,0.3,2.1,0.8,3.7,0.7,2.9,0.8,3.9,0.5,3.2,0.2,3.2,0.5,3.3,0.6,1.8,0.2,3.8,0.2,2.4,0.4,1.9,0.7" opacity="0.9"/>
<line x1="146.3" y1="454.1" x2="223.7" y2="454.1" stroke="url(#g141)" stroke-width="1.35" stroke-dasharray="3.6,0.4,2.7,0.4,2.4,0.5,1.4,0.3,1.5,1.0,2.3,0.3,3.4,1.1,2.1,0.3,1.4,0.2,1.8,0.2,1.6,0.4,2.5,1.0,3.0,0.5,2.0,0.6,1.9,0.5,1.1,0.4,3.6,0.3,2.3,0.7,3.3,0.3,1.6,0.4,2.0,0.6,3.5,0.9,3.3,0.2,1.0,0.8,3.4,0.6,2.5,0.1,2.0,1.0,3.2,0.9" opacity="0.9"/>
<line x1="146.3" y1="450.2" x2="223.7" y2="450.2" stroke="url(#g141)" stroke-width="1.35" stroke-dasharray="3.6,0.4,1.2,0.3,2.3,0.8,3.5,0.8,2.7,0.8,2.2,0.6,1.0,0.9,1.5,1.0,2.7,0.4,1.2,0.4,2.7,0.8,1.2,0.2,2.3,0.7,2.0,0.3,2.6,0.2,1.7,0.6,3.6,0.7,3.3,0.6,1.5,0.4,3.6,0.8,1.7,0.2,2.3,0.8,2.1,0.4,2.7,1.0,1.5,0.2,1.8,0.5,2.8,0.3,3.1,0.8" opacity="0.9"/>
<line x1="149.4" y1="446.6" x2="220.6" y2="446.6" stroke="url(#g141)" stroke-width="1.35" stroke-dasharray="2.2,0.4,3.4,0.5,3.0,0.4,1.4,0.9,1.6,1.1,2.2,0.3,1.5,0.6,2.6,1.1,1.2,0.6,1.4,1.1,1.2,0.2,1.0,0.6,3.2,1.0,2.8,1.2,3.3,0.5,1.4,1.1,2.8,0.2,2.6,0.5,1.8,0.5,1.3,0.2,1.6,0.5,3.4,0.3,3.4,0.4,1.8,1.0,3.0,0.6,1.0,0.6" opacity="0.9"/>
<line x1="149.4" y1="442.7" x2="220.6" y2="442.7" stroke="url(#g141)" stroke-width="1.35" stroke-dasharray="1.8,1.1,1.4,0.5,3.2,0.2,1.9,1.0,2.9,0.2,1.0,0.2,3.3,0.4,2.8,1.1,1.8,0.4,3.4,0.8,1.6,0.9,1.7,0.4,0.9,0.9,3.3,0.8,3.3,0.2,1.5,0.6,3.4,1.1,1.9,0.4,2.0,0.7,3.3,0.3,3.0,0.9,3.0,0.9,2.5,0.5,1.7,0.5" opacity="0.9"/>
<line x1="152.5" y1="439.2" x2="217.5" y2="439.2" stroke="url(#g141)" stroke-width="1.35" stroke-dasharray="2.8,0.3,1.3,1.0,1.4,0.2,0.9,0.8,1.6,1.2,3.0,1.2,1.5,0.3,1.1,0.7,2.6,0.7,1.4,0.6,2.4,0.9,2.7,1.1,2.5,0.3,2.9,0.5,2.2,0.6,2.7,0.4,1.4,0.4,1.2,1.1,2.3,0.5,1.8,1.3,2.1,0.4,2.8,0.9,3.3,0.3,2.0,1.1" opacity="0.9"/>
<line x1="152.5" y1="436.2" x2="217.5" y2="436.2" stroke="url(#g141)" stroke-width="1.35" stroke-dasharray="2.8,1.3,0.9,0.5,1.1,0.4,3.1,0.9,3.0,0.6,2.8,0.7,1.4,1.1,3.0,0.3,2.2,0.9,1.3,0.6,1.1,0.4,1.4,0.9,2.3,0.4,0.8,0.6,2.4,0.4,1.5,0.4,2.7,0.8,1.0,0.3,1.7,0.8,2.3,0.3,1.2,1.0,1.8,0.5,1.5,1.3,1.5,0.9,1.6,0.7,2.8,1.4" opacity="0.9"/>
<line x1="152.5" y1="433.5" x2="217.5" y2="433.5" stroke="url(#g141)" stroke-width="1.35" stroke-dasharray="1.5,0.5,2.2,0.5,0.8,1.4,1.6,1.3,1.6,1.4,1.7,0.4,0.8,1.0,2.0,1.4,0.9,1.1,1.5,0.9,1.0,0.6,1.8,1.5,1.0,0.9,2.4,1.5,1.2,0.4,2.6,1.5,1.7,0.3,2.6,0.7,2.6,1.0,2.4,0.4,2.3,0.5,1.6,1.4,2.4,0.5,1.2,0.8,1.8,0.7" opacity="0.9"/>
<line x1="152.5" y1="431.3" x2="217.5" y2="431.3" stroke="url(#g141)" stroke-width="1.35" stroke-dasharray="0.9,0.6,1.9,1.6,0.8,1.1,2.0,0.3,2.1,0.4,1.7,1.1,1.8,0.7,1.4,1.1,1.4,1.2,1.5,0.9,0.7,1.2,1.5,0.6,2.0,1.4,1.5,0.5,1.5,0.4,0.9,0.9,0.9,0.9,1.6,0.3,1.8,0.4,1.9,1.4,1.6,0.3,1.6,0.8,2.3,0.4,2.2,1.8,1.9,1.5,1.0,1.7,1.5,1.7" opacity="0.9"/>
<g opacity="0.9"><path d="M174.9 429.2h1.0v1.0h-1.0zM172.2 406.6h1.0v1.0h-1.0zM174.5 427.5h1.0v1.0h-1.0zM172.8 429.5h1.0v1.0h-1.0zM174.0 420.6h1.0v1.0h-1.0zM172.4 427.7h1.0v1.0h-1.0zM172.9 427.9h1.0v1.0h-1.0zM174.0 412.7h1.0v1.0h-1.0zM172.7 429.1h1.0v1.0h-1.0zM172.2 421.5h1.0v1.0h-1.0zM174.2 430.5h1.0v1.0h-1.0zM174.2 426.4h1.0v1.0h-1.0zM172.8 408.3h1.0v1.0h-1.0zM174.9 406.0h1.0v1.0h-1.0zM173.5 411.5h1.0v1.0h-1.0zM173.5 418.6h1.0v1.0h-1.0zM173.8 430.0h1.0v1.0h-1.0zM172.9 429.2h1.0v1.0h-1.0zM174.4 430.1h1.0v1.0h-1.0zM174.3 430.4h1.0v1.0h-1.0zM174.6 422.2h1.0v1.0h-1.0zM174.3 428.1h1.0v1.0h-1.0zM174.8 424.1h1.0v1.0h-1.0zM173.6 416.5h1.0v1.0h-1.0zM173.1 421.6h1.0v1.0h-1.0zM172.6 418.0h1.0v1.0h-1.0zM172.8 411.4h1.0v1.0h-1.0zM173.2 425.9h1.0v1.0h-1.0zM173.5 427.6h1.0v1.0h-1.0zM174.7 412.6h1.0v1.0h-1.0zM174.7 412.3h1.0v1.0h-1.0zM172.2 410.5h1.0v1.0h-1.0zM174.5 430.4h1.0v1.0h-1.0zM173.0 427.2h1.0v1.0h-1.0zM173.0 424.7h1.0v1.0h-1.0zM174.3 420.9h1.0v1.0h-1.0zM175.1 418.9h1.0v1.0h-1.0zM174.8 418.8h1.0v1.0h-1.0zM172.9 412.5h1.0v1.0h-1.0zM172.6 420.0h1.0v1.0h-1.0zM175.0 423.6h1.0v1.0h-1.0zM172.8 430.1h1.0v1.0h-1.0zM172.6 427.3h1.0v1.0h-1.0zM172.8 408.5h1.0v1.0h-1.0zM172.7 409.3h1.0v1.0h-1.0zM173.5 411.7h1.0v1.0h-1.0zM172.2 423.3h1.0v1.0h-1.0zM174.3 421.6h1.0v1.0h-1.0zM172.2 429.4h1.0v1.0h-1.0zM173.9 422.6h1.0v1.0h-1.0zM172.8 405.2h1.0v1.0h-1.0zM174.8 430.2h1.0v1.0h-1.0zM174.7 407.7h1.0v1.0h-1.0zM173.2 430.4h1.0v1.0h-1.0zM172.1 415.4h1.0v1.0h-1.0zM173.9 408.4h1.0v1.0h-1.0zM173.3 418.2h1.0v1.0h-1.0zM172.9 422.8h1.0v1.0h-1.0zM173.3 426.3h1.0v1.0h-1.0zM173.1 415.6h1.0v1.0h-1.0zM173.5 418.5h1.0v1.0h-1.0zM173.0 404.0h1.0v1.0h-1.0zM173.1 401.8h1.0v1.0h-1.0z" fill="#d3467d"/><path d="M156.5 425.9h1.0v1.0h-1.0zM155.9 429.0h1.0v1.0h-1.0zM155.8 429.4h1.0v1.0h-1.0zM155.1 425.9h1.0v1.0h-1.0zM155.3 417.7h1.0v1.0h-1.0zM156.0 421.3h1.0v1.0h-1.0zM156.4 412.8h1.0v1.0h-1.0zM155.4 420.7h1.0v1.0h-1.0zM156.1 408.4h1.0v1.0h-1.0zM155.2 410.2h1.0v1.0h-1.0zM155.7 430.4h1.0v1.0h-1.0zM156.5 419.5h1.0v1.0h-1.0zM156.5 409.3h1.0v1.0h-1.0zM155.5 427.8h1.0v1.0h-1.0zM155.8 424.5h1.0v1.0h-1.0zM155.1 428.7h1.0v1.0h-1.0zM155.2 422.4h1.0v1.0h-1.0zM155.9 420.9h1.0v1.0h-1.0zM155.4 424.4h1.0v1.0h-1.0zM155.1 415.0h1.0v1.0h-1.0zM156.3 410.9h1.0v1.0h-1.0zM155.3 405.7h1.0v1.0h-1.0zM155.2 410.4h1.0v1.0h-1.0zM155.7 418.9h1.0v1.0h-1.0zM156.0 415.0h1.0v1.0h-1.0zM156.2 427.0h1.0v1.0h-1.0zM155.2 428.9h1.0v1.0h-1.0zM156.3 420.2h1.0v1.0h-1.0zM155.9 429.8h1.0v1.0h-1.0zM155.4 425.1h1.0v1.0h-1.0zM155.2 416.4h1.0v1.0h-1.0zM156.2 413.0h1.0v1.0h-1.0zM155.4 417.5h1.0v1.0h-1.0zM156.4 404.7h1.0v1.0h-1.0zM155.1 427.7h1.0v1.0h-1.0zM156.0 410.7h1.0v1.0h-1.0zM155.8 403.9h1.0v1.0h-1.0zM156.3 429.5h1.0v1.0h-1.0zM155.9 406.7h1.0v1.0h-1.0zM156.3 408.1h1.0v1.0h-1.0z" fill="#64289a"/><path d="M171.5 429.3h1.0v1.0h-1.0zM169.8 408.1h1.0v1.0h-1.0zM171.2 430.3h1.0v1.0h-1.0zM169.2 430.5h1.0v1.0h-1.0zM169.1 423.7h1.0v1.0h-1.0zM172.1 415.2h1.0v1.0h-1.0zM171.2 423.1h1.0v1.0h-1.0zM171.2 423.5h1.0v1.0h-1.0zM170.2 410.2h1.0v1.0h-1.0zM170.5 427.7h1.0v1.0h-1.0zM171.2 406.0h1.0v1.0h-1.0zM171.3 426.5h1.0v1.0h-1.0zM169.5 404.5h1.0v1.0h-1.0zM170.2 409.7h1.0v1.0h-1.0zM170.1 418.1h1.0v1.0h-1.0zM170.2 414.4h1.0v1.0h-1.0zM171.5 428.7h1.0v1.0h-1.0zM171.6 404.5h1.0v1.0h-1.0zM170.2 422.2h1.0v1.0h-1.0zM170.2 412.5h1.0v1.0h-1.0zM171.4 417.6h1.0v1.0h-1.0zM169.4 414.2h1.0v1.0h-1.0zM171.8 419.8h1.0v1.0h-1.0zM170.3 410.3h1.0v1.0h-1.0zM171.0 423.9h1.0v1.0h-1.0zM170.1 422.2h1.0v1.0h-1.0zM170.7 408.8h1.0v1.0h-1.0zM171.9 415.8h1.0v1.0h-1.0zM172.0 415.3h1.0v1.0h-1.0zM169.7 406.6h1.0v1.0h-1.0zM172.0 425.1h1.0v1.0h-1.0zM169.4 425.7h1.0v1.0h-1.0zM169.3 427.9h1.0v1.0h-1.0zM169.6 408.2h1.0v1.0h-1.0zM169.5 410.4h1.0v1.0h-1.0zM169.9 406.6h1.0v1.0h-1.0zM170.7 418.3h1.0v1.0h-1.0zM169.3 412.3h1.0v1.0h-1.0zM169.3 412.5h1.0v1.0h-1.0zM170.2 419.3h1.0v1.0h-1.0zM169.8 428.6h1.0v1.0h-1.0zM169.5 423.3h1.0v1.0h-1.0zM171.6 429.9h1.0v1.0h-1.0zM171.9 407.3h1.0v1.0h-1.0zM169.3 425.5h1.0v1.0h-1.0zM169.1 428.6h1.0v1.0h-1.0zM170.7 428.1h1.0v1.0h-1.0zM171.0 428.9h1.0v1.0h-1.0zM170.6 409.8h1.0v1.0h-1.0zM170.9 430.1h1.0v1.0h-1.0zM170.6 430.5h1.0v1.0h-1.0zM170.3 410.9h1.0v1.0h-1.0zM169.9 407.3h1.0v1.0h-1.0zM171.8 428.2h1.0v1.0h-1.0zM172.0 424.2h1.0v1.0h-1.0zM169.6 425.0h1.0v1.0h-1.0zM169.1 404.2h1.0v1.0h-1.0zM171.4 406.2h1.0v1.0h-1.0zM169.8 427.0h1.0v1.0h-1.0zM169.8 430.5h1.0v1.0h-1.0zM170.6 428.8h1.0v1.0h-1.0zM170.6 420.6h1.0v1.0h-1.0zM169.6 428.6h1.0v1.0h-1.0zM169.5 415.0h1.0v1.0h-1.0z" fill="#ca3d88"/><path d="M166.0 407.1h1.0v1.0h-1.0zM166.1 426.6h1.0v1.0h-1.0zM168.9 425.8h1.0v1.0h-1.0zM167.7 408.7h1.0v1.0h-1.0zM168.7 425.0h1.0v1.0h-1.0zM168.9 404.2h1.0v1.0h-1.0zM167.8 417.1h1.0v1.0h-1.0zM168.4 424.0h1.0v1.0h-1.0zM166.2 408.1h1.0v1.0h-1.0zM167.9 428.7h1.0v1.0h-1.0zM168.6 422.9h1.0v1.0h-1.0zM167.3 426.0h1.0v1.0h-1.0zM166.1 417.8h1.0v1.0h-1.0zM167.1 423.9h1.0v1.0h-1.0zM168.8 416.0h1.0v1.0h-1.0zM167.4 426.9h1.0v1.0h-1.0zM168.8 411.0h1.0v1.0h-1.0zM168.8 427.3h1.0v1.0h-1.0zM166.7 428.5h1.0v1.0h-1.0zM168.7 425.8h1.0v1.0h-1.0zM166.6 413.8h1.0v1.0h-1.0zM166.4 429.3h1.0v1.0h-1.0zM168.8 423.2h1.0v1.0h-1.0zM167.5 414.0h1.0v1.0h-1.0zM169.0 423.4h1.0v1.0h-1.0zM168.7 427.9h1.0v1.0h-1.0zM168.6 424.6h1.0v1.0h-1.0zM166.8 415.2h1.0v1.0h-1.0zM166.2 417.9h1.0v1.0h-1.0zM167.0 429.7h1.0v1.0h-1.0zM168.8 430.5h1.0v1.0h-1.0zM168.3 412.8h1.0v1.0h-1.0zM166.6 414.2h1.0v1.0h-1.0zM167.1 427.7h1.0v1.0h-1.0zM166.8 409.5h1.0v1.0h-1.0zM168.9 418.0h1.0v1.0h-1.0zM166.2 422.6h1.0v1.0h-1.0zM166.5 413.2h1.0v1.0h-1.0zM166.0 427.6h1.0v1.0h-1.0zM166.1 404.6h1.0v1.0h-1.0zM168.8 412.6h1.0v1.0h-1.0zM168.5 418.3h1.0v1.0h-1.0zM167.3 427.8h1.0v1.0h-1.0zM169.0 406.5h1.0v1.0h-1.0zM167.9 406.3h1.0v1.0h-1.0zM168.7 415.4h1.0v1.0h-1.0zM168.7 424.4h1.0v1.0h-1.0zM167.4 427.2h1.0v1.0h-1.0zM168.1 426.8h1.0v1.0h-1.0zM168.1 408.1h1.0v1.0h-1.0zM167.5 427.5h1.0v1.0h-1.0zM167.1 412.1h1.0v1.0h-1.0zM168.2 416.6h1.0v1.0h-1.0zM167.6 408.1h1.0v1.0h-1.0zM168.0 426.1h1.0v1.0h-1.0zM166.3 430.5h1.0v1.0h-1.0zM167.4 427.7h1.0v1.0h-1.0zM167.2 409.2h1.0v1.0h-1.0zM168.0 424.9h1.0v1.0h-1.0zM169.0 405.5h1.0v1.0h-1.0zM167.9 413.6h1.0v1.0h-1.0zM168.7 429.5h1.0v1.0h-1.0z" fill="#bb3592"/><path d="M159.6 427.7h1.0v1.0h-1.0zM158.6 406.4h1.0v1.0h-1.0zM158.7 412.6h1.0v1.0h-1.0zM157.6 421.3h1.0v1.0h-1.0zM157.4 403.8h1.0v1.0h-1.0zM157.9 428.3h1.0v1.0h-1.0zM157.4 425.8h1.0v1.0h-1.0zM158.0 406.3h1.0v1.0h-1.0zM157.2 417.9h1.0v1.0h-1.0zM159.4 418.9h1.0v1.0h-1.0zM159.7 418.4h1.0v1.0h-1.0zM156.8 407.5h1.0v1.0h-1.0zM158.2 430.4h1.0v1.0h-1.0zM157.4 406.7h1.0v1.0h-1.0zM157.4 428.7h1.0v1.0h-1.0zM157.5 430.4h1.0v1.0h-1.0zM157.3 430.0h1.0v1.0h-1.0zM159.1 422.3h1.0v1.0h-1.0zM157.5 418.0h1.0v1.0h-1.0zM156.8 412.5h1.0v1.0h-1.0zM159.6 427.7h1.0v1.0h-1.0zM158.5 410.3h1.0v1.0h-1.0zM158.8 423.8h1.0v1.0h-1.0zM157.8 423.2h1.0v1.0h-1.0zM159.2 427.0h1.0v1.0h-1.0zM158.4 429.4h1.0v1.0h-1.0zM157.3 405.2h1.0v1.0h-1.0zM157.3 425.2h1.0v1.0h-1.0zM159.3 417.9h1.0v1.0h-1.0zM157.4 428.7h1.0v1.0h-1.0zM158.2 419.1h1.0v1.0h-1.0zM157.2 424.3h1.0v1.0h-1.0zM159.1 417.4h1.0v1.0h-1.0zM158.6 412.7h1.0v1.0h-1.0zM157.3 420.0h1.0v1.0h-1.0zM159.6 416.3h1.0v1.0h-1.0zM157.7 404.2h1.0v1.0h-1.0zM157.9 412.9h1.0v1.0h-1.0zM158.1 410.8h1.0v1.0h-1.0zM157.3 429.5h1.0v1.0h-1.0zM158.7 408.3h1.0v1.0h-1.0zM159.4 416.0h1.0v1.0h-1.0zM159.7 423.9h1.0v1.0h-1.0zM159.0 430.4h1.0v1.0h-1.0zM158.4 430.5h1.0v1.0h-1.0zM157.7 405.0h1.0v1.0h-1.0zM157.0 409.2h1.0v1.0h-1.0zM157.9 430.5h1.0v1.0h-1.0zM158.7 409.6h1.0v1.0h-1.0zM158.2 412.1h1.0v1.0h-1.0zM159.4 413.9h1.0v1.0h-1.0zM157.0 411.8h1.0v1.0h-1.0zM159.2 428.9h1.0v1.0h-1.0zM159.0 415.7h1.0v1.0h-1.0zM158.3 430.4h1.0v1.0h-1.0zM157.4 418.1h1.0v1.0h-1.0zM159.4 429.0h1.0v1.0h-1.0zM156.9 430.3h1.0v1.0h-1.0zM157.7 405.3h1.0v1.0h-1.0zM157.4 426.5h1.0v1.0h-1.0zM158.1 423.6h1.0v1.0h-1.0zM157.2 406.7h1.0v1.0h-1.0zM158.2 409.2h1.0v1.0h-1.0zM158.5 427.6h1.0v1.0h-1.0zM158.7 422.4h1.0v1.0h-1.0zM157.6 404.5h1.0v1.0h-1.0zM157.0 419.2h1.0v1.0h-1.0zM159.0 426.4h1.0v1.0h-1.0zM157.9 427.0h1.0v1.0h-1.0z" fill="#79299d"/><path d="M176.6 419.9h1.0v1.0h-1.0zM175.4 414.6h1.0v1.0h-1.0zM175.5 429.5h1.0v1.0h-1.0zM176.0 428.5h1.0v1.0h-1.0zM176.0 422.1h1.0v1.0h-1.0zM176.2 414.7h1.0v1.0h-1.0zM176.4 412.2h1.0v1.0h-1.0zM175.5 421.6h1.0v1.0h-1.0zM175.5 421.4h1.0v1.0h-1.0zM175.2 409.8h1.0v1.0h-1.0zM175.9 430.2h1.0v1.0h-1.0zM176.3 422.9h1.0v1.0h-1.0zM175.6 412.6h1.0v1.0h-1.0zM176.3 410.8h1.0v1.0h-1.0zM175.3 428.2h1.0v1.0h-1.0zM176.7 425.4h1.0v1.0h-1.0zM175.6 413.3h1.0v1.0h-1.0zM176.0 403.9h1.0v1.0h-1.0zM176.0 419.8h1.0v1.0h-1.0zM175.6 426.3h1.0v1.0h-1.0zM176.8 419.6h1.0v1.0h-1.0zM177.6 411.2h1.0v1.0h-1.0z" fill="#dc5072"/><path d="M162.9 413.4h1.0v1.0h-1.0zM164.7 429.1h1.0v1.0h-1.0zM163.8 427.7h1.0v1.0h-1.0zM163.9 428.2h1.0v1.0h-1.0zM165.3 410.4h1.0v1.0h-1.0zM164.6 414.9h1.0v1.0h-1.0zM163.0 411.3h1.0v1.0h-1.0zM163.1 426.6h1.0v1.0h-1.0zM164.5 413.1h1.0v1.0h-1.0zM165.7 412.2h1.0v1.0h-1.0zM163.8 424.9h1.0v1.0h-1.0zM163.3 408.6h1.0v1.0h-1.0zM163.5 430.4h1.0v1.0h-1.0zM163.7 412.4h1.0v1.0h-1.0zM163.9 414.3h1.0v1.0h-1.0zM164.2 428.3h1.0v1.0h-1.0zM164.3 423.4h1.0v1.0h-1.0zM165.7 404.7h1.0v1.0h-1.0zM164.0 405.8h1.0v1.0h-1.0zM163.6 413.5h1.0v1.0h-1.0zM164.2 415.8h1.0v1.0h-1.0zM163.6 428.6h1.0v1.0h-1.0zM165.3 420.4h1.0v1.0h-1.0zM165.2 427.1h1.0v1.0h-1.0zM163.2 427.9h1.0v1.0h-1.0zM164.3 429.0h1.0v1.0h-1.0zM164.4 417.9h1.0v1.0h-1.0zM164.6 408.7h1.0v1.0h-1.0zM165.8 430.3h1.0v1.0h-1.0zM165.2 429.5h1.0v1.0h-1.0zM165.7 422.2h1.0v1.0h-1.0zM165.2 420.3h1.0v1.0h-1.0zM163.2 424.4h1.0v1.0h-1.0zM163.0 422.9h1.0v1.0h-1.0zM164.2 420.6h1.0v1.0h-1.0zM164.0 429.9h1.0v1.0h-1.0zM165.1 406.5h1.0v1.0h-1.0zM165.6 430.3h1.0v1.0h-1.0zM163.1 420.0h1.0v1.0h-1.0zM164.6 416.6h1.0v1.0h-1.0zM163.0 417.7h1.0v1.0h-1.0zM163.4 412.6h1.0v1.0h-1.0zM164.4 408.4h1.0v1.0h-1.0zM163.3 416.3h1.0v1.0h-1.0zM164.2 419.6h1.0v1.0h-1.0zM165.2 428.7h1.0v1.0h-1.0zM165.4 419.5h1.0v1.0h-1.0zM163.0 420.3h1.0v1.0h-1.0zM163.8 421.7h1.0v1.0h-1.0zM165.0 405.9h1.0v1.0h-1.0zM164.8 429.3h1.0v1.0h-1.0zM165.5 429.2h1.0v1.0h-1.0zM164.9 426.2h1.0v1.0h-1.0zM165.4 427.3h1.0v1.0h-1.0zM163.0 403.9h1.0v1.0h-1.0z" fill="#a43099"/><path d="M161.9 430.5h1.0v1.0h-1.0zM159.9 419.7h1.0v1.0h-1.0zM160.4 429.4h1.0v1.0h-1.0zM160.5 407.8h1.0v1.0h-1.0zM161.8 427.0h1.0v1.0h-1.0zM160.0 429.9h1.0v1.0h-1.0zM160.1 430.4h1.0v1.0h-1.0zM162.4 414.0h1.0v1.0h-1.0zM160.8 417.8h1.0v1.0h-1.0zM160.7 428.2h1.0v1.0h-1.0zM160.3 407.6h1.0v1.0h-1.0zM162.6 429.5h1.0v1.0h-1.0zM162.0 424.2h1.0v1.0h-1.0zM161.2 415.2h1.0v1.0h-1.0zM162.6 415.6h1.0v1.0h-1.0zM162.6 410.8h1.0v1.0h-1.0zM160.7 406.0h1.0v1.0h-1.0zM161.2 428.5h1.0v1.0h-1.0zM160.2 423.3h1.0v1.0h-1.0zM162.6 426.5h1.0v1.0h-1.0zM160.5 426.5h1.0v1.0h-1.0zM162.2 428.9h1.0v1.0h-1.0zM161.9 418.2h1.0v1.0h-1.0zM162.8 430.3h1.0v1.0h-1.0zM161.0 424.8h1.0v1.0h-1.0zM162.7 427.7h1.0v1.0h-1.0zM160.0 414.3h1.0v1.0h-1.0zM159.8 412.0h1.0v1.0h-1.0zM160.0 405.1h1.0v1.0h-1.0zM162.7 417.9h1.0v1.0h-1.0zM161.2 428.0h1.0v1.0h-1.0zM161.6 422.8h1.0v1.0h-1.0zM160.2 412.9h1.0v1.0h-1.0zM162.6 429.4h1.0v1.0h-1.0zM160.2 429.6h1.0v1.0h-1.0zM162.2 404.3h1.0v1.0h-1.0zM162.4 409.5h1.0v1.0h-1.0zM162.3 426.7h1.0v1.0h-1.0zM161.6 419.6h1.0v1.0h-1.0zM161.6 424.3h1.0v1.0h-1.0zM162.0 424.1h1.0v1.0h-1.0zM160.6 405.1h1.0v1.0h-1.0zM161.8 414.7h1.0v1.0h-1.0zM162.3 419.0h1.0v1.0h-1.0zM162.6 430.1h1.0v1.0h-1.0zM160.6 413.9h1.0v1.0h-1.0zM160.6 430.4h1.0v1.0h-1.0zM160.7 420.3h1.0v1.0h-1.0zM159.9 430.4h1.0v1.0h-1.0zM160.6 425.9h1.0v1.0h-1.0zM160.7 429.7h1.0v1.0h-1.0zM160.3 429.5h1.0v1.0h-1.0zM159.9 406.5h1.0v1.0h-1.0zM159.9 430.3h1.0v1.0h-1.0zM160.9 424.5h1.0v1.0h-1.0zM162.0 407.8h1.0v1.0h-1.0zM160.7 428.7h1.0v1.0h-1.0zM160.1 426.7h1.0v1.0h-1.0zM160.4 428.9h1.0v1.0h-1.0z" fill="#8e2aa0"/><path d="M195.3 413.9h1.0v1.0h-1.0zM194.4 430.4h1.0v1.0h-1.0zM195.1 430.5h1.0v1.0h-1.0zM194.5 429.1h1.0v1.0h-1.0zM193.9 415.7h1.0v1.0h-1.0zM194.5 425.1h1.0v1.0h-1.0zM194.1 428.5h1.0v1.0h-1.0zM194.9 424.8h1.0v1.0h-1.0zM195.0 429.0h1.0v1.0h-1.0zM194.1 419.7h1.0v1.0h-1.0zM193.8 424.1h1.0v1.0h-1.0zM194.6 418.2h1.0v1.0h-1.0zM195.1 430.4h1.0v1.0h-1.0z" fill="#eb9749"/><path d="M187.0 428.2h1.0v1.0h-1.0zM187.3 430.5h1.0v1.0h-1.0zM186.8 430.2h1.0v1.0h-1.0zM186.1 424.3h1.0v1.0h-1.0zM187.2 419.8h1.0v1.0h-1.0zM186.6 415.4h1.0v1.0h-1.0zM186.3 430.1h1.0v1.0h-1.0zM186.2 422.5h1.0v1.0h-1.0zM186.5 430.0h1.0v1.0h-1.0zM187.4 423.1h1.0v1.0h-1.0zM187.5 401.6h1.0v1.0h-1.0zM185.9 421.0h1.0v1.0h-1.0zM186.8 410.0h1.0v1.0h-1.0zM185.5 429.8h1.0v1.0h-1.0zM185.4 421.4h1.0v1.0h-1.0z" fill="#e57658"/><path d="M192.8 428.1h1.0v1.0h-1.0zM193.5 427.5h1.0v1.0h-1.0zM193.8 424.1h1.0v1.0h-1.0zM191.4 429.8h1.0v1.0h-1.0zM192.7 429.3h1.0v1.0h-1.0zM191.7 424.7h1.0v1.0h-1.0zM191.7 419.9h1.0v1.0h-1.0zM193.6 422.9h1.0v1.0h-1.0zM192.9 426.4h1.0v1.0h-1.0zM192.8 430.4h1.0v1.0h-1.0zM193.6 427.5h1.0v1.0h-1.0zM193.6 415.6h1.0v1.0h-1.0zM190.8 424.0h1.0v1.0h-1.0zM191.0 430.5h1.0v1.0h-1.0zM192.5 429.3h1.0v1.0h-1.0zM191.4 424.2h1.0v1.0h-1.0zM192.6 430.1h1.0v1.0h-1.0zM191.5 415.8h1.0v1.0h-1.0zM193.0 429.6h1.0v1.0h-1.0zM193.7 413.5h1.0v1.0h-1.0zM193.3 427.5h1.0v1.0h-1.0zM193.5 408.5h1.0v1.0h-1.0zM192.8 424.9h1.0v1.0h-1.0zM190.8 430.0h1.0v1.0h-1.0z" fill="#e98c4e"/><path d="M187.8 425.9h1.0v1.0h-1.0zM187.7 418.3h1.0v1.0h-1.0zM188.6 429.2h1.0v1.0h-1.0zM187.9 430.3h1.0v1.0h-1.0zM190.6 430.5h1.0v1.0h-1.0zM187.8 416.6h1.0v1.0h-1.0zM189.5 429.6h1.0v1.0h-1.0zM189.5 422.6h1.0v1.0h-1.0zM190.2 424.3h1.0v1.0h-1.0zM189.0 419.9h1.0v1.0h-1.0zM189.6 418.8h1.0v1.0h-1.0zM187.7 430.1h1.0v1.0h-1.0zM188.4 417.0h1.0v1.0h-1.0zM190.6 424.6h1.0v1.0h-1.0zM188.6 430.0h1.0v1.0h-1.0zM189.8 429.9h1.0v1.0h-1.0zM189.7 426.1h1.0v1.0h-1.0zM189.7 413.4h1.0v1.0h-1.0zM190.1 423.9h1.0v1.0h-1.0zM189.5 421.7h1.0v1.0h-1.0zM190.2 407.2h1.0v1.0h-1.0z" fill="#e78153"/><path d="M205.2 427.2h1.0v1.0h-1.0zM205.4 425.7h1.0v1.0h-1.0zM203.4 421.8h1.0v1.0h-1.0zM205.7 424.8h1.0v1.0h-1.0zM203.4 429.8h1.0v1.0h-1.0zM206.1 426.0h1.0v1.0h-1.0zM206.0 428.6h1.0v1.0h-1.0zM204.6 418.8h1.0v1.0h-1.0zM205.0 423.8h1.0v1.0h-1.0zM205.9 409.9h1.0v1.0h-1.0zM206.1 417.0h1.0v1.0h-1.0zM204.0 430.3h1.0v1.0h-1.0zM203.2 428.8h1.0v1.0h-1.0zM203.9 427.2h1.0v1.0h-1.0zM204.6 422.3h1.0v1.0h-1.0zM205.1 418.8h1.0v1.0h-1.0z" fill="#ecb642"/><path d="M208.3 410.2h1.0v1.0h-1.0zM208.2 423.9h1.0v1.0h-1.0zM206.3 420.5h1.0v1.0h-1.0zM208.7 422.9h1.0v1.0h-1.0zM206.3 428.6h1.0v1.0h-1.0zM207.5 422.0h1.0v1.0h-1.0zM208.3 418.0h1.0v1.0h-1.0zM206.6 414.4h1.0v1.0h-1.0zM206.5 407.5h1.0v1.0h-1.0zM206.7 408.5h1.0v1.0h-1.0z" fill="#ecc040"/><path d="M214.0 412.5h1.0v1.0h-1.0zM214.1 414.6h1.0v1.0h-1.0zM214.1 413.5h1.0v1.0h-1.0zM215.2 430.4h1.0v1.0h-1.0zM214.5 421.4h1.0v1.0h-1.0zM214.9 428.7h1.0v1.0h-1.0zM215.0 425.3h1.0v1.0h-1.0zM213.2 430.5h1.0v1.0h-1.0zM215.0 415.1h1.0v1.0h-1.0zM214.5 423.8h1.0v1.0h-1.0z" fill="#edd33e"/><path d="M202.4 423.7h1.0v1.0h-1.0zM201.9 429.8h1.0v1.0h-1.0zM202.9 423.0h1.0v1.0h-1.0zM201.7 426.9h1.0v1.0h-1.0zM202.5 426.3h1.0v1.0h-1.0zM203.0 413.0h1.0v1.0h-1.0zM201.8 426.9h1.0v1.0h-1.0z" fill="#ebac44"/><path d="M216.4 411.8h1.0v1.0h-1.0zM216.5 416.8h1.0v1.0h-1.0zM216.0 420.8h1.0v1.0h-1.0zM216.2 428.0h1.0v1.0h-1.0zM216.3 423.7h1.0v1.0h-1.0zM216.4 418.0h1.0v1.0h-1.0zM216.6 429.6h1.0v1.0h-1.0zM217.0 426.2h1.0v1.0h-1.0zM217.0 411.8h1.0v1.0h-1.0z" fill="#eddd3c"/><path d="M211.3 426.7h1.0v1.0h-1.0zM209.7 430.3h1.0v1.0h-1.0zM211.5 428.3h1.0v1.0h-1.0zM212.0 428.2h1.0v1.0h-1.0zM209.9 412.1h1.0v1.0h-1.0zM211.1 428.5h1.0v1.0h-1.0zM209.6 425.4h1.0v1.0h-1.0zM209.8 429.7h1.0v1.0h-1.0zM210.4 420.4h1.0v1.0h-1.0zM211.0 424.7h1.0v1.0h-1.0zM210.1 424.2h1.0v1.0h-1.0zM209.4 421.0h1.0v1.0h-1.0zM211.1 409.0h1.0v1.0h-1.0zM209.3 402.0h1.0v1.0h-1.0zM211.0 418.8h1.0v1.0h-1.0z" fill="#ecca3f"/><path d="M184.3 403.3h1.0v1.0h-1.0zM184.5 423.2h1.0v1.0h-1.0zM184.3 419.9h1.0v1.0h-1.0z" fill="#e26a5f"/><path d="M180.8 422.8h1.0v1.0h-1.0zM178.8 405.8h1.0v1.0h-1.0zM179.9 417.5h1.0v1.0h-1.0z" fill="#df5d68"/><path d="M220.0 428.6h1.0v1.0h-1.0zM220.5 422.0h1.0v1.0h-1.0zM221.5 409.5h1.0v1.0h-1.0z" fill="#eee63b"/><path d="M146.6 430.3h1.0v1.0h-1.0zM146.1 426.7h1.0v1.0h-1.0z" fill="#3b2a8e"/><path d="M198.8 424.7h1.0v1.0h-1.0zM198.2 420.8h1.0v1.0h-1.0zM197.5 428.7h1.0v1.0h-1.0z" fill="#eba246"/><path d="M153.5 425.0h1.0v1.0h-1.0z" fill="#542896"/><path d="M222.9 425.8h1.0v1.0h-1.0z" fill="#eef03a"/></g>
<polyline points="145.4,452.0 155.0,452.3 162.0,453.3 170.0,455.5 178.0,460.0 186.6,467.5 195.0,475.0 202.0,479.0 207.6,480.3 214.0,479.5 220.0,477.0 226.5,474.2" fill="none" stroke="#555" stroke-width="0.7"/>
<rect x="141.40" y="397.50" width="88.40" height="86.80" fill="none" stroke="#2a2a2a" stroke-width="1.4"/>
<text x="185.70" y="391.55" font-size="10" text-anchor="middle" fill="#333">HRG</text>
<line x1="138.80" y1="411.50" x2="141.40" y2="411.50" stroke="#333" stroke-width="0.8"/>
<text x="137.80" y="414.34" font-size="8" text-anchor="end" fill="#333">30</text>
<line x1="138.80" y1="441.30" x2="141.40" y2="441.30" stroke="#333" stroke-width="0.8"/>
<text x="137.80" y="444.14" font-size="8" text-anchor="end" fill="#333">10</text>
<line x1="138.80" y1="471.30" x2="141.40" y2="471.30" stroke="#333" stroke-width="0.8"/>
<text x="137.80" y="474.14" font-size="8" text-anchor="end" fill="#333">1</text>
<line x1="146.30" y1="484.30" x2="146.30" y2="486.90" stroke="#333" stroke-width="0.8"/>
<text x="146.30" y="495.84" font-size="8" text-anchor="middle" fill="#333">0</text>
<line x1="161.78" y1="484.30" x2="161.78" y2="486.90" stroke="#333" stroke-width="0.8"/>
<text x="161.78" y="495.84" font-size="8" text-anchor="middle" fill="#333">5</text>
<line x1="177.26" y1="484.30" x2="177.26" y2="486.90" stroke="#333" stroke-width="0.8"/>
<text x="177.26" y="495.84" font-size="8" text-anchor="middle" fill="#333">10</text>
<line x1="192.74" y1="484.30" x2="192.74" y2="486.90" stroke="#333" stroke-width="0.8"/>
<text x="192.74" y="495.84" font-size="8" text-anchor="middle" fill="#333">15</text>
<line x1="208.22" y1="484.30" x2="208.22" y2="486.90" stroke="#333" stroke-width="0.8"/>
<text x="208.22" y="495.84" font-size="8" text-anchor="middle" fill="#333">20</text>
<line x1="223.70" y1="484.30" x2="223.70" y2="486.90" stroke="#333" stroke-width="0.8"/>
<text x="223.70" y="495.84" font-size="8" text-anchor="middle" fill="#333">25</text>
<text x="226.50" y="410.00" font-size="9" text-anchor="end" font-style="italic" fill="#333">CML38</text>
<line x1="249.5" y1="468.1" x2="320.4" y2="468.1" stroke="url(#g244)" stroke-width="1.35" stroke-dasharray="1.6,0.7,2.4,1.1,2.5,0.5,1.2,0.3,3.0,0.2,1.2,0.3,2.3,0.9,2.6,0.9,1.1,0.2,3.0,0.4,2.9,0.5,1.4,0.4,1.2,1.0,2.5,0.5,2.1,0.5,1.0,1.0,2.5,1.0,2.1,0.7,1.6,0.2,3.5,0.9,1.8,1.0,3.2,0.4,2.6,1.0,2.3,1.0,1.6,0.5,2.9,0.3" opacity="0.9"/>
<line x1="249.5" y1="458.5" x2="320.4" y2="458.5" stroke="url(#g244)" stroke-width="1.35" stroke-dasharray="1.8,0.9,2.2,0.9,1.6,0.3,1.9,0.3,3.6,0.4,2.5,0.2,2.4,0.5,2.0,0.2,1.2,0.9,1.9,0.4,1.4,0.4,1.6,0.2,2.7,0.5,1.3,0.8,1.1,0.4,3.2,0.3,2.1,0.9,3.1,0.3,1.9,0.8,1.9,1.0,1.5,1.0,2.3,0.4,2.2,0.3,2.9,0.4,3.4,0.7,1.9,0.4,2.6,0.3" opacity="0.9"/>
<line x1="249.5" y1="452.3" x2="326.6" y2="452.3" stroke="url(#g244)" stroke-width="1.35" stroke-dasharray="3.6,0.2,2.5,0.5,1.8,0.7,2.1,0.6,2.7,0.3,2.2,0.2,1.5,0.7,1.9,0.6,1.3,0.5,2.1,0.5,1.9,0.2,1.9,0.3,1.3,0.6,1.8,0.4,3.8,0.7,3.7,0.8,1.4,0.3,1.0,0.6,3.0,0.4,2.2,0.6,3.1,0.3,3.6,0.4,2.9,0.3,1.3,0.8,3.2,0.6,1.1,0.1,1.4,0.3,1.9,0.4,1.1,0.3,2.9,0.3" opacity="0.9"/>
<line x1="249.5" y1="448.5" x2="326.6" y2="448.5" stroke="url(#g244)" stroke-width="1.35" stroke-dasharray="3.5,0.5,3.2,0.3,2.3,0.6,2.0,0.1,3.5,0.7,1.8,0.1,3.6,0.6,1.1,0.3,1.3,0.7,1.6,0.8,3.3,0.2,3.1,0.4,3.3,0.7,1.8,0.2,3.9,0.4,3.8,0.6,3.2,0.7,2.9,0.5,1.1,0.6,2.3,0.5,3.8,0.2,3.3,0.1,3.1,0.7,1.8,0.5,3.9,0.6" opacity="0.9"/>
<line x1="249.5" y1="445.3" x2="326.6" y2="445.3" stroke="url(#g244)" stroke-width="1.35" stroke-dasharray="2.8,0.2,1.2,0.3,2.4,0.2,2.1,0.2,3.4,0.5,1.8,0.2,2.8,0.3,4.2,0.3,2.0,0.6,1.5,0.4,2.1,0.6,2.9,0.5,1.6,0.5,3.0,0.4,3.6,0.6,1.4,0.3,2.2,0.2,1.2,0.3,1.7,0.5,2.5,0.2,2.1,0.4,2.2,0.2,1.2,0.1,4.4,0.5,1.3,0.5,4.3,0.4,1.4,0.4,2.5,0.2,2.8,0.1" opacity="0.9"/>
<line x1="249.5" y1="441.0" x2="326.6" y2="441.0" stroke="url(#g244)" stroke-width="1.35" stroke-dasharray="4.1,0.5,3.1,0.6,3.2,0.2,1.8,0.2,1.1,0.5,3.9,0.3,1.6,0.5,3.9,0.6,1.6,0.5,3.8,0.5,2.1,0.2,3.8,0.3,2.3,0.4,2.3,0.6,1.8,0.1,2.9,0.4,3.8,0.5,4.1,0.6,2.7,0.4,1.5,0.3,3.0,0.1,3.3,0.2,2.5,0.6,1.3,0.1,2.5,0.2" opacity="0.9"/>
<line x1="255.7" y1="437.4" x2="326.6" y2="437.4" stroke="url(#g244)" stroke-width="1.35" stroke-dasharray="3.5,0.1,3.9,0.6,3.7,0.3,2.0,0.5,2.7,0.3,2.2,0.3,3.3,0.6,4.1,0.2,2.0,0.3,2.9,0.3,1.7,0.1,2.1,0.4,4.3,0.6,3.9,0.6,4.3,0.4,3.8,0.1,3.3,0.4,2.0,0.4,4.2,0.4,3.2,0.3,2.2,0.6" opacity="0.9"/>
<line x1="258.8" y1="434.8" x2="326.6" y2="434.8" stroke="url(#g244)" stroke-width="1.35" stroke-dasharray="1.1,0.2,3.3,0.3,1.3,0.5,2.3,0.4,2.4,0.4,2.9,0.3,1.4,0.2,4.0,0.4,1.4,0.6,1.9,0.1,2.8,0.2,2.7,0.4,1.8,0.4,1.4,0.4,3.0,0.1,2.4,0.1,2.5,0.6,2.9,0.5,3.6,0.2,4.4,0.5,1.3,0.6,2.3,0.2,4.3,0.4,3.6,0.2" opacity="0.9"/>
<g opacity="0.9"><path d="M314.4 433.4h1.0v1.0h-1.0zM312.3 416.1h1.0v1.0h-1.0zM312.4 427.5h1.0v1.0h-1.0zM313.9 433.2h1.0v1.0h-1.0zM312.5 431.6h1.0v1.0h-1.0zM314.4 430.9h1.0v1.0h-1.0zM314.2 415.2h1.0v1.0h-1.0zM314.3 430.1h1.0v1.0h-1.0zM313.3 433.2h1.0v1.0h-1.0zM312.4 417.0h1.0v1.0h-1.0zM314.5 431.8h1.0v1.0h-1.0zM313.5 424.5h1.0v1.0h-1.0zM313.1 419.9h1.0v1.0h-1.0zM312.6 429.9h1.0v1.0h-1.0zM313.5 432.7h1.0v1.0h-1.0zM315.2 425.1h1.0v1.0h-1.0zM313.3 429.8h1.0v1.0h-1.0zM314.0 421.3h1.0v1.0h-1.0zM313.2 426.3h1.0v1.0h-1.0zM314.8 416.1h1.0v1.0h-1.0zM313.0 427.7h1.0v1.0h-1.0zM314.5 417.4h1.0v1.0h-1.0zM313.1 424.7h1.0v1.0h-1.0zM312.8 432.9h1.0v1.0h-1.0zM315.3 423.6h1.0v1.0h-1.0zM313.0 433.4h1.0v1.0h-1.0zM313.6 431.2h1.0v1.0h-1.0zM315.3 430.4h1.0v1.0h-1.0zM312.4 432.6h1.0v1.0h-1.0zM313.4 428.2h1.0v1.0h-1.0zM313.1 431.4h1.0v1.0h-1.0zM314.1 433.4h1.0v1.0h-1.0zM313.2 423.7h1.0v1.0h-1.0zM314.3 429.6h1.0v1.0h-1.0zM315.0 419.4h1.0v1.0h-1.0zM313.2 427.6h1.0v1.0h-1.0zM312.6 419.9h1.0v1.0h-1.0zM315.0 419.8h1.0v1.0h-1.0zM313.4 433.1h1.0v1.0h-1.0zM312.7 433.5h1.0v1.0h-1.0zM313.6 432.8h1.0v1.0h-1.0zM314.0 433.5h1.0v1.0h-1.0zM313.1 431.4h1.0v1.0h-1.0zM314.3 417.9h1.0v1.0h-1.0zM312.8 421.8h1.0v1.0h-1.0zM313.8 432.0h1.0v1.0h-1.0zM312.7 426.3h1.0v1.0h-1.0zM312.5 426.9h1.0v1.0h-1.0zM313.9 419.5h1.0v1.0h-1.0zM314.1 419.7h1.0v1.0h-1.0zM314.1 417.5h1.0v1.0h-1.0zM313.3 419.2h1.0v1.0h-1.0zM313.1 415.8h1.0v1.0h-1.0zM313.0 419.0h1.0v1.0h-1.0zM314.6 404.7h1.0v1.0h-1.0zM314.9 418.0h1.0v1.0h-1.0zM315.3 417.0h1.0v1.0h-1.0zM313.6 407.7h1.0v1.0h-1.0zM314.2 418.3h1.0v1.0h-1.0zM314.5 405.7h1.0v1.0h-1.0zM313.9 416.9h1.0v1.0h-1.0zM314.5 418.4h1.0v1.0h-1.0zM314.2 418.7h1.0v1.0h-1.0zM312.6 407.7h1.0v1.0h-1.0zM314.2 411.8h1.0v1.0h-1.0z" fill="#ecca3f"/><path d="M286.1 430.0h1.0v1.0h-1.0zM284.8 431.0h1.0v1.0h-1.0zM285.0 417.8h1.0v1.0h-1.0zM287.4 426.2h1.0v1.0h-1.0zM286.4 431.9h1.0v1.0h-1.0zM287.2 433.5h1.0v1.0h-1.0zM285.4 431.7h1.0v1.0h-1.0zM287.4 428.9h1.0v1.0h-1.0zM285.8 432.2h1.0v1.0h-1.0zM285.0 426.2h1.0v1.0h-1.0zM284.7 418.1h1.0v1.0h-1.0zM286.0 420.7h1.0v1.0h-1.0zM285.0 415.5h1.0v1.0h-1.0zM287.5 433.3h1.0v1.0h-1.0zM287.0 425.3h1.0v1.0h-1.0zM286.0 424.8h1.0v1.0h-1.0zM285.4 425.2h1.0v1.0h-1.0zM285.3 432.8h1.0v1.0h-1.0zM287.2 417.4h1.0v1.0h-1.0zM285.4 426.7h1.0v1.0h-1.0zM286.6 422.1h1.0v1.0h-1.0zM286.2 418.5h1.0v1.0h-1.0zM285.7 421.8h1.0v1.0h-1.0zM286.6 425.5h1.0v1.0h-1.0zM286.5 422.3h1.0v1.0h-1.0zM286.9 419.4h1.0v1.0h-1.0zM285.8 432.3h1.0v1.0h-1.0zM285.4 417.9h1.0v1.0h-1.0zM286.8 430.3h1.0v1.0h-1.0zM285.4 433.2h1.0v1.0h-1.0zM285.1 420.7h1.0v1.0h-1.0zM284.6 419.4h1.0v1.0h-1.0zM285.5 418.6h1.0v1.0h-1.0zM287.5 430.2h1.0v1.0h-1.0zM284.6 431.7h1.0v1.0h-1.0zM284.9 425.9h1.0v1.0h-1.0zM286.2 424.4h1.0v1.0h-1.0zM286.2 414.9h1.0v1.0h-1.0zM285.7 429.6h1.0v1.0h-1.0zM286.3 416.7h1.0v1.0h-1.0zM285.2 423.8h1.0v1.0h-1.0zM286.9 431.0h1.0v1.0h-1.0zM286.8 429.3h1.0v1.0h-1.0zM286.7 431.6h1.0v1.0h-1.0zM284.6 431.6h1.0v1.0h-1.0zM285.4 433.3h1.0v1.0h-1.0zM286.9 430.1h1.0v1.0h-1.0zM286.7 420.6h1.0v1.0h-1.0zM286.0 433.5h1.0v1.0h-1.0zM285.8 428.8h1.0v1.0h-1.0zM286.2 432.6h1.0v1.0h-1.0zM285.9 427.7h1.0v1.0h-1.0zM285.6 425.6h1.0v1.0h-1.0zM285.0 433.4h1.0v1.0h-1.0zM285.9 428.1h1.0v1.0h-1.0zM285.5 415.7h1.0v1.0h-1.0zM287.2 428.5h1.0v1.0h-1.0zM286.0 432.6h1.0v1.0h-1.0zM286.1 430.1h1.0v1.0h-1.0zM285.9 429.0h1.0v1.0h-1.0zM284.9 431.5h1.0v1.0h-1.0zM287.5 420.7h1.0v1.0h-1.0zM285.8 433.2h1.0v1.0h-1.0zM287.2 429.1h1.0v1.0h-1.0zM285.3 431.2h1.0v1.0h-1.0zM285.0 414.8h1.0v1.0h-1.0zM285.4 415.4h1.0v1.0h-1.0zM286.9 414.4h1.0v1.0h-1.0zM287.3 410.0h1.0v1.0h-1.0zM285.2 418.1h1.0v1.0h-1.0zM287.3 410.4h1.0v1.0h-1.0zM285.2 406.6h1.0v1.0h-1.0zM286.0 405.6h1.0v1.0h-1.0zM286.0 415.5h1.0v1.0h-1.0zM286.8 416.2h1.0v1.0h-1.0zM286.8 418.4h1.0v1.0h-1.0z" fill="#e26a5f"/><path d="M274.5 425.7h1.0v1.0h-1.0zM274.0 426.0h1.0v1.0h-1.0zM274.1 418.5h1.0v1.0h-1.0zM275.1 432.9h1.0v1.0h-1.0zM274.2 417.3h1.0v1.0h-1.0zM274.7 414.8h1.0v1.0h-1.0zM273.7 421.9h1.0v1.0h-1.0zM275.0 425.7h1.0v1.0h-1.0zM274.0 414.9h1.0v1.0h-1.0zM274.5 416.3h1.0v1.0h-1.0zM273.9 427.9h1.0v1.0h-1.0zM274.5 433.1h1.0v1.0h-1.0zM273.9 424.9h1.0v1.0h-1.0zM275.2 427.6h1.0v1.0h-1.0zM274.4 418.7h1.0v1.0h-1.0zM274.8 417.3h1.0v1.0h-1.0zM273.8 419.0h1.0v1.0h-1.0zM274.8 431.9h1.0v1.0h-1.0zM274.4 431.6h1.0v1.0h-1.0zM275.1 423.4h1.0v1.0h-1.0zM274.2 432.4h1.0v1.0h-1.0zM274.4 419.0h1.0v1.0h-1.0zM275.0 428.2h1.0v1.0h-1.0zM274.3 416.1h1.0v1.0h-1.0zM274.9 429.9h1.0v1.0h-1.0zM273.7 425.4h1.0v1.0h-1.0zM274.2 428.1h1.0v1.0h-1.0zM274.5 426.9h1.0v1.0h-1.0zM273.9 431.9h1.0v1.0h-1.0zM272.2 430.5h1.0v1.0h-1.0z" fill="#ca3d88"/><path d="M310.8 429.0h1.0v1.0h-1.0zM309.4 419.8h1.0v1.0h-1.0zM311.5 433.4h1.0v1.0h-1.0zM309.8 420.3h1.0v1.0h-1.0zM309.3 429.6h1.0v1.0h-1.0zM311.8 426.6h1.0v1.0h-1.0zM310.6 432.1h1.0v1.0h-1.0zM312.1 415.7h1.0v1.0h-1.0zM309.3 430.5h1.0v1.0h-1.0zM311.0 421.5h1.0v1.0h-1.0zM309.5 433.2h1.0v1.0h-1.0zM311.2 418.2h1.0v1.0h-1.0zM309.8 433.4h1.0v1.0h-1.0zM309.8 424.3h1.0v1.0h-1.0zM309.9 415.1h1.0v1.0h-1.0zM310.1 430.7h1.0v1.0h-1.0zM311.0 429.6h1.0v1.0h-1.0zM309.2 430.7h1.0v1.0h-1.0zM310.1 428.6h1.0v1.0h-1.0zM309.3 430.0h1.0v1.0h-1.0zM311.3 431.4h1.0v1.0h-1.0zM311.0 431.1h1.0v1.0h-1.0zM309.3 426.5h1.0v1.0h-1.0zM311.0 428.0h1.0v1.0h-1.0zM309.6 432.7h1.0v1.0h-1.0zM311.9 429.0h1.0v1.0h-1.0zM309.3 433.0h1.0v1.0h-1.0zM310.9 433.3h1.0v1.0h-1.0zM309.3 432.7h1.0v1.0h-1.0zM309.6 422.9h1.0v1.0h-1.0zM310.4 428.8h1.0v1.0h-1.0zM309.5 426.5h1.0v1.0h-1.0zM310.9 423.4h1.0v1.0h-1.0zM310.6 425.2h1.0v1.0h-1.0zM310.3 433.3h1.0v1.0h-1.0zM310.8 428.5h1.0v1.0h-1.0zM311.6 422.6h1.0v1.0h-1.0zM311.5 424.8h1.0v1.0h-1.0zM310.9 416.2h1.0v1.0h-1.0zM312.1 429.8h1.0v1.0h-1.0zM311.7 433.4h1.0v1.0h-1.0zM310.0 428.2h1.0v1.0h-1.0zM312.0 419.1h1.0v1.0h-1.0zM310.0 425.6h1.0v1.0h-1.0zM312.1 420.6h1.0v1.0h-1.0zM311.2 433.4h1.0v1.0h-1.0zM309.4 419.1h1.0v1.0h-1.0zM309.8 415.5h1.0v1.0h-1.0zM311.2 414.8h1.0v1.0h-1.0zM309.7 423.4h1.0v1.0h-1.0zM309.8 428.7h1.0v1.0h-1.0zM311.9 433.2h1.0v1.0h-1.0zM312.0 433.3h1.0v1.0h-1.0zM310.0 431.6h1.0v1.0h-1.0zM309.2 422.9h1.0v1.0h-1.0zM312.2 430.2h1.0v1.0h-1.0zM310.6 415.6h1.0v1.0h-1.0zM311.7 431.4h1.0v1.0h-1.0zM311.9 430.4h1.0v1.0h-1.0zM310.0 429.7h1.0v1.0h-1.0zM311.3 431.9h1.0v1.0h-1.0zM311.2 415.8h1.0v1.0h-1.0zM310.8 414.4h1.0v1.0h-1.0zM310.6 409.9h1.0v1.0h-1.0zM311.5 419.0h1.0v1.0h-1.0zM311.3 410.2h1.0v1.0h-1.0zM311.8 418.5h1.0v1.0h-1.0zM310.5 406.2h1.0v1.0h-1.0zM310.8 410.3h1.0v1.0h-1.0zM311.0 410.3h1.0v1.0h-1.0zM310.6 411.1h1.0v1.0h-1.0z" fill="#ecc040"/><path d="M320.3 425.0h1.0v1.0h-1.0zM319.4 426.3h1.0v1.0h-1.0zM319.6 426.9h1.0v1.0h-1.0zM319.4 425.3h1.0v1.0h-1.0zM319.4 421.2h1.0v1.0h-1.0zM320.8 431.4h1.0v1.0h-1.0zM319.6 424.6h1.0v1.0h-1.0zM319.2 431.5h1.0v1.0h-1.0zM318.9 432.4h1.0v1.0h-1.0zM319.0 414.7h1.0v1.0h-1.0zM320.0 422.3h1.0v1.0h-1.0zM319.5 422.7h1.0v1.0h-1.0zM321.3 433.4h1.0v1.0h-1.0zM318.4 427.4h1.0v1.0h-1.0zM319.2 433.4h1.0v1.0h-1.0zM320.9 421.7h1.0v1.0h-1.0zM319.4 432.8h1.0v1.0h-1.0zM318.7 426.5h1.0v1.0h-1.0zM319.1 420.4h1.0v1.0h-1.0zM318.6 431.6h1.0v1.0h-1.0zM318.9 433.3h1.0v1.0h-1.0zM319.5 428.0h1.0v1.0h-1.0zM319.8 433.0h1.0v1.0h-1.0zM320.4 433.2h1.0v1.0h-1.0zM321.1 422.0h1.0v1.0h-1.0zM319.3 431.1h1.0v1.0h-1.0zM318.9 427.4h1.0v1.0h-1.0zM320.5 424.0h1.0v1.0h-1.0zM321.2 427.7h1.0v1.0h-1.0zM320.4 422.4h1.0v1.0h-1.0zM319.7 432.6h1.0v1.0h-1.0zM320.8 417.7h1.0v1.0h-1.0zM321.5 420.6h1.0v1.0h-1.0zM320.3 427.0h1.0v1.0h-1.0zM321.2 429.8h1.0v1.0h-1.0zM320.3 417.1h1.0v1.0h-1.0zM320.1 417.0h1.0v1.0h-1.0zM318.5 420.4h1.0v1.0h-1.0zM321.1 432.7h1.0v1.0h-1.0zM319.3 433.4h1.0v1.0h-1.0zM319.3 415.7h1.0v1.0h-1.0zM318.7 433.1h1.0v1.0h-1.0zM319.0 432.1h1.0v1.0h-1.0zM318.6 430.0h1.0v1.0h-1.0zM321.0 432.5h1.0v1.0h-1.0zM320.9 433.2h1.0v1.0h-1.0zM320.2 433.4h1.0v1.0h-1.0zM320.9 431.9h1.0v1.0h-1.0zM320.1 407.5h1.0v1.0h-1.0zM319.9 406.1h1.0v1.0h-1.0zM320.9 417.3h1.0v1.0h-1.0zM320.3 410.4h1.0v1.0h-1.0zM318.5 415.3h1.0v1.0h-1.0zM318.7 410.6h1.0v1.0h-1.0zM321.2 411.4h1.0v1.0h-1.0zM319.1 414.0h1.0v1.0h-1.0zM318.7 405.6h1.0v1.0h-1.0zM319.8 419.4h1.0v1.0h-1.0zM320.6 415.7h1.0v1.0h-1.0z" fill="#eddd3c"/><path d="M321.8 418.5h1.0v1.0h-1.0zM323.4 433.5h1.0v1.0h-1.0zM322.9 423.6h1.0v1.0h-1.0zM322.8 430.5h1.0v1.0h-1.0zM322.0 425.9h1.0v1.0h-1.0zM322.1 432.1h1.0v1.0h-1.0zM322.2 426.3h1.0v1.0h-1.0zM322.9 430.1h1.0v1.0h-1.0zM323.2 424.9h1.0v1.0h-1.0zM321.8 430.3h1.0v1.0h-1.0zM322.3 427.1h1.0v1.0h-1.0zM322.2 432.4h1.0v1.0h-1.0zM321.9 426.5h1.0v1.0h-1.0zM322.0 426.4h1.0v1.0h-1.0zM321.8 432.2h1.0v1.0h-1.0zM321.5 430.7h1.0v1.0h-1.0zM322.1 414.6h1.0v1.0h-1.0zM322.9 427.1h1.0v1.0h-1.0zM322.4 433.2h1.0v1.0h-1.0zM322.1 433.4h1.0v1.0h-1.0zM322.0 433.5h1.0v1.0h-1.0zM323.0 429.3h1.0v1.0h-1.0zM324.3 423.8h1.0v1.0h-1.0zM324.1 427.0h1.0v1.0h-1.0zM323.3 433.0h1.0v1.0h-1.0zM324.4 420.8h1.0v1.0h-1.0zM323.0 419.8h1.0v1.0h-1.0zM323.9 430.1h1.0v1.0h-1.0zM323.8 427.5h1.0v1.0h-1.0zM323.6 417.9h1.0v1.0h-1.0zM324.4 415.7h1.0v1.0h-1.0zM323.1 432.3h1.0v1.0h-1.0zM324.2 431.5h1.0v1.0h-1.0zM323.0 422.0h1.0v1.0h-1.0zM324.1 430.6h1.0v1.0h-1.0zM323.4 417.0h1.0v1.0h-1.0zM322.4 424.6h1.0v1.0h-1.0zM321.9 431.5h1.0v1.0h-1.0zM321.5 419.5h1.0v1.0h-1.0zM322.5 421.5h1.0v1.0h-1.0zM324.3 432.6h1.0v1.0h-1.0zM324.2 424.5h1.0v1.0h-1.0zM324.5 423.5h1.0v1.0h-1.0zM322.6 430.4h1.0v1.0h-1.0zM322.8 426.5h1.0v1.0h-1.0zM323.1 427.1h1.0v1.0h-1.0zM322.1 428.4h1.0v1.0h-1.0zM323.2 422.1h1.0v1.0h-1.0zM323.8 431.5h1.0v1.0h-1.0zM323.1 429.4h1.0v1.0h-1.0zM324.4 418.5h1.0v1.0h-1.0zM324.1 432.3h1.0v1.0h-1.0zM323.9 420.9h1.0v1.0h-1.0zM323.9 432.2h1.0v1.0h-1.0zM323.1 426.0h1.0v1.0h-1.0zM324.5 432.8h1.0v1.0h-1.0zM322.4 426.4h1.0v1.0h-1.0zM322.2 406.7h1.0v1.0h-1.0zM321.8 419.1h1.0v1.0h-1.0zM322.6 418.9h1.0v1.0h-1.0zM323.0 413.9h1.0v1.0h-1.0z" fill="#eee63b"/><path d="M282.5 422.0h1.0v1.0h-1.0zM283.8 428.7h1.0v1.0h-1.0zM283.4 426.5h1.0v1.0h-1.0zM283.2 420.0h1.0v1.0h-1.0zM282.6 430.1h1.0v1.0h-1.0zM282.5 433.3h1.0v1.0h-1.0zM282.3 431.5h1.0v1.0h-1.0zM283.5 426.9h1.0v1.0h-1.0zM281.9 432.8h1.0v1.0h-1.0zM281.5 432.5h1.0v1.0h-1.0zM282.2 433.5h1.0v1.0h-1.0zM281.9 418.7h1.0v1.0h-1.0zM282.1 423.6h1.0v1.0h-1.0zM281.6 422.2h1.0v1.0h-1.0zM283.1 423.5h1.0v1.0h-1.0zM281.4 422.2h1.0v1.0h-1.0zM284.1 433.0h1.0v1.0h-1.0zM282.7 419.9h1.0v1.0h-1.0zM281.7 431.7h1.0v1.0h-1.0zM284.2 426.2h1.0v1.0h-1.0zM284.2 429.1h1.0v1.0h-1.0zM284.3 433.4h1.0v1.0h-1.0zM283.0 420.8h1.0v1.0h-1.0zM282.6 416.3h1.0v1.0h-1.0zM281.5 433.2h1.0v1.0h-1.0zM282.3 426.9h1.0v1.0h-1.0zM284.0 429.4h1.0v1.0h-1.0zM284.3 432.9h1.0v1.0h-1.0zM281.7 431.5h1.0v1.0h-1.0zM284.1 432.1h1.0v1.0h-1.0zM284.1 425.0h1.0v1.0h-1.0zM283.3 431.4h1.0v1.0h-1.0zM282.9 416.2h1.0v1.0h-1.0zM283.5 430.9h1.0v1.0h-1.0zM284.4 417.4h1.0v1.0h-1.0zM283.4 418.5h1.0v1.0h-1.0zM281.6 423.8h1.0v1.0h-1.0zM283.9 422.2h1.0v1.0h-1.0zM284.0 423.0h1.0v1.0h-1.0zM284.0 431.5h1.0v1.0h-1.0zM282.3 424.8h1.0v1.0h-1.0zM281.7 421.1h1.0v1.0h-1.0zM284.5 431.8h1.0v1.0h-1.0zM281.7 433.5h1.0v1.0h-1.0zM283.5 420.3h1.0v1.0h-1.0zM282.2 427.4h1.0v1.0h-1.0zM283.1 416.3h1.0v1.0h-1.0zM282.9 428.8h1.0v1.0h-1.0zM283.0 433.1h1.0v1.0h-1.0zM283.8 432.1h1.0v1.0h-1.0zM284.4 424.1h1.0v1.0h-1.0zM283.1 433.5h1.0v1.0h-1.0zM283.7 421.9h1.0v1.0h-1.0zM282.2 419.7h1.0v1.0h-1.0zM281.5 432.9h1.0v1.0h-1.0zM284.0 421.4h1.0v1.0h-1.0zM282.8 423.2h1.0v1.0h-1.0zM282.2 433.2h1.0v1.0h-1.0zM283.7 422.9h1.0v1.0h-1.0zM284.4 430.9h1.0v1.0h-1.0zM281.9 432.0h1.0v1.0h-1.0zM282.2 413.0h1.0v1.0h-1.0zM283.7 419.4h1.0v1.0h-1.0zM282.9 416.5h1.0v1.0h-1.0zM282.8 410.3h1.0v1.0h-1.0zM283.5 416.4h1.0v1.0h-1.0zM283.9 405.4h1.0v1.0h-1.0zM282.1 417.7h1.0v1.0h-1.0zM284.4 419.3h1.0v1.0h-1.0zM284.5 408.9h1.0v1.0h-1.0zM281.9 407.7h1.0v1.0h-1.0zM282.9 419.3h1.0v1.0h-1.0zM283.6 419.3h1.0v1.0h-1.0zM283.5 418.6h1.0v1.0h-1.0z" fill="#df5d68"/><path d="M291.6 421.5h1.0v1.0h-1.0zM293.6 432.8h1.0v1.0h-1.0zM291.6 432.7h1.0v1.0h-1.0zM291.2 433.5h1.0v1.0h-1.0zM292.7 431.3h1.0v1.0h-1.0zM292.0 432.9h1.0v1.0h-1.0zM292.4 421.2h1.0v1.0h-1.0zM291.6 432.9h1.0v1.0h-1.0zM290.8 421.9h1.0v1.0h-1.0zM291.2 427.8h1.0v1.0h-1.0zM290.9 433.2h1.0v1.0h-1.0zM290.6 417.5h1.0v1.0h-1.0zM292.6 421.1h1.0v1.0h-1.0zM291.5 417.1h1.0v1.0h-1.0zM292.2 427.7h1.0v1.0h-1.0zM292.7 433.5h1.0v1.0h-1.0zM293.4 431.8h1.0v1.0h-1.0zM293.7 419.6h1.0v1.0h-1.0zM293.1 430.5h1.0v1.0h-1.0zM293.7 433.5h1.0v1.0h-1.0zM290.7 431.8h1.0v1.0h-1.0zM293.2 433.4h1.0v1.0h-1.0zM293.2 424.0h1.0v1.0h-1.0zM290.9 433.3h1.0v1.0h-1.0zM291.2 427.3h1.0v1.0h-1.0zM293.6 424.6h1.0v1.0h-1.0zM291.7 416.3h1.0v1.0h-1.0zM291.1 428.6h1.0v1.0h-1.0zM292.2 429.9h1.0v1.0h-1.0zM291.1 419.3h1.0v1.0h-1.0zM291.7 432.8h1.0v1.0h-1.0zM291.0 415.3h1.0v1.0h-1.0zM292.0 432.6h1.0v1.0h-1.0zM291.5 425.6h1.0v1.0h-1.0zM291.3 432.1h1.0v1.0h-1.0zM292.2 419.2h1.0v1.0h-1.0zM293.4 416.7h1.0v1.0h-1.0zM292.6 424.1h1.0v1.0h-1.0zM292.7 415.3h1.0v1.0h-1.0zM290.7 432.9h1.0v1.0h-1.0zM293.6 415.7h1.0v1.0h-1.0zM292.7 417.1h1.0v1.0h-1.0zM292.2 416.4h1.0v1.0h-1.0zM291.6 429.6h1.0v1.0h-1.0zM291.0 426.2h1.0v1.0h-1.0zM291.6 432.4h1.0v1.0h-1.0zM292.3 417.6h1.0v1.0h-1.0zM293.5 433.5h1.0v1.0h-1.0zM292.2 433.2h1.0v1.0h-1.0zM292.9 431.0h1.0v1.0h-1.0zM291.9 430.7h1.0v1.0h-1.0zM290.9 421.3h1.0v1.0h-1.0zM292.9 426.9h1.0v1.0h-1.0zM292.6 432.8h1.0v1.0h-1.0zM292.7 422.6h1.0v1.0h-1.0zM292.6 428.3h1.0v1.0h-1.0zM292.6 433.0h1.0v1.0h-1.0zM291.7 423.9h1.0v1.0h-1.0zM292.3 423.0h1.0v1.0h-1.0zM293.1 415.7h1.0v1.0h-1.0zM291.3 427.2h1.0v1.0h-1.0zM293.5 410.9h1.0v1.0h-1.0zM293.6 415.2h1.0v1.0h-1.0zM291.9 419.4h1.0v1.0h-1.0zM291.0 410.5h1.0v1.0h-1.0zM290.9 415.4h1.0v1.0h-1.0zM291.3 416.8h1.0v1.0h-1.0zM293.2 412.6h1.0v1.0h-1.0zM293.3 407.6h1.0v1.0h-1.0zM291.0 417.8h1.0v1.0h-1.0zM291.6 408.4h1.0v1.0h-1.0z" fill="#e78153"/><path d="M280.1 429.9h1.0v1.0h-1.0zM279.6 416.8h1.0v1.0h-1.0zM279.6 433.5h1.0v1.0h-1.0zM279.5 420.5h1.0v1.0h-1.0zM280.6 433.5h1.0v1.0h-1.0zM279.3 422.3h1.0v1.0h-1.0zM279.5 415.3h1.0v1.0h-1.0zM278.8 432.6h1.0v1.0h-1.0zM280.0 427.9h1.0v1.0h-1.0zM280.8 429.0h1.0v1.0h-1.0zM279.1 430.2h1.0v1.0h-1.0zM279.9 432.0h1.0v1.0h-1.0zM279.0 433.2h1.0v1.0h-1.0zM279.0 433.2h1.0v1.0h-1.0zM278.6 428.3h1.0v1.0h-1.0zM278.3 432.8h1.0v1.0h-1.0zM278.8 424.4h1.0v1.0h-1.0zM280.6 426.0h1.0v1.0h-1.0zM279.8 428.3h1.0v1.0h-1.0zM278.5 422.7h1.0v1.0h-1.0zM280.0 423.6h1.0v1.0h-1.0zM279.0 426.6h1.0v1.0h-1.0zM281.2 425.8h1.0v1.0h-1.0zM281.0 427.3h1.0v1.0h-1.0zM279.4 431.6h1.0v1.0h-1.0zM279.5 430.9h1.0v1.0h-1.0zM280.7 430.5h1.0v1.0h-1.0zM280.6 423.0h1.0v1.0h-1.0zM280.9 431.4h1.0v1.0h-1.0zM279.5 432.0h1.0v1.0h-1.0zM279.0 433.1h1.0v1.0h-1.0zM280.4 433.1h1.0v1.0h-1.0zM280.7 433.5h1.0v1.0h-1.0zM279.1 425.7h1.0v1.0h-1.0zM280.3 432.3h1.0v1.0h-1.0zM281.1 417.3h1.0v1.0h-1.0zM279.2 420.9h1.0v1.0h-1.0zM278.6 428.7h1.0v1.0h-1.0zM279.2 419.8h1.0v1.0h-1.0zM278.4 432.1h1.0v1.0h-1.0zM279.6 427.8h1.0v1.0h-1.0zM281.2 433.1h1.0v1.0h-1.0zM280.5 415.7h1.0v1.0h-1.0zM280.9 420.8h1.0v1.0h-1.0zM278.6 433.0h1.0v1.0h-1.0zM279.9 433.3h1.0v1.0h-1.0zM281.3 420.4h1.0v1.0h-1.0zM280.9 431.8h1.0v1.0h-1.0zM280.0 415.8h1.0v1.0h-1.0zM279.1 433.5h1.0v1.0h-1.0zM279.8 431.8h1.0v1.0h-1.0zM280.4 432.0h1.0v1.0h-1.0zM279.7 416.6h1.0v1.0h-1.0zM278.6 425.8h1.0v1.0h-1.0zM280.9 432.3h1.0v1.0h-1.0zM280.3 410.0h1.0v1.0h-1.0zM281.3 413.4h1.0v1.0h-1.0zM280.1 417.1h1.0v1.0h-1.0z" fill="#dc5072"/><path d="M305.3 433.1h1.0v1.0h-1.0zM304.6 433.4h1.0v1.0h-1.0zM303.1 421.3h1.0v1.0h-1.0zM303.5 431.0h1.0v1.0h-1.0zM304.1 414.9h1.0v1.0h-1.0zM305.3 418.7h1.0v1.0h-1.0zM305.2 433.2h1.0v1.0h-1.0zM305.0 431.6h1.0v1.0h-1.0zM305.9 422.5h1.0v1.0h-1.0zM305.2 430.6h1.0v1.0h-1.0zM305.0 428.6h1.0v1.0h-1.0zM304.0 418.1h1.0v1.0h-1.0zM305.5 416.8h1.0v1.0h-1.0zM304.7 414.7h1.0v1.0h-1.0zM304.3 430.1h1.0v1.0h-1.0zM303.3 430.7h1.0v1.0h-1.0zM304.9 432.5h1.0v1.0h-1.0zM304.2 430.8h1.0v1.0h-1.0zM303.1 432.7h1.0v1.0h-1.0zM305.0 426.8h1.0v1.0h-1.0zM305.1 415.5h1.0v1.0h-1.0zM303.0 433.1h1.0v1.0h-1.0zM304.9 428.4h1.0v1.0h-1.0zM303.6 423.4h1.0v1.0h-1.0zM304.0 431.9h1.0v1.0h-1.0zM304.9 420.9h1.0v1.0h-1.0zM304.6 428.9h1.0v1.0h-1.0zM305.4 428.5h1.0v1.0h-1.0zM305.7 417.8h1.0v1.0h-1.0zM303.9 433.4h1.0v1.0h-1.0zM303.8 419.8h1.0v1.0h-1.0zM305.3 419.8h1.0v1.0h-1.0zM304.3 429.5h1.0v1.0h-1.0zM303.0 423.1h1.0v1.0h-1.0zM303.2 427.5h1.0v1.0h-1.0zM305.1 433.3h1.0v1.0h-1.0zM304.8 420.5h1.0v1.0h-1.0zM305.5 415.2h1.0v1.0h-1.0zM304.7 424.2h1.0v1.0h-1.0zM305.0 423.3h1.0v1.0h-1.0zM305.4 424.3h1.0v1.0h-1.0zM304.3 416.4h1.0v1.0h-1.0zM303.1 422.8h1.0v1.0h-1.0zM304.4 428.6h1.0v1.0h-1.0zM303.6 432.5h1.0v1.0h-1.0zM304.5 432.3h1.0v1.0h-1.0zM304.2 433.1h1.0v1.0h-1.0zM305.9 417.6h1.0v1.0h-1.0zM305.9 417.7h1.0v1.0h-1.0zM306.0 407.0h1.0v1.0h-1.0zM303.1 417.1h1.0v1.0h-1.0zM303.5 415.6h1.0v1.0h-1.0zM304.6 419.2h1.0v1.0h-1.0zM305.2 408.6h1.0v1.0h-1.0zM304.0 418.9h1.0v1.0h-1.0zM305.9 406.9h1.0v1.0h-1.0z" fill="#ebac44"/><path d="M302.4 420.4h1.0v1.0h-1.0zM300.0 418.4h1.0v1.0h-1.0zM301.4 415.9h1.0v1.0h-1.0zM302.5 429.4h1.0v1.0h-1.0zM301.9 425.8h1.0v1.0h-1.0zM302.8 424.2h1.0v1.0h-1.0zM301.1 416.4h1.0v1.0h-1.0zM302.8 432.5h1.0v1.0h-1.0zM300.1 431.9h1.0v1.0h-1.0zM299.9 433.0h1.0v1.0h-1.0zM302.2 426.6h1.0v1.0h-1.0zM301.3 425.2h1.0v1.0h-1.0zM301.0 428.1h1.0v1.0h-1.0zM301.1 427.1h1.0v1.0h-1.0zM301.0 431.8h1.0v1.0h-1.0zM301.2 427.7h1.0v1.0h-1.0zM300.5 419.8h1.0v1.0h-1.0zM300.5 429.1h1.0v1.0h-1.0zM301.8 429.9h1.0v1.0h-1.0zM301.6 429.3h1.0v1.0h-1.0zM302.6 420.8h1.0v1.0h-1.0zM300.2 430.0h1.0v1.0h-1.0zM300.0 417.9h1.0v1.0h-1.0zM300.8 431.2h1.0v1.0h-1.0zM301.3 433.5h1.0v1.0h-1.0zM301.0 423.7h1.0v1.0h-1.0zM302.2 429.1h1.0v1.0h-1.0zM303.0 423.9h1.0v1.0h-1.0zM301.4 431.2h1.0v1.0h-1.0zM301.6 427.2h1.0v1.0h-1.0zM300.0 419.0h1.0v1.0h-1.0zM302.8 420.3h1.0v1.0h-1.0zM300.5 425.8h1.0v1.0h-1.0zM300.7 428.8h1.0v1.0h-1.0zM302.8 419.9h1.0v1.0h-1.0zM300.0 425.1h1.0v1.0h-1.0zM302.3 431.2h1.0v1.0h-1.0zM300.9 428.5h1.0v1.0h-1.0zM301.5 424.4h1.0v1.0h-1.0zM301.9 416.5h1.0v1.0h-1.0zM301.1 433.0h1.0v1.0h-1.0zM300.5 416.1h1.0v1.0h-1.0zM301.1 425.9h1.0v1.0h-1.0zM301.1 423.7h1.0v1.0h-1.0zM301.6 422.5h1.0v1.0h-1.0zM302.0 418.9h1.0v1.0h-1.0zM302.3 416.8h1.0v1.0h-1.0zM300.7 418.1h1.0v1.0h-1.0zM300.3 405.6h1.0v1.0h-1.0zM299.9 411.0h1.0v1.0h-1.0zM302.2 415.1h1.0v1.0h-1.0zM302.5 408.8h1.0v1.0h-1.0zM301.4 411.9h1.0v1.0h-1.0zM301.5 407.0h1.0v1.0h-1.0zM301.9 406.2h1.0v1.0h-1.0zM300.1 419.2h1.0v1.0h-1.0zM302.1 418.7h1.0v1.0h-1.0z" fill="#eba246"/><path d="M309.1 431.6h1.0v1.0h-1.0zM308.8 431.4h1.0v1.0h-1.0zM306.9 424.7h1.0v1.0h-1.0zM307.0 430.3h1.0v1.0h-1.0zM307.7 432.3h1.0v1.0h-1.0zM307.7 429.4h1.0v1.0h-1.0zM307.0 430.4h1.0v1.0h-1.0zM307.6 426.6h1.0v1.0h-1.0zM306.6 426.8h1.0v1.0h-1.0zM307.0 418.8h1.0v1.0h-1.0zM308.8 422.1h1.0v1.0h-1.0zM307.2 433.4h1.0v1.0h-1.0zM309.0 423.8h1.0v1.0h-1.0zM308.1 433.4h1.0v1.0h-1.0zM308.4 432.6h1.0v1.0h-1.0zM306.1 423.3h1.0v1.0h-1.0zM307.9 419.5h1.0v1.0h-1.0zM306.1 431.2h1.0v1.0h-1.0zM308.3 420.3h1.0v1.0h-1.0zM306.8 429.9h1.0v1.0h-1.0zM307.3 431.3h1.0v1.0h-1.0zM307.1 421.1h1.0v1.0h-1.0zM306.7 431.6h1.0v1.0h-1.0zM307.5 415.5h1.0v1.0h-1.0zM306.9 423.3h1.0v1.0h-1.0zM308.8 417.6h1.0v1.0h-1.0zM308.7 426.0h1.0v1.0h-1.0zM307.7 418.3h1.0v1.0h-1.0zM309.1 415.3h1.0v1.0h-1.0zM306.7 430.5h1.0v1.0h-1.0zM306.7 422.5h1.0v1.0h-1.0zM306.4 418.1h1.0v1.0h-1.0zM307.0 423.0h1.0v1.0h-1.0zM309.0 422.8h1.0v1.0h-1.0zM306.9 422.1h1.0v1.0h-1.0zM307.8 432.2h1.0v1.0h-1.0zM307.7 417.1h1.0v1.0h-1.0zM308.8 431.3h1.0v1.0h-1.0zM308.2 425.8h1.0v1.0h-1.0zM308.3 432.5h1.0v1.0h-1.0zM307.9 426.2h1.0v1.0h-1.0zM307.3 428.2h1.0v1.0h-1.0zM308.5 419.5h1.0v1.0h-1.0zM307.9 427.4h1.0v1.0h-1.0zM306.2 432.1h1.0v1.0h-1.0zM308.4 418.8h1.0v1.0h-1.0zM307.9 427.4h1.0v1.0h-1.0zM308.2 425.8h1.0v1.0h-1.0zM306.4 428.2h1.0v1.0h-1.0zM308.9 420.5h1.0v1.0h-1.0zM307.6 432.5h1.0v1.0h-1.0zM308.4 421.4h1.0v1.0h-1.0zM309.1 432.6h1.0v1.0h-1.0zM307.3 424.7h1.0v1.0h-1.0zM306.4 423.2h1.0v1.0h-1.0zM308.5 426.3h1.0v1.0h-1.0zM306.9 431.8h1.0v1.0h-1.0zM307.2 423.4h1.0v1.0h-1.0zM308.4 431.6h1.0v1.0h-1.0zM308.7 418.3h1.0v1.0h-1.0zM306.6 419.2h1.0v1.0h-1.0zM306.6 417.6h1.0v1.0h-1.0zM308.2 416.6h1.0v1.0h-1.0zM309.1 412.2h1.0v1.0h-1.0zM308.6 418.5h1.0v1.0h-1.0zM307.1 409.2h1.0v1.0h-1.0zM307.4 404.6h1.0v1.0h-1.0zM306.5 417.5h1.0v1.0h-1.0z" fill="#ecb642"/><path d="M317.6 425.9h1.0v1.0h-1.0zM315.6 433.4h1.0v1.0h-1.0zM318.0 429.6h1.0v1.0h-1.0zM315.4 418.4h1.0v1.0h-1.0zM316.1 418.3h1.0v1.0h-1.0zM316.3 429.1h1.0v1.0h-1.0zM315.6 428.4h1.0v1.0h-1.0zM317.9 420.9h1.0v1.0h-1.0zM316.3 431.8h1.0v1.0h-1.0zM317.1 417.8h1.0v1.0h-1.0zM316.5 433.0h1.0v1.0h-1.0zM315.8 427.2h1.0v1.0h-1.0zM317.4 433.2h1.0v1.0h-1.0zM316.2 430.3h1.0v1.0h-1.0zM317.7 429.2h1.0v1.0h-1.0zM315.7 432.3h1.0v1.0h-1.0zM315.7 425.7h1.0v1.0h-1.0zM315.7 427.7h1.0v1.0h-1.0zM317.6 432.8h1.0v1.0h-1.0zM317.8 432.7h1.0v1.0h-1.0zM315.6 415.1h1.0v1.0h-1.0zM317.1 433.0h1.0v1.0h-1.0zM318.0 432.0h1.0v1.0h-1.0zM316.4 430.4h1.0v1.0h-1.0zM316.2 428.4h1.0v1.0h-1.0zM318.0 420.9h1.0v1.0h-1.0zM317.1 416.5h1.0v1.0h-1.0zM317.3 420.4h1.0v1.0h-1.0zM316.9 420.9h1.0v1.0h-1.0zM317.5 420.7h1.0v1.0h-1.0zM316.3 429.2h1.0v1.0h-1.0zM317.2 432.6h1.0v1.0h-1.0zM315.9 423.7h1.0v1.0h-1.0zM317.0 426.3h1.0v1.0h-1.0zM315.9 430.3h1.0v1.0h-1.0zM315.7 430.2h1.0v1.0h-1.0zM317.6 430.7h1.0v1.0h-1.0zM316.1 426.9h1.0v1.0h-1.0zM315.8 428.5h1.0v1.0h-1.0zM316.2 419.3h1.0v1.0h-1.0zM317.2 420.9h1.0v1.0h-1.0zM317.2 420.2h1.0v1.0h-1.0zM318.1 433.1h1.0v1.0h-1.0zM317.5 414.7h1.0v1.0h-1.0zM315.3 427.0h1.0v1.0h-1.0zM317.3 433.4h1.0v1.0h-1.0zM317.1 432.0h1.0v1.0h-1.0zM317.4 432.2h1.0v1.0h-1.0zM318.2 420.3h1.0v1.0h-1.0zM315.7 417.7h1.0v1.0h-1.0zM316.7 425.5h1.0v1.0h-1.0zM318.2 418.4h1.0v1.0h-1.0zM315.5 420.4h1.0v1.0h-1.0zM315.8 420.7h1.0v1.0h-1.0zM315.8 418.8h1.0v1.0h-1.0zM318.3 406.9h1.0v1.0h-1.0zM316.7 417.3h1.0v1.0h-1.0zM317.1 413.6h1.0v1.0h-1.0zM316.5 408.8h1.0v1.0h-1.0zM318.1 410.2h1.0v1.0h-1.0zM316.1 419.0h1.0v1.0h-1.0zM316.3 408.2h1.0v1.0h-1.0zM317.8 419.0h1.0v1.0h-1.0zM318.0 404.7h1.0v1.0h-1.0z" fill="#edd33e"/><path d="M288.9 423.5h1.0v1.0h-1.0zM288.0 427.7h1.0v1.0h-1.0zM289.6 421.5h1.0v1.0h-1.0zM290.6 414.9h1.0v1.0h-1.0zM289.5 430.9h1.0v1.0h-1.0zM289.3 414.7h1.0v1.0h-1.0zM288.5 430.6h1.0v1.0h-1.0zM289.3 433.5h1.0v1.0h-1.0zM290.3 418.3h1.0v1.0h-1.0zM288.0 432.5h1.0v1.0h-1.0zM290.2 415.4h1.0v1.0h-1.0zM287.6 417.4h1.0v1.0h-1.0zM288.1 431.5h1.0v1.0h-1.0zM290.1 431.6h1.0v1.0h-1.0zM288.0 420.6h1.0v1.0h-1.0zM289.0 422.9h1.0v1.0h-1.0zM289.1 432.2h1.0v1.0h-1.0zM289.1 431.9h1.0v1.0h-1.0zM288.9 430.3h1.0v1.0h-1.0zM287.9 417.8h1.0v1.0h-1.0zM289.3 433.3h1.0v1.0h-1.0zM288.2 432.6h1.0v1.0h-1.0zM290.0 433.4h1.0v1.0h-1.0zM289.3 429.8h1.0v1.0h-1.0zM290.5 428.8h1.0v1.0h-1.0zM290.2 432.7h1.0v1.0h-1.0zM287.6 431.8h1.0v1.0h-1.0zM288.0 419.2h1.0v1.0h-1.0zM288.1 433.3h1.0v1.0h-1.0zM288.0 432.1h1.0v1.0h-1.0zM290.1 424.9h1.0v1.0h-1.0zM288.7 417.4h1.0v1.0h-1.0zM289.6 433.3h1.0v1.0h-1.0zM288.0 421.3h1.0v1.0h-1.0zM289.6 429.3h1.0v1.0h-1.0zM288.6 429.8h1.0v1.0h-1.0zM290.5 429.4h1.0v1.0h-1.0zM288.9 431.2h1.0v1.0h-1.0zM289.4 431.6h1.0v1.0h-1.0zM287.6 422.9h1.0v1.0h-1.0zM290.5 429.2h1.0v1.0h-1.0zM288.2 405.5h1.0v1.0h-1.0zM289.6 406.7h1.0v1.0h-1.0zM290.4 406.5h1.0v1.0h-1.0zM289.1 417.1h1.0v1.0h-1.0zM290.6 419.2h1.0v1.0h-1.0zM289.4 410.4h1.0v1.0h-1.0zM288.5 417.5h1.0v1.0h-1.0zM287.9 414.1h1.0v1.0h-1.0zM288.8 419.5h1.0v1.0h-1.0zM290.1 418.0h1.0v1.0h-1.0zM288.6 413.5h1.0v1.0h-1.0zM290.4 418.5h1.0v1.0h-1.0z" fill="#e57658"/><path d="M298.6 432.7h1.0v1.0h-1.0zM298.2 426.0h1.0v1.0h-1.0zM297.8 414.9h1.0v1.0h-1.0zM298.9 430.0h1.0v1.0h-1.0zM297.4 428.7h1.0v1.0h-1.0zM298.0 433.5h1.0v1.0h-1.0zM297.4 431.3h1.0v1.0h-1.0zM298.6 424.2h1.0v1.0h-1.0zM299.1 417.9h1.0v1.0h-1.0zM298.5 422.6h1.0v1.0h-1.0zM297.8 424.6h1.0v1.0h-1.0zM297.4 433.2h1.0v1.0h-1.0zM298.8 420.5h1.0v1.0h-1.0zM296.9 430.0h1.0v1.0h-1.0zM297.9 428.4h1.0v1.0h-1.0zM298.5 417.9h1.0v1.0h-1.0zM298.0 427.9h1.0v1.0h-1.0zM297.5 416.6h1.0v1.0h-1.0zM297.0 418.3h1.0v1.0h-1.0zM299.1 418.7h1.0v1.0h-1.0zM299.7 426.9h1.0v1.0h-1.0zM299.3 420.7h1.0v1.0h-1.0zM298.8 427.7h1.0v1.0h-1.0zM297.7 431.9h1.0v1.0h-1.0zM299.5 417.4h1.0v1.0h-1.0zM297.5 420.2h1.0v1.0h-1.0zM297.0 415.8h1.0v1.0h-1.0zM297.1 421.8h1.0v1.0h-1.0zM297.3 419.5h1.0v1.0h-1.0zM298.7 432.9h1.0v1.0h-1.0zM297.5 423.6h1.0v1.0h-1.0zM298.4 414.8h1.0v1.0h-1.0zM298.6 419.9h1.0v1.0h-1.0zM298.0 433.4h1.0v1.0h-1.0zM299.1 424.6h1.0v1.0h-1.0zM297.6 425.9h1.0v1.0h-1.0zM298.3 429.5h1.0v1.0h-1.0zM297.7 433.0h1.0v1.0h-1.0zM296.8 423.0h1.0v1.0h-1.0zM297.8 422.8h1.0v1.0h-1.0zM298.8 432.5h1.0v1.0h-1.0zM297.4 430.8h1.0v1.0h-1.0zM299.5 414.8h1.0v1.0h-1.0zM298.9 433.5h1.0v1.0h-1.0zM298.8 431.6h1.0v1.0h-1.0zM299.5 432.4h1.0v1.0h-1.0zM299.8 418.5h1.0v1.0h-1.0zM299.5 412.5h1.0v1.0h-1.0zM298.2 417.1h1.0v1.0h-1.0zM297.9 408.8h1.0v1.0h-1.0zM297.6 412.6h1.0v1.0h-1.0zM299.8 416.3h1.0v1.0h-1.0zM297.8 407.4h1.0v1.0h-1.0zM298.5 411.0h1.0v1.0h-1.0zM298.4 419.2h1.0v1.0h-1.0zM298.6 416.6h1.0v1.0h-1.0zM298.1 413.2h1.0v1.0h-1.0zM298.0 414.7h1.0v1.0h-1.0z" fill="#eb9749"/><path d="M277.7 430.6h1.0v1.0h-1.0zM276.1 432.8h1.0v1.0h-1.0zM276.8 430.5h1.0v1.0h-1.0zM277.9 432.5h1.0v1.0h-1.0zM277.2 428.0h1.0v1.0h-1.0zM276.7 429.3h1.0v1.0h-1.0zM276.1 424.9h1.0v1.0h-1.0zM276.8 427.6h1.0v1.0h-1.0zM277.1 424.5h1.0v1.0h-1.0zM276.8 426.3h1.0v1.0h-1.0zM275.9 427.5h1.0v1.0h-1.0zM276.7 432.5h1.0v1.0h-1.0zM277.7 420.0h1.0v1.0h-1.0zM276.6 423.6h1.0v1.0h-1.0zM276.5 423.4h1.0v1.0h-1.0zM276.4 431.0h1.0v1.0h-1.0zM276.4 430.8h1.0v1.0h-1.0zM276.7 428.9h1.0v1.0h-1.0zM276.6 423.2h1.0v1.0h-1.0zM275.9 419.5h1.0v1.0h-1.0zM275.4 427.4h1.0v1.0h-1.0zM275.3 429.6h1.0v1.0h-1.0zM278.3 431.4h1.0v1.0h-1.0zM275.8 419.9h1.0v1.0h-1.0zM277.7 425.0h1.0v1.0h-1.0zM276.7 419.5h1.0v1.0h-1.0zM277.3 426.7h1.0v1.0h-1.0zM277.1 429.3h1.0v1.0h-1.0zM276.8 428.7h1.0v1.0h-1.0zM275.7 419.7h1.0v1.0h-1.0zM275.3 421.1h1.0v1.0h-1.0zM277.0 432.2h1.0v1.0h-1.0zM276.0 432.5h1.0v1.0h-1.0zM277.4 430.7h1.0v1.0h-1.0zM275.7 433.2h1.0v1.0h-1.0zM275.7 433.4h1.0v1.0h-1.0zM277.7 433.4h1.0v1.0h-1.0zM277.6 433.0h1.0v1.0h-1.0zM277.2 433.5h1.0v1.0h-1.0zM277.4 432.0h1.0v1.0h-1.0zM278.0 431.5h1.0v1.0h-1.0zM276.4 417.2h1.0v1.0h-1.0zM277.7 417.7h1.0v1.0h-1.0zM277.5 422.1h1.0v1.0h-1.0zM275.5 432.9h1.0v1.0h-1.0zM277.8 425.9h1.0v1.0h-1.0zM277.3 433.5h1.0v1.0h-1.0zM276.6 433.2h1.0v1.0h-1.0zM276.4 432.7h1.0v1.0h-1.0zM275.3 422.5h1.0v1.0h-1.0z" fill="#d3467d"/><path d="M294.0 430.3h1.0v1.0h-1.0zM296.1 418.6h1.0v1.0h-1.0zM294.6 432.3h1.0v1.0h-1.0zM294.7 418.7h1.0v1.0h-1.0zM295.2 417.0h1.0v1.0h-1.0zM296.2 433.1h1.0v1.0h-1.0zM295.1 426.5h1.0v1.0h-1.0zM294.6 430.8h1.0v1.0h-1.0zM295.6 415.4h1.0v1.0h-1.0zM294.0 429.7h1.0v1.0h-1.0zM295.2 432.8h1.0v1.0h-1.0zM294.4 414.6h1.0v1.0h-1.0zM295.1 424.4h1.0v1.0h-1.0zM293.9 426.0h1.0v1.0h-1.0zM296.7 427.8h1.0v1.0h-1.0zM294.7 433.4h1.0v1.0h-1.0zM295.6 425.9h1.0v1.0h-1.0zM295.4 424.2h1.0v1.0h-1.0zM294.2 433.4h1.0v1.0h-1.0zM295.0 433.2h1.0v1.0h-1.0zM294.2 420.9h1.0v1.0h-1.0zM295.0 433.2h1.0v1.0h-1.0zM294.3 427.7h1.0v1.0h-1.0zM294.2 421.9h1.0v1.0h-1.0zM294.3 429.7h1.0v1.0h-1.0zM295.3 420.3h1.0v1.0h-1.0zM294.8 426.1h1.0v1.0h-1.0zM295.9 433.3h1.0v1.0h-1.0zM294.8 431.3h1.0v1.0h-1.0zM296.7 433.3h1.0v1.0h-1.0zM294.5 433.5h1.0v1.0h-1.0zM296.2 433.1h1.0v1.0h-1.0zM295.0 425.3h1.0v1.0h-1.0zM296.3 418.3h1.0v1.0h-1.0zM295.0 417.2h1.0v1.0h-1.0zM293.8 430.1h1.0v1.0h-1.0zM296.7 433.0h1.0v1.0h-1.0zM296.7 432.8h1.0v1.0h-1.0zM294.7 423.7h1.0v1.0h-1.0zM295.1 418.0h1.0v1.0h-1.0zM295.7 427.1h1.0v1.0h-1.0zM295.1 415.7h1.0v1.0h-1.0zM295.0 429.1h1.0v1.0h-1.0zM296.6 432.5h1.0v1.0h-1.0zM295.9 415.7h1.0v1.0h-1.0zM294.5 418.1h1.0v1.0h-1.0zM294.6 418.6h1.0v1.0h-1.0zM296.0 416.9h1.0v1.0h-1.0zM296.2 419.1h1.0v1.0h-1.0zM294.5 409.6h1.0v1.0h-1.0zM294.0 419.5h1.0v1.0h-1.0zM295.5 416.8h1.0v1.0h-1.0zM294.0 410.7h1.0v1.0h-1.0zM295.5 406.4h1.0v1.0h-1.0zM294.3 410.0h1.0v1.0h-1.0z" fill="#e98c4e"/><path d="M325.7 433.4h1.0v1.0h-1.0zM325.4 433.4h1.0v1.0h-1.0zM325.6 432.0h1.0v1.0h-1.0zM325.2 427.7h1.0v1.0h-1.0zM325.0 433.4h1.0v1.0h-1.0zM326.0 433.5h1.0v1.0h-1.0zM324.6 422.8h1.0v1.0h-1.0zM326.0 420.0h1.0v1.0h-1.0zM325.2 433.4h1.0v1.0h-1.0zM326.0 420.7h1.0v1.0h-1.0zM325.5 432.4h1.0v1.0h-1.0zM325.0 424.4h1.0v1.0h-1.0zM325.9 420.4h1.0v1.0h-1.0zM325.4 433.3h1.0v1.0h-1.0zM324.7 421.9h1.0v1.0h-1.0zM325.7 431.0h1.0v1.0h-1.0zM325.1 428.9h1.0v1.0h-1.0zM324.8 420.4h1.0v1.0h-1.0zM324.7 422.9h1.0v1.0h-1.0zM324.9 426.7h1.0v1.0h-1.0zM325.1 424.3h1.0v1.0h-1.0zM325.2 429.8h1.0v1.0h-1.0zM325.3 428.0h1.0v1.0h-1.0zM326.1 428.5h1.0v1.0h-1.0zM325.4 433.5h1.0v1.0h-1.0z" fill="#eef03a"/><path d="M261.0 429.1h1.0v1.0h-1.0zM262.6 431.1h1.0v1.0h-1.0zM261.7 427.1h1.0v1.0h-1.0zM261.5 420.8h1.0v1.0h-1.0z" fill="#79299d"/><path d="M258.6 429.5h1.0v1.0h-1.0zM258.3 433.3h1.0v1.0h-1.0zM258.0 422.6h1.0v1.0h-1.0zM257.9 431.0h1.0v1.0h-1.0zM258.5 433.1h1.0v1.0h-1.0z" fill="#64289a"/><path d="M263.3 420.1h1.0v1.0h-1.0zM264.2 420.8h1.0v1.0h-1.0zM263.9 432.6h1.0v1.0h-1.0zM263.0 431.1h1.0v1.0h-1.0zM265.8 433.5h1.0v1.0h-1.0zM263.2 431.7h1.0v1.0h-1.0zM265.4 426.5h1.0v1.0h-1.0zM265.3 430.5h1.0v1.0h-1.0z" fill="#8e2aa0"/><path d="M266.1 433.0h1.0v1.0h-1.0zM268.1 420.3h1.0v1.0h-1.0zM267.9 430.7h1.0v1.0h-1.0zM268.8 420.7h1.0v1.0h-1.0zM266.1 426.3h1.0v1.0h-1.0z" fill="#a43099"/><path d="M270.9 425.3h1.0v1.0h-1.0zM270.9 424.1h1.0v1.0h-1.0z" fill="#bb3592"/></g>
<polyline points="248.6,479.0 260.0,476.6 270.0,474.0 280.0,470.6 290.0,466.0 300.0,460.0 310.0,452.3 320.0,443.2 328.4,434.5" fill="none" stroke="#555" stroke-width="0.7"/>
<rect x="244.30" y="397.50" width="87.90" height="86.80" fill="none" stroke="#2a2a2a" stroke-width="1.4"/>
<text x="288.00" y="382.35" font-size="10" text-anchor="middle" fill="#333">Differentiated tissue</text>
<text x="288.00" y="393.65" font-size="10" text-anchor="middle" fill="#333">(Epidermis)</text>
<line x1="241.70" y1="408.90" x2="244.30" y2="408.90" stroke="#333" stroke-width="0.8"/>
<text x="240.70" y="411.74" font-size="8" text-anchor="end" fill="#333">10</text>
<line x1="241.70" y1="441.00" x2="244.30" y2="441.00" stroke="#333" stroke-width="0.8"/>
<text x="240.70" y="443.84" font-size="8" text-anchor="end" fill="#333">5</text>
<line x1="241.70" y1="473.40" x2="244.30" y2="473.40" stroke="#333" stroke-width="0.8"/>
<text x="240.70" y="476.24" font-size="8" text-anchor="end" fill="#333">1</text>
<line x1="249.50" y1="484.30" x2="249.50" y2="486.90" stroke="#333" stroke-width="0.8"/>
<text x="249.50" y="495.84" font-size="8" text-anchor="middle" fill="#333">0</text>
<line x1="264.92" y1="484.30" x2="264.92" y2="486.90" stroke="#333" stroke-width="0.8"/>
<text x="264.92" y="495.84" font-size="8" text-anchor="middle" fill="#333">5</text>
<line x1="280.34" y1="484.30" x2="280.34" y2="486.90" stroke="#333" stroke-width="0.8"/>
<text x="280.34" y="495.84" font-size="8" text-anchor="middle" fill="#333">10</text>
<line x1="295.76" y1="484.30" x2="295.76" y2="486.90" stroke="#333" stroke-width="0.8"/>
<text x="295.76" y="495.84" font-size="8" text-anchor="middle" fill="#333">15</text>
<line x1="311.18" y1="484.30" x2="311.18" y2="486.90" stroke="#333" stroke-width="0.8"/>
<text x="311.18" y="495.84" font-size="8" text-anchor="middle" fill="#333">20</text>
<line x1="326.60" y1="484.30" x2="326.60" y2="486.90" stroke="#333" stroke-width="0.8"/>
<text x="326.60" y="495.84" font-size="8" text-anchor="middle" fill="#333">25</text>
<text x="328.60" y="481.80" font-size="9" text-anchor="end" font-style="italic" fill="#333">PDF1</text>
<line x1="383.8" y1="433.3" x2="459.1" y2="433.3" stroke="url(#g379)" stroke-width="1.35" stroke-dasharray="4.1,0.5,1.1,0.3,2.6,0.4,2.2,0.6,2.2,0.4,4.2,0.5,2.6,0.3,2.3,0.4,3.7,0.2,2.3,0.3,2.2,0.6,2.8,0.2,2.1,0.6,1.5,0.5,1.1,0.2,1.2,0.5,1.5,0.2,1.2,0.2,3.5,0.5,4.1,0.6,2.9,0.6,1.3,0.6,2.5,0.2,3.5,0.6,2.3,0.1,4.0,0.5" opacity="0.9"/>
<line x1="383.8" y1="424.5" x2="459.1" y2="424.5" stroke="url(#g379)" stroke-width="1.35" stroke-dasharray="2.1,1.4,0.9,0.3,1.1,0.2,2.3,1.0,1.0,0.4,1.2,1.0,2.2,1.4,1.6,1.4,1.7,0.7,1.3,0.5,2.9,1.5,2.3,0.4,1.2,0.4,1.5,1.1,0.9,0.9,2.3,0.2,1.7,1.2,2.0,0.8,2.7,1.0,1.5,0.7,2.8,1.3,2.8,0.9,1.1,0.4,1.6,1.1,0.8,1.2,2.5,0.8,0.8,1.2,1.7,1.0,2.0,1.1" opacity="0.9"/>
<line x1="383.8" y1="419.5" x2="462.2" y2="419.5" stroke="url(#g379)" stroke-width="1.35" stroke-dasharray="1.2,1.9,2.0,1.8,1.5,0.8,1.2,0.7,1.9,1.6,1.7,1.7,2.0,1.4,1.1,1.5,1.0,1.3,0.9,1.7,1.3,0.7,1.9,0.4,1.9,1.5,0.9,1.6,1.4,1.8,1.5,1.0,1.9,0.4,1.7,0.4,1.0,0.5,1.9,1.0,1.7,0.7,1.7,1.4,0.8,1.1,1.6,0.6,1.6,0.7,1.2,1.8,2.0,2.0,1.2,1.2,1.8,1.6" opacity="0.9"/>
<line x1="383.8" y1="414.2" x2="462.2" y2="414.2" stroke="url(#g379)" stroke-width="1.35" stroke-dasharray="0.8,2.2,0.8,2.4,0.8,0.6,1.0,0.6,0.9,0.4,1.1,1.5,1.0,0.6,0.9,1.1,0.7,2.1,0.5,1.4,0.6,2.1,1.1,0.4,0.8,1.3,1.0,1.9,0.7,2.3,0.6,0.6,1.0,0.6,0.6,1.4,0.7,0.7,1.1,1.3,1.0,0.9,1.1,0.8,1.1,1.6,1.1,2.0,0.9,1.5,1.0,1.3,0.6,2.3,1.0,1.8,1.0,0.8,0.8,2.1,1.1,2.3,0.6,1.8,0.9,1.2,0.6,0.6,0.8,1.4,0.7,1.1" opacity="0.9"/>
<g opacity="0.9"><path d="M425.7 410.1h1.0v1.0h-1.0zM427.8 418.8h1.0v1.0h-1.0zM425.7 418.5h1.0v1.0h-1.0zM426.6 419.5h1.0v1.0h-1.0zM427.8 408.7h1.0v1.0h-1.0zM427.8 409.2h1.0v1.0h-1.0zM426.9 413.9h1.0v1.0h-1.0z" fill="#e78153"/><path d="M445.5 416.8h1.0v1.0h-1.0z" fill="#ecc040"/><path d="M449.9 405.0h1.0v1.0h-1.0zM450.3 416.5h1.0v1.0h-1.0zM449.2 411.6h1.0v1.0h-1.0zM450.4 417.4h1.0v1.0h-1.0zM450.3 416.3h1.0v1.0h-1.0zM449.5 404.7h1.0v1.0h-1.0z" fill="#ecca3f"/><path d="M401.1 413.5h1.0v1.0h-1.0zM403.4 408.5h1.0v1.0h-1.0zM402.1 418.9h1.0v1.0h-1.0zM402.2 414.8h1.0v1.0h-1.0z" fill="#a43099"/><path d="M425.3 417.4h1.0v1.0h-1.0zM422.9 419.1h1.0v1.0h-1.0zM423.4 417.3h1.0v1.0h-1.0z" fill="#e57658"/><path d="M394.4 418.5h1.0v1.0h-1.0zM396.5 419.5h1.0v1.0h-1.0zM395.6 416.0h1.0v1.0h-1.0z" fill="#79299d"/><path d="M400.1 417.7h1.0v1.0h-1.0zM398.8 406.2h1.0v1.0h-1.0zM399.3 410.4h1.0v1.0h-1.0zM398.2 415.2h1.0v1.0h-1.0z" fill="#8e2aa0"/><path d="M430.2 413.9h1.0v1.0h-1.0zM430.5 414.2h1.0v1.0h-1.0zM431.6 418.8h1.0v1.0h-1.0z" fill="#e98c4e"/><path d="M414.3 405.8h1.0v1.0h-1.0zM414.2 413.1h1.0v1.0h-1.0zM414.4 412.1h1.0v1.0h-1.0zM414.1 407.0h1.0v1.0h-1.0zM415.8 417.2h1.0v1.0h-1.0z" fill="#dc5072"/><path d="M444.1 411.9h1.0v1.0h-1.0zM442.6 411.9h1.0v1.0h-1.0zM442.2 405.0h1.0v1.0h-1.0zM441.8 418.2h1.0v1.0h-1.0z" fill="#ecb642"/><path d="M410.6 405.3h1.0v1.0h-1.0z" fill="#d3467d"/><path d="M407.3 405.2h1.0v1.0h-1.0zM408.6 407.4h1.0v1.0h-1.0zM408.8 418.9h1.0v1.0h-1.0zM407.9 419.0h1.0v1.0h-1.0z" fill="#ca3d88"/><path d="M433.5 406.3h1.0v1.0h-1.0zM434.3 419.3h1.0v1.0h-1.0zM432.6 408.5h1.0v1.0h-1.0z" fill="#eb9749"/><path d="M451.8 411.7h1.0v1.0h-1.0zM451.9 412.8h1.0v1.0h-1.0z" fill="#edd33e"/><path d="M435.2 419.5h1.0v1.0h-1.0zM436.0 414.0h1.0v1.0h-1.0zM437.8 418.2h1.0v1.0h-1.0z" fill="#eba246"/><path d="M417.5 406.9h1.0v1.0h-1.0zM417.3 414.2h1.0v1.0h-1.0zM417.9 418.2h1.0v1.0h-1.0z" fill="#df5d68"/><path d="M393.5 418.5h1.0v1.0h-1.0zM393.6 419.4h1.0v1.0h-1.0z" fill="#64289a"/><path d="M438.3 418.3h1.0v1.0h-1.0z" fill="#ebac44"/><path d="M419.7 414.8h1.0v1.0h-1.0z" fill="#e26a5f"/></g>
<polyline points="383.2,458.2 395.0,458.8 405.0,459.3 415.0,459.8 425.0,460.2 432.0,461.2 440.0,464.2 448.0,468.5 456.0,474.0 463.0,480.0" fill="none" stroke="#555" stroke-width="0.7"/>
<rect x="379.30" y="397.50" width="88.20" height="86.80" fill="none" stroke="#2a2a2a" stroke-width="1.4"/>
<text x="423.10" y="392.05" font-size="10" text-anchor="middle" fill="#333">SCM</text>
<line x1="376.70" y1="414.20" x2="379.30" y2="414.20" stroke="#333" stroke-width="0.8"/>
<text x="375.70" y="417.04" font-size="8" text-anchor="end" fill="#333">10</text>
<line x1="376.70" y1="445.80" x2="379.30" y2="445.80" stroke="#333" stroke-width="0.8"/>
<text x="375.70" y="448.64" font-size="8" text-anchor="end" fill="#333">5</text>
<line x1="376.70" y1="478.50" x2="379.30" y2="478.50" stroke="#333" stroke-width="0.8"/>
<text x="375.70" y="481.34" font-size="8" text-anchor="end" fill="#333">1</text>
<line x1="383.80" y1="484.30" x2="383.80" y2="486.90" stroke="#333" stroke-width="0.8"/>
<text x="383.80" y="495.84" font-size="8" text-anchor="middle" fill="#333">0</text>
<line x1="399.48" y1="484.30" x2="399.48" y2="486.90" stroke="#333" stroke-width="0.8"/>
<text x="399.48" y="495.84" font-size="8" text-anchor="middle" fill="#333">5</text>
<line x1="415.16" y1="484.30" x2="415.16" y2="486.90" stroke="#333" stroke-width="0.8"/>
<text x="415.16" y="495.84" font-size="8" text-anchor="middle" fill="#333">10</text>
<line x1="430.84" y1="484.30" x2="430.84" y2="486.90" stroke="#333" stroke-width="0.8"/>
<text x="430.84" y="495.84" font-size="8" text-anchor="middle" fill="#333">15</text>
<line x1="446.52" y1="484.30" x2="446.52" y2="486.90" stroke="#333" stroke-width="0.8"/>
<text x="446.52" y="495.84" font-size="8" text-anchor="middle" fill="#333">20</text>
<line x1="462.20" y1="484.30" x2="462.20" y2="486.90" stroke="#333" stroke-width="0.8"/>
<text x="462.20" y="495.84" font-size="8" text-anchor="middle" fill="#333">25</text>
<text x="383.80" y="481.09" font-size="9" text-anchor="start" font-style="italic" fill="#333">ERD6</text>
<line x1="488.0" y1="453.0" x2="571.3" y2="453.0" stroke="url(#g485)" stroke-width="1.35" stroke-dasharray="4.1,0.4,1.6,0.1,1.3,0.3,1.3,0.5,2.4,0.3,2.7,0.6,1.8,0.2,2.0,0.3,4.1,0.5,2.5,0.2,1.2,0.2,3.9,0.5,1.5,0.4,1.2,0.4,2.1,0.1,3.5,0.5,2.7,0.2,3.3,0.3,3.2,0.1,4.1,0.1,1.8,0.3,1.7,0.1,3.3,0.7,2.1,0.2,3.3,0.2,2.4,0.5,2.5,0.2,1.2,0.4,4.4,0.6,1.3,0.4" opacity="0.9"/>
<line x1="488.0" y1="441.8" x2="571.3" y2="441.8" stroke="url(#g485)" stroke-width="1.35" stroke-dasharray="2.7,0.2,3.3,0.4,3.7,0.3,4.2,0.6,2.6,0.2,2.6,0.2,3.3,0.5,3.0,0.6,1.2,0.5,3.7,0.2,2.1,0.1,3.0,0.5,2.2,0.5,2.2,0.5,1.9,0.6,2.5,0.1,1.3,0.5,3.9,0.5,1.5,0.6,3.4,0.2,2.3,0.5,1.0,0.1,2.2,0.6,4.4,0.3,4.1,0.5,3.9,0.4,4.3,0.5" opacity="0.9"/>
<line x1="488.0" y1="435.9" x2="571.3" y2="435.9" stroke="url(#g485)" stroke-width="1.35" stroke-dasharray="4.2,0.4,1.7,0.4,2.6,0.3,2.3,0.4,3.0,0.2,1.9,0.4,2.7,0.3,3.3,0.2,2.8,0.2,3.6,0.5,3.7,0.4,1.8,0.6,2.7,0.3,2.0,0.3,3.4,0.6,2.6,0.5,1.7,0.3,2.2,0.3,2.2,0.5,3.5,0.2,1.8,0.5,3.2,0.5,3.2,0.5,1.9,0.1,2.2,0.1,4.3,0.4,3.3,0.6" opacity="0.9"/>
<line x1="488.0" y1="431.3" x2="571.3" y2="431.3" stroke="url(#g485)" stroke-width="1.35" stroke-dasharray="3.4,0.3,2.0,0.2,3.4,0.7,2.5,0.4,1.8,0.5,3.1,0.8,3.6,0.8,2.3,0.4,1.9,0.8,1.5,0.2,1.8,0.8,3.6,0.4,3.6,0.8,2.3,0.3,3.3,0.4,1.3,0.8,2.3,0.4,2.8,0.3,1.0,0.4,2.1,0.1,2.1,0.7,2.0,0.6,2.9,0.3,1.0,0.6,2.8,0.3,1.6,0.8,3.8,0.3,2.8,0.5,1.9,0.1" opacity="0.9"/>
<line x1="488.0" y1="427.5" x2="571.3" y2="427.5" stroke="url(#g485)" stroke-width="1.35" stroke-dasharray="1.7,0.8,2.4,0.7,1.2,0.4,1.7,0.6,1.8,1.1,1.2,1.1,1.5,1.0,1.5,0.7,1.9,0.2,3.0,1.0,1.6,0.9,2.1,1.1,1.0,0.5,1.5,0.8,2.9,1.0,2.3,0.5,3.0,0.3,1.5,0.9,2.0,1.2,1.1,0.6,1.4,0.2,1.1,0.2,1.8,0.6,2.2,0.4,2.7,0.7,3.4,0.3,2.2,0.7,1.8,1.0,1.4,1.0,1.8,0.5,2.5,0.7,1.6,0.2,3.4,0.5" opacity="0.9"/>
<line x1="488.0" y1="424.7" x2="571.3" y2="424.7" stroke="url(#g485)" stroke-width="1.35" stroke-dasharray="1.1,1.0,2.0,0.6,1.6,1.2,1.6,0.7,3.0,0.6,1.7,0.4,2.3,1.0,1.8,0.7,1.3,1.1,1.9,1.2,1.7,1.0,0.9,0.4,3.0,1.0,2.4,0.8,1.9,0.4,1.2,0.9,2.4,0.5,2.3,0.3,2.2,0.4,2.0,0.6,2.1,0.3,1.9,0.9,1.1,0.5,2.4,0.8,2.2,1.1,2.1,0.4,1.8,1.2,2.1,1.1,1.7,0.7,3.1,1.2,2.3,0.3" opacity="0.9"/>
<line x1="488.0" y1="422.6" x2="571.3" y2="422.6" stroke="url(#g485)" stroke-width="1.35" stroke-dasharray="2.0,0.3,2.6,1.5,2.2,0.6,2.5,0.5,2.4,0.9,0.8,1.4,1.6,1.3,2.1,0.9,2.5,0.5,2.6,0.7,0.8,0.7,0.9,0.3,2.0,0.4,1.1,0.6,1.3,1.5,2.6,1.4,2.7,0.8,2.4,0.6,2.6,1.3,2.2,0.5,0.9,1.5,1.9,1.0,2.5,0.4,2.2,0.8,2.3,0.8,1.1,1.5,1.3,1.2,2.4,0.5,2.2,0.7,1.2,0.5" opacity="0.9"/>
<line x1="488.0" y1="420.5" x2="571.3" y2="420.5" stroke="url(#g485)" stroke-width="1.35" stroke-dasharray="2.3,0.8,1.6,1.0,0.7,1.4,2.0,1.6,1.3,0.6,1.3,1.4,1.8,0.9,1.6,0.5,2.3,1.0,1.6,1.4,1.0,1.3,1.3,1.5,0.9,0.7,1.8,1.0,1.3,1.1,1.1,0.9,0.7,1.5,1.1,1.5,1.6,1.2,1.8,0.4,2.0,0.7,2.2,1.4,1.9,1.5,1.4,1.3,2.3,0.5,0.9,0.9,1.6,0.5,1.1,1.6,1.4,0.5,1.0,1.1,1.0,1.0,1.6,0.9,1.6,1.5" opacity="0.9"/>
<g opacity="0.9"><path d="M491.0 403.7h1.0v1.0h-1.0zM491.5 408.7h1.0v1.0h-1.0zM491.1 415.8h1.0v1.0h-1.0zM491.2 409.5h1.0v1.0h-1.0zM491.6 415.6h1.0v1.0h-1.0zM491.1 416.9h1.0v1.0h-1.0zM491.0 419.7h1.0v1.0h-1.0zM491.6 419.4h1.0v1.0h-1.0zM490.9 405.8h1.0v1.0h-1.0zM491.1 409.9h1.0v1.0h-1.0zM491.0 415.0h1.0v1.0h-1.0zM490.9 417.8h1.0v1.0h-1.0zM491.0 418.4h1.0v1.0h-1.0zM490.6 405.6h1.0v1.0h-1.0z" fill="#472992"/><path d="M495.5 420.4h1.0v1.0h-1.0zM496.7 420.2h1.0v1.0h-1.0zM496.8 420.2h1.0v1.0h-1.0zM498.0 415.4h1.0v1.0h-1.0zM496.1 420.5h1.0v1.0h-1.0zM496.6 413.5h1.0v1.0h-1.0zM495.6 411.5h1.0v1.0h-1.0zM497.5 420.1h1.0v1.0h-1.0zM497.4 419.7h1.0v1.0h-1.0zM496.5 413.4h1.0v1.0h-1.0zM498.1 412.8h1.0v1.0h-1.0zM498.0 409.7h1.0v1.0h-1.0zM496.1 420.2h1.0v1.0h-1.0zM496.8 418.8h1.0v1.0h-1.0zM497.4 411.5h1.0v1.0h-1.0zM496.9 407.1h1.0v1.0h-1.0zM495.2 403.1h1.0v1.0h-1.0zM498.3 417.0h1.0v1.0h-1.0zM496.1 406.1h1.0v1.0h-1.0zM498.1 418.5h1.0v1.0h-1.0zM496.8 420.5h1.0v1.0h-1.0zM496.7 418.2h1.0v1.0h-1.0zM497.1 416.5h1.0v1.0h-1.0zM495.3 409.9h1.0v1.0h-1.0zM496.5 418.0h1.0v1.0h-1.0zM497.4 404.0h1.0v1.0h-1.0zM496.7 413.0h1.0v1.0h-1.0zM496.5 416.8h1.0v1.0h-1.0zM496.2 410.0h1.0v1.0h-1.0zM495.9 403.4h1.0v1.0h-1.0zM496.8 413.8h1.0v1.0h-1.0z" fill="#64289a"/><path d="M509.5 413.2h1.0v1.0h-1.0zM509.9 418.0h1.0v1.0h-1.0zM508.5 419.0h1.0v1.0h-1.0zM507.6 419.7h1.0v1.0h-1.0zM508.4 420.0h1.0v1.0h-1.0zM507.8 408.0h1.0v1.0h-1.0zM508.2 409.4h1.0v1.0h-1.0zM510.1 418.0h1.0v1.0h-1.0zM508.1 420.3h1.0v1.0h-1.0zM508.9 420.1h1.0v1.0h-1.0zM507.7 412.8h1.0v1.0h-1.0zM508.4 418.3h1.0v1.0h-1.0zM510.6 413.5h1.0v1.0h-1.0zM507.8 409.1h1.0v1.0h-1.0zM508.9 409.8h1.0v1.0h-1.0zM510.0 415.1h1.0v1.0h-1.0zM510.3 406.3h1.0v1.0h-1.0zM510.6 410.3h1.0v1.0h-1.0zM508.0 403.7h1.0v1.0h-1.0zM509.3 417.8h1.0v1.0h-1.0zM510.5 418.7h1.0v1.0h-1.0zM509.8 412.8h1.0v1.0h-1.0zM507.8 402.6h1.0v1.0h-1.0zM510.3 412.6h1.0v1.0h-1.0zM509.3 420.4h1.0v1.0h-1.0zM509.4 412.2h1.0v1.0h-1.0zM508.5 402.5h1.0v1.0h-1.0zM508.0 403.2h1.0v1.0h-1.0zM510.1 420.4h1.0v1.0h-1.0zM509.7 403.5h1.0v1.0h-1.0zM507.9 413.0h1.0v1.0h-1.0zM510.6 418.9h1.0v1.0h-1.0zM509.5 408.2h1.0v1.0h-1.0zM507.8 410.8h1.0v1.0h-1.0zM509.5 418.0h1.0v1.0h-1.0zM509.6 415.3h1.0v1.0h-1.0z" fill="#bb3592"/><path d="M503.9 419.1h1.0v1.0h-1.0zM504.2 409.3h1.0v1.0h-1.0zM502.7 418.7h1.0v1.0h-1.0zM503.2 415.8h1.0v1.0h-1.0zM502.0 413.1h1.0v1.0h-1.0zM504.1 407.3h1.0v1.0h-1.0zM503.5 418.0h1.0v1.0h-1.0zM501.5 408.5h1.0v1.0h-1.0zM503.4 416.1h1.0v1.0h-1.0zM501.5 404.1h1.0v1.0h-1.0zM503.4 419.9h1.0v1.0h-1.0zM502.8 419.4h1.0v1.0h-1.0zM502.8 419.0h1.0v1.0h-1.0zM503.0 409.6h1.0v1.0h-1.0zM502.0 409.8h1.0v1.0h-1.0zM504.1 407.1h1.0v1.0h-1.0zM501.6 415.4h1.0v1.0h-1.0zM502.7 417.5h1.0v1.0h-1.0zM501.6 407.7h1.0v1.0h-1.0zM502.7 416.6h1.0v1.0h-1.0zM504.0 416.9h1.0v1.0h-1.0zM502.7 416.4h1.0v1.0h-1.0zM501.9 413.6h1.0v1.0h-1.0zM503.6 412.4h1.0v1.0h-1.0zM503.3 416.7h1.0v1.0h-1.0zM502.7 403.5h1.0v1.0h-1.0zM503.1 419.8h1.0v1.0h-1.0z" fill="#8e2aa0"/><path d="M504.7 411.4h1.0v1.0h-1.0zM506.9 413.4h1.0v1.0h-1.0zM506.1 411.8h1.0v1.0h-1.0zM506.8 411.2h1.0v1.0h-1.0zM507.1 418.2h1.0v1.0h-1.0zM506.5 406.6h1.0v1.0h-1.0zM505.3 405.7h1.0v1.0h-1.0zM505.0 418.1h1.0v1.0h-1.0zM505.7 419.2h1.0v1.0h-1.0zM505.8 419.3h1.0v1.0h-1.0zM506.6 410.5h1.0v1.0h-1.0zM506.6 416.5h1.0v1.0h-1.0zM504.6 414.3h1.0v1.0h-1.0zM504.6 419.1h1.0v1.0h-1.0zM504.9 414.6h1.0v1.0h-1.0zM504.7 408.1h1.0v1.0h-1.0zM506.1 412.5h1.0v1.0h-1.0zM504.6 417.7h1.0v1.0h-1.0zM506.5 411.1h1.0v1.0h-1.0zM507.5 404.8h1.0v1.0h-1.0zM506.2 419.5h1.0v1.0h-1.0zM506.5 414.5h1.0v1.0h-1.0zM504.9 420.5h1.0v1.0h-1.0zM505.9 420.3h1.0v1.0h-1.0zM506.0 415.1h1.0v1.0h-1.0zM506.2 414.0h1.0v1.0h-1.0zM506.6 407.5h1.0v1.0h-1.0zM506.2 406.6h1.0v1.0h-1.0zM507.5 406.1h1.0v1.0h-1.0zM504.6 418.4h1.0v1.0h-1.0z" fill="#a43099"/><path d="M499.8 415.0h1.0v1.0h-1.0zM499.8 407.8h1.0v1.0h-1.0zM498.7 420.1h1.0v1.0h-1.0zM500.7 403.7h1.0v1.0h-1.0zM500.3 417.9h1.0v1.0h-1.0zM501.4 408.4h1.0v1.0h-1.0zM499.7 405.2h1.0v1.0h-1.0zM498.6 412.6h1.0v1.0h-1.0zM498.9 419.9h1.0v1.0h-1.0zM499.7 419.5h1.0v1.0h-1.0zM500.3 414.6h1.0v1.0h-1.0zM500.8 420.0h1.0v1.0h-1.0zM501.3 419.0h1.0v1.0h-1.0zM500.3 408.7h1.0v1.0h-1.0zM500.9 420.4h1.0v1.0h-1.0zM501.4 418.3h1.0v1.0h-1.0zM499.8 416.3h1.0v1.0h-1.0zM501.1 416.9h1.0v1.0h-1.0zM498.9 420.1h1.0v1.0h-1.0zM498.7 406.1h1.0v1.0h-1.0zM500.3 420.5h1.0v1.0h-1.0zM501.3 416.8h1.0v1.0h-1.0zM499.8 420.5h1.0v1.0h-1.0zM500.8 403.0h1.0v1.0h-1.0zM500.8 406.1h1.0v1.0h-1.0zM498.6 412.4h1.0v1.0h-1.0zM498.9 420.5h1.0v1.0h-1.0zM501.0 406.5h1.0v1.0h-1.0zM500.0 418.6h1.0v1.0h-1.0zM499.9 418.1h1.0v1.0h-1.0zM498.8 413.8h1.0v1.0h-1.0zM498.6 412.8h1.0v1.0h-1.0zM499.1 407.4h1.0v1.0h-1.0zM500.4 413.7h1.0v1.0h-1.0zM498.7 419.7h1.0v1.0h-1.0zM498.3 410.6h1.0v1.0h-1.0z" fill="#79299d"/><path d="M492.2 411.5h1.0v1.0h-1.0zM493.1 406.4h1.0v1.0h-1.0zM492.4 403.2h1.0v1.0h-1.0zM495.0 416.4h1.0v1.0h-1.0zM493.8 418.0h1.0v1.0h-1.0zM493.4 409.3h1.0v1.0h-1.0zM492.3 403.5h1.0v1.0h-1.0zM493.7 415.2h1.0v1.0h-1.0zM492.8 419.3h1.0v1.0h-1.0zM493.1 420.3h1.0v1.0h-1.0zM492.7 407.5h1.0v1.0h-1.0zM493.4 414.5h1.0v1.0h-1.0zM492.5 405.7h1.0v1.0h-1.0zM494.9 418.6h1.0v1.0h-1.0zM493.0 411.1h1.0v1.0h-1.0zM493.2 415.1h1.0v1.0h-1.0zM494.8 419.7h1.0v1.0h-1.0zM494.4 409.7h1.0v1.0h-1.0zM493.0 409.9h1.0v1.0h-1.0zM493.7 406.1h1.0v1.0h-1.0zM494.4 413.8h1.0v1.0h-1.0zM493.1 417.6h1.0v1.0h-1.0zM493.3 412.1h1.0v1.0h-1.0zM493.7 419.9h1.0v1.0h-1.0zM492.5 415.6h1.0v1.0h-1.0zM492.9 420.4h1.0v1.0h-1.0zM493.1 409.3h1.0v1.0h-1.0zM493.4 412.5h1.0v1.0h-1.0zM494.9 413.4h1.0v1.0h-1.0zM494.6 406.4h1.0v1.0h-1.0zM493.9 418.0h1.0v1.0h-1.0zM493.6 407.5h1.0v1.0h-1.0zM493.9 405.8h1.0v1.0h-1.0zM493.6 408.1h1.0v1.0h-1.0zM493.0 418.3h1.0v1.0h-1.0z" fill="#542896"/><path d="M512.1 420.4h1.0v1.0h-1.0zM511.1 415.1h1.0v1.0h-1.0zM512.6 416.4h1.0v1.0h-1.0zM511.9 420.2h1.0v1.0h-1.0zM511.4 415.2h1.0v1.0h-1.0zM512.1 419.2h1.0v1.0h-1.0zM513.4 420.1h1.0v1.0h-1.0zM510.8 416.2h1.0v1.0h-1.0zM511.3 420.4h1.0v1.0h-1.0zM512.6 418.4h1.0v1.0h-1.0zM511.3 418.8h1.0v1.0h-1.0zM512.3 418.5h1.0v1.0h-1.0zM511.4 410.9h1.0v1.0h-1.0zM513.3 407.2h1.0v1.0h-1.0zM513.5 417.0h1.0v1.0h-1.0zM513.7 408.1h1.0v1.0h-1.0zM511.2 412.8h1.0v1.0h-1.0zM512.1 401.9h1.0v1.0h-1.0zM512.3 411.0h1.0v1.0h-1.0zM511.0 404.8h1.0v1.0h-1.0zM513.5 413.3h1.0v1.0h-1.0zM513.1 413.3h1.0v1.0h-1.0zM512.2 420.3h1.0v1.0h-1.0zM513.5 420.3h1.0v1.0h-1.0zM510.8 406.9h1.0v1.0h-1.0zM511.0 420.1h1.0v1.0h-1.0zM511.2 404.0h1.0v1.0h-1.0zM512.5 418.8h1.0v1.0h-1.0z" fill="#ca3d88"/><path d="M515.2 419.2h1.0v1.0h-1.0zM514.7 420.5h1.0v1.0h-1.0zM514.4 416.8h1.0v1.0h-1.0zM514.5 417.7h1.0v1.0h-1.0zM513.7 404.7h1.0v1.0h-1.0zM513.9 416.4h1.0v1.0h-1.0zM514.8 404.8h1.0v1.0h-1.0zM515.0 403.3h1.0v1.0h-1.0zM515.2 411.4h1.0v1.0h-1.0zM514.3 416.6h1.0v1.0h-1.0zM514.4 408.1h1.0v1.0h-1.0zM515.1 415.3h1.0v1.0h-1.0zM513.7 406.6h1.0v1.0h-1.0zM514.3 419.0h1.0v1.0h-1.0zM514.5 417.0h1.0v1.0h-1.0zM515.0 405.0h1.0v1.0h-1.0zM514.0 401.6h1.0v1.0h-1.0zM514.6 419.5h1.0v1.0h-1.0zM515.2 419.2h1.0v1.0h-1.0zM515.1 420.5h1.0v1.0h-1.0zM514.1 408.1h1.0v1.0h-1.0zM514.1 418.7h1.0v1.0h-1.0zM514.9 417.6h1.0v1.0h-1.0z" fill="#d3467d"/><path d="M543.2 420.0h1.0v1.0h-1.0zM544.2 420.0h1.0v1.0h-1.0zM541.7 413.2h1.0v1.0h-1.0zM542.1 419.7h1.0v1.0h-1.0zM544.0 415.4h1.0v1.0h-1.0zM544.0 419.4h1.0v1.0h-1.0zM544.4 418.4h1.0v1.0h-1.0zM542.1 410.9h1.0v1.0h-1.0zM544.1 418.1h1.0v1.0h-1.0zM543.7 412.7h1.0v1.0h-1.0z" fill="#ebac44"/><path d="M532.3 418.7h1.0v1.0h-1.0zM534.4 413.2h1.0v1.0h-1.0zM532.6 418.3h1.0v1.0h-1.0zM535.2 419.2h1.0v1.0h-1.0zM534.7 420.3h1.0v1.0h-1.0zM533.1 417.9h1.0v1.0h-1.0zM532.6 415.4h1.0v1.0h-1.0z" fill="#e98c4e"/><path d="M531.8 413.7h1.0v1.0h-1.0zM532.1 415.0h1.0v1.0h-1.0zM532.0 419.5h1.0v1.0h-1.0zM531.2 418.7h1.0v1.0h-1.0z" fill="#e78153"/><path d="M540.9 411.8h1.0v1.0h-1.0zM538.9 414.5h1.0v1.0h-1.0zM538.4 413.5h1.0v1.0h-1.0zM540.9 419.0h1.0v1.0h-1.0zM538.6 419.2h1.0v1.0h-1.0z" fill="#eba246"/><path d="M537.0 417.7h1.0v1.0h-1.0zM535.7 419.2h1.0v1.0h-1.0zM538.1 418.4h1.0v1.0h-1.0zM537.6 416.3h1.0v1.0h-1.0zM536.6 412.3h1.0v1.0h-1.0zM537.6 417.5h1.0v1.0h-1.0zM536.4 412.5h1.0v1.0h-1.0z" fill="#eb9749"/><path d="M544.9 410.6h1.0v1.0h-1.0zM546.0 417.3h1.0v1.0h-1.0zM544.7 411.2h1.0v1.0h-1.0zM545.0 417.4h1.0v1.0h-1.0zM545.5 420.1h1.0v1.0h-1.0zM544.9 415.3h1.0v1.0h-1.0zM546.0 420.5h1.0v1.0h-1.0z" fill="#ecb642"/><path d="M556.2 416.8h1.0v1.0h-1.0zM555.9 416.4h1.0v1.0h-1.0zM555.4 415.1h1.0v1.0h-1.0z" fill="#edd33e"/><path d="M560.9 419.2h1.0v1.0h-1.0zM562.9 415.6h1.0v1.0h-1.0zM563.1 419.0h1.0v1.0h-1.0zM560.1 419.9h1.0v1.0h-1.0zM560.5 414.7h1.0v1.0h-1.0zM562.7 420.1h1.0v1.0h-1.0zM562.2 418.4h1.0v1.0h-1.0z" fill="#eee63b"/><path d="M565.8 420.4h1.0v1.0h-1.0zM570.4 420.0h1.0v1.0h-1.0zM569.8 417.7h1.0v1.0h-1.0zM570.4 419.2h1.0v1.0h-1.0zM563.2 418.4h1.0v1.0h-1.0zM568.7 420.0h1.0v1.0h-1.0zM566.7 419.0h1.0v1.0h-1.0z" fill="#eef03a"/><path d="M559.2 419.2h1.0v1.0h-1.0zM559.0 420.4h1.0v1.0h-1.0zM558.8 419.1h1.0v1.0h-1.0zM558.1 418.7h1.0v1.0h-1.0zM558.7 416.5h1.0v1.0h-1.0z" fill="#eddd3c"/><path d="M553.5 418.5h1.0v1.0h-1.0zM553.3 420.2h1.0v1.0h-1.0zM553.1 420.4h1.0v1.0h-1.0z" fill="#ecca3f"/></g>
<polyline points="488.9,426.0 495.0,432.3 500.0,437.5 505.0,441.0 510.0,443.6 516.0,445.3 522.0,446.2 530.0,446.0 539.7,445.6 545.0,447.5 550.0,452.0 556.0,459.5 563.0,469.0 570.4,480.7" fill="none" stroke="#555" stroke-width="0.7"/>
<rect x="485.00" y="397.50" width="88.40" height="86.80" fill="none" stroke="#2a2a2a" stroke-width="1.4"/>
<text x="530.00" y="391.55" font-size="10" text-anchor="middle" fill="#333">HRG</text>
<line x1="482.40" y1="417.00" x2="485.00" y2="417.00" stroke="#333" stroke-width="0.8"/>
<text x="481.40" y="419.84" font-size="8" text-anchor="end" fill="#333">30</text>
<line x1="482.40" y1="437.40" x2="485.00" y2="437.40" stroke="#333" stroke-width="0.8"/>
<text x="481.40" y="440.24" font-size="8" text-anchor="end" fill="#333">10</text>
<line x1="482.40" y1="459.70" x2="485.00" y2="459.70" stroke="#333" stroke-width="0.8"/>
<text x="481.40" y="462.54" font-size="8" text-anchor="end" fill="#333">3</text>
<line x1="482.40" y1="479.50" x2="485.00" y2="479.50" stroke="#333" stroke-width="0.8"/>
<text x="481.40" y="482.34" font-size="8" text-anchor="end" fill="#333">1</text>
<line x1="488.00" y1="484.30" x2="488.00" y2="486.90" stroke="#333" stroke-width="0.8"/>
<text x="488.00" y="495.84" font-size="8" text-anchor="middle" fill="#333">0</text>
<line x1="503.42" y1="484.30" x2="503.42" y2="486.90" stroke="#333" stroke-width="0.8"/>
<text x="503.42" y="495.84" font-size="8" text-anchor="middle" fill="#333">5</text>
<line x1="518.84" y1="484.30" x2="518.84" y2="486.90" stroke="#333" stroke-width="0.8"/>
<text x="518.84" y="495.84" font-size="8" text-anchor="middle" fill="#333">10</text>
<line x1="534.26" y1="484.30" x2="534.26" y2="486.90" stroke="#333" stroke-width="0.8"/>
<text x="534.26" y="495.84" font-size="8" text-anchor="middle" fill="#333">15</text>
<line x1="549.68" y1="484.30" x2="549.68" y2="486.90" stroke="#333" stroke-width="0.8"/>
<text x="549.68" y="495.84" font-size="8" text-anchor="middle" fill="#333">20</text>
<line x1="565.10" y1="484.30" x2="565.10" y2="486.90" stroke="#333" stroke-width="0.8"/>
<text x="565.10" y="495.84" font-size="8" text-anchor="middle" fill="#333">25</text>
<text x="489.40" y="480.89" font-size="9" text-anchor="start" font-style="italic" fill="#333">SRO5</text>
<line x1="594.8" y1="429.0" x2="673.1" y2="429.0" stroke="url(#g591)" stroke-width="1.35" stroke-dasharray="3.3,0.5,2.3,0.6,3.8,0.3,1.2,0.4,3.2,0.2,1.1,0.4,1.1,0.5,3.1,0.2,2.5,0.2,1.6,0.2,3.8,0.3,3.4,0.3,3.7,0.4,3.2,0.3,2.9,0.2,4.3,0.5,2.8,0.5,1.3,0.3,1.8,0.6,1.0,0.3,4.0,0.5,3.4,0.3,1.8,0.5,2.0,0.5,2.2,0.5,2.9,0.6,4.4,0.3" opacity="0.9"/>
<line x1="597.8" y1="420.3" x2="673.1" y2="420.3" stroke="url(#g591)" stroke-width="1.35" stroke-dasharray="3.3,0.2,3.0,0.2,2.2,0.6,2.7,0.5,1.4,1.0,2.2,1.0,2.0,0.2,2.7,0.4,2.0,0.2,1.5,0.9,2.7,0.9,1.9,1.0,2.5,0.4,2.2,0.8,2.6,0.4,1.6,0.5,1.1,0.6,2.6,0.8,1.3,1.0,1.1,1.0,1.2,0.3,1.5,0.7,1.5,1.1,3.2,0.5,2.7,0.9,2.2,0.4,3.2,1.2" opacity="0.9"/>
<line x1="600.8" y1="415.2" x2="673.1" y2="415.2" stroke="url(#g591)" stroke-width="1.35" stroke-dasharray="0.6,0.9,0.9,0.7,1.1,2.0,0.6,1.9,0.9,0.3,1.6,0.8,0.8,0.5,1.0,0.5,0.8,0.8,1.2,1.1,0.9,1.3,1.4,1.6,1.0,2.0,1.4,1.3,1.1,0.9,0.7,1.9,1.2,0.5,1.6,1.9,0.6,1.6,0.8,1.3,1.5,0.9,1.1,1.5,0.8,1.5,1.1,2.1,0.8,1.6,0.6,0.8,0.7,0.6,1.2,0.6,1.5,0.5,1.3,1.9,0.7,0.7,1.4,1.2,1.6,0.9" opacity="0.9"/>
<line x1="594.8" y1="411.5" x2="673.1" y2="411.5" stroke="url(#g591)" stroke-width="1.35" stroke-dasharray="0.8,2.4,0.7,2.4,1.1,0.8,0.8,2.3,0.6,2.1,1.0,1.9,0.9,0.5,1.1,0.6,1.0,1.9,0.7,1.8,0.8,1.9,0.5,2.3,0.7,2.0,0.8,2.1,0.7,1.5,0.5,1.4,0.6,2.2,0.9,1.2,1.1,2.3,1.1,0.5,0.9,1.9,0.9,0.4,1.1,1.3,0.9,2.1,0.7,0.4,1.1,0.9,0.5,0.6,1.1,1.9,0.6,0.6,1.1,1.7,0.9,0.6,0.8,2.3,0.5,1.2,0.5,2.5" opacity="0.9"/>
<g opacity="0.9"><path d="M621.4 401.3h1.0v1.0h-1.0zM621.9 406.4h1.0v1.0h-1.0z" fill="#d3467d"/><path d="M663.5 404.6h1.0v1.0h-1.0zM662.6 403.6h1.0v1.0h-1.0zM664.8 402.8h1.0v1.0h-1.0z" fill="#eddd3c"/><path d="M617.8 405.1h1.0v1.0h-1.0zM618.8 404.6h1.0v1.0h-1.0zM619.3 403.5h1.0v1.0h-1.0z" fill="#ca3d88"/><path d="M643.6 407.5h1.0v1.0h-1.0zM641.7 405.7h1.0v1.0h-1.0zM643.6 404.3h1.0v1.0h-1.0zM642.3 408.5h1.0v1.0h-1.0zM641.7 410.1h1.0v1.0h-1.0z" fill="#eb9749"/><path d="M623.7 407.3h1.0v1.0h-1.0zM625.0 408.9h1.0v1.0h-1.0z" fill="#dc5072"/><path d="M661.3 410.2h1.0v1.0h-1.0z" fill="#edd33e"/><path d="M665.5 408.2h1.0v1.0h-1.0zM668.1 407.6h1.0v1.0h-1.0zM665.7 405.1h1.0v1.0h-1.0zM668.1 405.7h1.0v1.0h-1.0zM665.4 401.5h1.0v1.0h-1.0zM666.5 403.1h1.0v1.0h-1.0zM666.4 401.6h1.0v1.0h-1.0z" fill="#eee63b"/><path d="M630.6 409.6h1.0v1.0h-1.0zM629.1 410.5h1.0v1.0h-1.0zM631.7 407.8h1.0v1.0h-1.0zM629.2 409.5h1.0v1.0h-1.0zM629.7 401.7h1.0v1.0h-1.0z" fill="#e26a5f"/><path d="M648.0 402.3h1.0v1.0h-1.0zM649.5 404.0h1.0v1.0h-1.0zM648.2 410.2h1.0v1.0h-1.0zM649.3 408.7h1.0v1.0h-1.0zM649.1 408.2h1.0v1.0h-1.0z" fill="#ebac44"/><path d="M644.7 407.3h1.0v1.0h-1.0zM644.9 406.7h1.0v1.0h-1.0z" fill="#eba246"/><path d="M672.0 409.8h1.0v1.0h-1.0zM671.3 410.2h1.0v1.0h-1.0zM671.0 410.3h1.0v1.0h-1.0zM671.8 404.8h1.0v1.0h-1.0z" fill="#eef03a"/><path d="M616.3 409.0h1.0v1.0h-1.0zM616.4 404.8h1.0v1.0h-1.0z" fill="#bb3592"/><path d="M633.3 410.2h1.0v1.0h-1.0zM632.6 404.7h1.0v1.0h-1.0zM633.9 410.4h1.0v1.0h-1.0z" fill="#e57658"/><path d="M639.3 410.5h1.0v1.0h-1.0zM639.8 408.2h1.0v1.0h-1.0zM640.1 406.8h1.0v1.0h-1.0zM639.8 408.6h1.0v1.0h-1.0zM638.0 407.9h1.0v1.0h-1.0z" fill="#e98c4e"/><path d="M657.2 404.2h1.0v1.0h-1.0zM656.8 404.4h1.0v1.0h-1.0z" fill="#ecca3f"/><path d="M627.2 406.8h1.0v1.0h-1.0zM627.4 410.3h1.0v1.0h-1.0zM628.7 403.7h1.0v1.0h-1.0z" fill="#df5d68"/><path d="M652.5 404.0h1.0v1.0h-1.0zM652.9 406.4h1.0v1.0h-1.0zM650.7 410.3h1.0v1.0h-1.0z" fill="#ecb642"/><path d="M636.1 408.5h1.0v1.0h-1.0z" fill="#e78153"/><path d="M655.3 403.7h1.0v1.0h-1.0zM653.5 407.7h1.0v1.0h-1.0z" fill="#ecc040"/></g>
<polyline points="595.1,480.4 600.0,473.0 605.0,465.5 610.0,458.0 615.0,451.5 620.0,446.0 626.3,442.4 633.0,442.8 640.0,445.6 646.0,448.6 652.6,450.4 659.0,449.5 666.0,446.8 672.0,443.8 676.8,441.0" fill="none" stroke="#555" stroke-width="0.7"/>
<rect x="591.60" y="397.50" width="88.20" height="86.80" fill="none" stroke="#2a2a2a" stroke-width="1.4"/>
<text x="636.00" y="382.35" font-size="10" text-anchor="middle" fill="#333">Differentiated tissue</text>
<text x="636.00" y="393.65" font-size="10" text-anchor="middle" fill="#333">(Phloem)</text>
<line x1="589.00" y1="404.70" x2="591.60" y2="404.70" stroke="#333" stroke-width="0.8"/>
<text x="588.00" y="407.54" font-size="8" text-anchor="end" fill="#333">100</text>
<line x1="589.00" y1="435.70" x2="591.60" y2="435.70" stroke="#333" stroke-width="0.8"/>
<text x="588.00" y="438.54" font-size="8" text-anchor="end" fill="#333">10</text>
<line x1="589.00" y1="468.60" x2="591.60" y2="468.60" stroke="#333" stroke-width="0.8"/>
<text x="588.00" y="471.44" font-size="8" text-anchor="end" fill="#333">1</text>
<line x1="594.80" y1="484.30" x2="594.80" y2="486.90" stroke="#333" stroke-width="0.8"/>
<text x="594.80" y="495.84" font-size="8" text-anchor="middle" fill="#333">0</text>
<line x1="609.86" y1="484.30" x2="609.86" y2="486.90" stroke="#333" stroke-width="0.8"/>
<text x="609.86" y="495.84" font-size="8" text-anchor="middle" fill="#333">5</text>
<line x1="624.92" y1="484.30" x2="624.92" y2="486.90" stroke="#333" stroke-width="0.8"/>
<text x="624.92" y="495.84" font-size="8" text-anchor="middle" fill="#333">10</text>
<line x1="639.98" y1="484.30" x2="639.98" y2="486.90" stroke="#333" stroke-width="0.8"/>
<text x="639.98" y="495.84" font-size="8" text-anchor="middle" fill="#333">15</text>
<line x1="655.04" y1="484.30" x2="655.04" y2="486.90" stroke="#333" stroke-width="0.8"/>
<text x="655.04" y="495.84" font-size="8" text-anchor="middle" fill="#333">20</text>
<line x1="670.10" y1="484.30" x2="670.10" y2="486.90" stroke="#333" stroke-width="0.8"/>
<text x="670.10" y="495.84" font-size="8" text-anchor="middle" fill="#333">25</text>
<text x="675.60" y="481.80" font-size="9" text-anchor="end" font-style="italic" fill="#333">DAG1</text>
<text x="5.60" y="444.94" font-size="9.7" text-anchor="middle" fill="#333" transform="rotate(-90 5.60 441.50)">Expression level</text>
<text x="351.80" y="444.94" font-size="9.7" text-anchor="middle" fill="#333" transform="rotate(-90 351.80 441.50)">Expression level</text>
<text x="185.60" y="510.05" font-size="10" text-anchor="middle" fill="#333">Pseudotime</text>
<text x="530.50" y="510.05" font-size="10" text-anchor="middle" fill="#333">Pseudotime</text>
<text x="38.20" y="367.70" font-size="15" text-anchor="middle" font-weight="bold" stroke="#222" stroke-width="0.35" fill="#222">c</text>
<text x="382.80" y="368.20" font-size="15" text-anchor="middle" font-weight="bold" stroke="#222" stroke-width="0.35" fill="#222">d</text>
<rect x="35.00" y="539.30" width="17.14" height="5.28" fill="#edf5e0" stroke="none" stroke-width="1"/>
<rect x="52.14" y="539.30" width="17.14" height="5.28" fill="#f2f7cc" stroke="none" stroke-width="1"/>
<rect x="69.28" y="539.30" width="17.14" height="5.28" fill="#f2f7cc" stroke="none" stroke-width="1"/>
<rect x="86.42" y="539.30" width="17.14" height="5.28" fill="#edf5e0" stroke="none" stroke-width="1"/>
<rect x="103.56" y="539.30" width="17.14" height="5.28" fill="#edf5e0" stroke="none" stroke-width="1"/>
<rect x="120.70" y="539.30" width="17.14" height="5.28" fill="#f5f5b8" stroke="none" stroke-width="1"/>
<rect x="137.84" y="539.30" width="17.14" height="5.28" fill="#f5f5b8" stroke="none" stroke-width="1"/>
<rect x="154.98" y="539.30" width="17.14" height="5.28" fill="#edf5e0" stroke="none" stroke-width="1"/>
<rect x="172.12" y="539.30" width="17.14" height="5.28" fill="#f5f5b8" stroke="none" stroke-width="1"/>
<rect x="189.26" y="539.30" width="17.14" height="5.28" fill="#de4a34" stroke="none" stroke-width="1"/>
<rect x="35.00" y="544.58" width="17.14" height="5.28" fill="#f5f5b8" stroke="none" stroke-width="1"/>
<rect x="52.14" y="544.58" width="17.14" height="5.28" fill="#edf5e0" stroke="none" stroke-width="1"/>
<rect x="69.28" y="544.58" width="17.14" height="5.28" fill="#edf5e0" stroke="none" stroke-width="1"/>
<rect x="86.42" y="544.58" width="17.14" height="5.28" fill="#d3ebf2" stroke="none" stroke-width="1"/>
<rect x="103.56" y="544.58" width="17.14" height="5.28" fill="#f5f5b8" stroke="none" stroke-width="1"/>
<rect x="120.70" y="544.58" width="17.14" height="5.28" fill="#d3ebf2" stroke="none" stroke-width="1"/>
<rect x="137.84" y="544.58" width="17.14" height="5.28" fill="#edf5e0" stroke="none" stroke-width="1"/>
<rect x="154.98" y="544.58" width="17.14" height="5.28" fill="#f5f5b8" stroke="none" stroke-width="1"/>
<rect x="172.12" y="544.58" width="17.14" height="5.28" fill="#e8905a" stroke="none" stroke-width="1"/>
<rect x="189.26" y="544.58" width="17.14" height="5.28" fill="#e8905a" stroke="none" stroke-width="1"/>
<rect x="35.00" y="549.86" width="17.14" height="5.28" fill="#efc27a" stroke="none" stroke-width="1"/>
<rect x="52.14" y="549.86" width="17.14" height="5.28" fill="#edf5e0" stroke="none" stroke-width="1"/>
<rect x="69.28" y="549.86" width="17.14" height="5.28" fill="#d3ebf2" stroke="none" stroke-width="1"/>
<rect x="86.42" y="549.86" width="17.14" height="5.28" fill="#edf5e0" stroke="none" stroke-width="1"/>
<rect x="103.56" y="549.86" width="17.14" height="5.28" fill="#edf5e0" stroke="none" stroke-width="1"/>
<rect x="120.70" y="549.86" width="17.14" height="5.28" fill="#edf5e0" stroke="none" stroke-width="1"/>
<rect x="137.84" y="549.86" width="17.14" height="5.28" fill="#e3f2ee" stroke="none" stroke-width="1"/>
<rect x="154.98" y="549.86" width="17.14" height="5.28" fill="#f5f5b8" stroke="none" stroke-width="1"/>
<rect x="172.12" y="549.86" width="17.14" height="5.28" fill="#ecb070" stroke="none" stroke-width="1"/>
<rect x="189.26" y="549.86" width="17.14" height="5.28" fill="#ecb070" stroke="none" stroke-width="1"/>
<rect x="35.00" y="555.14" width="17.14" height="5.28" fill="#f5f5b8" stroke="none" stroke-width="1"/>
<rect x="52.14" y="555.14" width="17.14" height="5.28" fill="#d3ebf2" stroke="none" stroke-width="1"/>
<rect x="69.28" y="555.14" width="17.14" height="5.28" fill="#b3d8e8" stroke="none" stroke-width="1"/>
<rect x="86.42" y="555.14" width="17.14" height="5.28" fill="#edf5e0" stroke="none" stroke-width="1"/>
<rect x="103.56" y="555.14" width="17.14" height="5.28" fill="#f5f5b8" stroke="none" stroke-width="1"/>
<rect x="120.70" y="555.14" width="17.14" height="5.28" fill="#f5f5b8" stroke="none" stroke-width="1"/>
<rect x="137.84" y="555.14" width="17.14" height="5.28" fill="#f5f5b8" stroke="none" stroke-width="1"/>
<rect x="154.98" y="555.14" width="17.14" height="5.28" fill="#f5f5b8" stroke="none" stroke-width="1"/>
<rect x="172.12" y="555.14" width="17.14" height="5.28" fill="#ecb070" stroke="none" stroke-width="1"/>
<rect x="189.26" y="555.14" width="17.14" height="5.28" fill="#e8905a" stroke="none" stroke-width="1"/>
<rect x="35.00" y="560.42" width="17.14" height="5.28" fill="#edf5e0" stroke="none" stroke-width="1"/>
<rect x="52.14" y="560.42" width="17.14" height="5.28" fill="#edf5e0" stroke="none" stroke-width="1"/>
<rect x="69.28" y="560.42" width="17.14" height="5.28" fill="#edf5e0" stroke="none" stroke-width="1"/>
<rect x="86.42" y="560.42" width="17.14" height="5.28" fill="#e3f2ee" stroke="none" stroke-width="1"/>
<rect x="103.56" y="560.42" width="17.14" height="5.28" fill="#edf5e0" stroke="none" stroke-width="1"/>
<rect x="120.70" y="560.42" width="17.14" height="5.28" fill="#f5f5b8" stroke="none" stroke-width="1"/>
<rect x="137.84" y="560.42" width="17.14" height="5.28" fill="#edf5e0" stroke="none" stroke-width="1"/>
<rect x="154.98" y="560.42" width="17.14" height="5.28" fill="#f5f5b8" stroke="none" stroke-width="1"/>
<rect x="172.12" y="560.42" width="17.14" height="5.28" fill="#e46e4c" stroke="none" stroke-width="1"/>
<rect x="189.26" y="560.42" width="17.14" height="5.28" fill="#e8905a" stroke="none" stroke-width="1"/>
<rect x="35.00" y="565.71" width="17.14" height="5.28" fill="#d3ebf2" stroke="none" stroke-width="1"/>
<rect x="52.14" y="565.71" width="17.14" height="5.28" fill="#f5f5b8" stroke="none" stroke-width="1"/>
<rect x="69.28" y="565.71" width="17.14" height="5.28" fill="#f5e8a0" stroke="none" stroke-width="1"/>
<rect x="86.42" y="565.71" width="17.14" height="5.28" fill="#d3ebf2" stroke="none" stroke-width="1"/>
<rect x="103.56" y="565.71" width="17.14" height="5.28" fill="#8fc0dc" stroke="none" stroke-width="1"/>
<rect x="120.70" y="565.71" width="17.14" height="5.28" fill="#f2d68a" stroke="none" stroke-width="1"/>
<rect x="137.84" y="565.71" width="17.14" height="5.28" fill="#de4a34" stroke="none" stroke-width="1"/>
<rect x="154.98" y="565.71" width="17.14" height="5.28" fill="#f5e8a0" stroke="none" stroke-width="1"/>
<rect x="172.12" y="565.71" width="17.14" height="5.28" fill="#edf5e0" stroke="none" stroke-width="1"/>
<rect x="189.26" y="565.71" width="17.14" height="5.28" fill="#f5f5b8" stroke="none" stroke-width="1"/>
<rect x="35.00" y="570.99" width="17.14" height="5.28" fill="#8fc0dc" stroke="none" stroke-width="1"/>
<rect x="52.14" y="570.99" width="17.14" height="5.28" fill="#d3ebf2" stroke="none" stroke-width="1"/>
<rect x="69.28" y="570.99" width="17.14" height="5.28" fill="#f2f7cc" stroke="none" stroke-width="1"/>
<rect x="86.42" y="570.99" width="17.14" height="5.28" fill="#f5e8a0" stroke="none" stroke-width="1"/>
<rect x="103.56" y="570.99" width="17.14" height="5.28" fill="#f5f5b8" stroke="none" stroke-width="1"/>
<rect x="120.70" y="570.99" width="17.14" height="5.28" fill="#f2d68a" stroke="none" stroke-width="1"/>
<rect x="137.84" y="570.99" width="17.14" height="5.28" fill="#e46e4c" stroke="none" stroke-width="1"/>
<rect x="154.98" y="570.99" width="17.14" height="5.28" fill="#f5f5b8" stroke="none" stroke-width="1"/>
<rect x="172.12" y="570.99" width="17.14" height="5.28" fill="#edf5e0" stroke="none" stroke-width="1"/>
<rect x="189.26" y="570.99" width="17.14" height="5.28" fill="#f5f5b8" stroke="none" stroke-width="1"/>
<rect x="35.00" y="576.27" width="17.14" height="5.28" fill="#b3d8e8" stroke="none" stroke-width="1"/>
<rect x="52.14" y="576.27" width="17.14" height="5.28" fill="#b3d8e8" stroke="none" stroke-width="1"/>
<rect x="69.28" y="576.27" width="17.14" height="5.28" fill="#d3ebf2" stroke="none" stroke-width="1"/>
<rect x="86.42" y="576.27" width="17.14" height="5.28" fill="#d3ebf2" stroke="none" stroke-width="1"/>
<rect x="103.56" y="576.27" width="17.14" height="5.28" fill="#f5f5b8" stroke="none" stroke-width="1"/>
<rect x="120.70" y="576.27" width="17.14" height="5.28" fill="#f2d68a" stroke="none" stroke-width="1"/>
<rect x="137.84" y="576.27" width="17.14" height="5.28" fill="#e8905a" stroke="none" stroke-width="1"/>
<rect x="154.98" y="576.27" width="17.14" height="5.28" fill="#f2d68a" stroke="none" stroke-width="1"/>
<rect x="172.12" y="576.27" width="17.14" height="5.28" fill="#f5f5b8" stroke="none" stroke-width="1"/>
<rect x="189.26" y="576.27" width="17.14" height="5.28" fill="#f2d68a" stroke="none" stroke-width="1"/>
<rect x="35.00" y="581.55" width="17.14" height="5.28" fill="#b3d8e8" stroke="none" stroke-width="1"/>
<rect x="52.14" y="581.55" width="17.14" height="5.28" fill="#d3ebf2" stroke="none" stroke-width="1"/>
<rect x="69.28" y="581.55" width="17.14" height="5.28" fill="#e3f2ee" stroke="none" stroke-width="1"/>
<rect x="86.42" y="581.55" width="17.14" height="5.28" fill="#d3ebf2" stroke="none" stroke-width="1"/>
<rect x="103.56" y="581.55" width="17.14" height="5.28" fill="#edf5e0" stroke="none" stroke-width="1"/>
<rect x="120.70" y="581.55" width="17.14" height="5.28" fill="#efc27a" stroke="none" stroke-width="1"/>
<rect x="137.84" y="581.55" width="17.14" height="5.28" fill="#e46e4c" stroke="none" stroke-width="1"/>
<rect x="154.98" y="581.55" width="17.14" height="5.28" fill="#f2d68a" stroke="none" stroke-width="1"/>
<rect x="172.12" y="581.55" width="17.14" height="5.28" fill="#f5f5b8" stroke="none" stroke-width="1"/>
<rect x="189.26" y="581.55" width="17.14" height="5.28" fill="#f5e8a0" stroke="none" stroke-width="1"/>
<rect x="35.00" y="586.83" width="17.14" height="5.28" fill="#f5f5b8" stroke="none" stroke-width="1"/>
<rect x="52.14" y="586.83" width="17.14" height="5.28" fill="#d3ebf2" stroke="none" stroke-width="1"/>
<rect x="69.28" y="586.83" width="17.14" height="5.28" fill="#b3d8e8" stroke="none" stroke-width="1"/>
<rect x="86.42" y="586.83" width="17.14" height="5.28" fill="#b3d8e8" stroke="none" stroke-width="1"/>
<rect x="103.56" y="586.83" width="17.14" height="5.28" fill="#edf5e0" stroke="none" stroke-width="1"/>
<rect x="120.70" y="586.83" width="17.14" height="5.28" fill="#f5e8a0" stroke="none" stroke-width="1"/>
<rect x="137.84" y="586.83" width="17.14" height="5.28" fill="#efc27a" stroke="none" stroke-width="1"/>
<rect x="154.98" y="586.83" width="17.14" height="5.28" fill="#f5e8a0" stroke="none" stroke-width="1"/>
<rect x="172.12" y="586.83" width="17.14" height="5.28" fill="#f5e8a0" stroke="none" stroke-width="1"/>
<rect x="189.26" y="586.83" width="17.14" height="5.28" fill="#efc27a" stroke="none" stroke-width="1"/>
<rect x="35.00" y="592.11" width="17.14" height="5.28" fill="#d3ebf2" stroke="none" stroke-width="1"/>
<rect x="52.14" y="592.11" width="17.14" height="5.28" fill="#b3d8e8" stroke="none" stroke-width="1"/>
<rect x="69.28" y="592.11" width="17.14" height="5.28" fill="#b3d8e8" stroke="none" stroke-width="1"/>
<rect x="86.42" y="592.11" width="17.14" height="5.28" fill="#e3f2ee" stroke="none" stroke-width="1"/>
<rect x="103.56" y="592.11" width="17.14" height="5.28" fill="#f5e8a0" stroke="none" stroke-width="1"/>
<rect x="120.70" y="592.11" width="17.14" height="5.28" fill="#f5e8a0" stroke="none" stroke-width="1"/>
<rect x="137.84" y="592.11" width="17.14" height="5.28" fill="#f5f5b8" stroke="none" stroke-width="1"/>
<rect x="154.98" y="592.11" width="17.14" height="5.28" fill="#f5e8a0" stroke="none" stroke-width="1"/>
<rect x="172.12" y="592.11" width="17.14" height="5.28" fill="#f2d68a" stroke="none" stroke-width="1"/>
<rect x="189.26" y="592.11" width="17.14" height="5.28" fill="#eaa064" stroke="none" stroke-width="1"/>
<rect x="35.00" y="597.39" width="17.14" height="5.28" fill="#d3ebf2" stroke="none" stroke-width="1"/>
<rect x="52.14" y="597.39" width="17.14" height="5.28" fill="#b3d8e8" stroke="none" stroke-width="1"/>
<rect x="69.28" y="597.39" width="17.14" height="5.28" fill="#b3d8e8" stroke="none" stroke-width="1"/>
<rect x="86.42" y="597.39" width="17.14" height="5.28" fill="#d3ebf2" stroke="none" stroke-width="1"/>
<rect x="103.56" y="597.39" width="17.14" height="5.28" fill="#f5e8a0" stroke="none" stroke-width="1"/>
<rect x="120.70" y="597.39" width="17.14" height="5.28" fill="#f5e8a0" stroke="none" stroke-width="1"/>
<rect x="137.84" y="597.39" width="17.14" height="5.28" fill="#f2d68a" stroke="none" stroke-width="1"/>
<rect x="154.98" y="597.39" width="17.14" height="5.28" fill="#f5e8a0" stroke="none" stroke-width="1"/>
<rect x="172.12" y="597.39" width="17.14" height="5.28" fill="#f2d68a" stroke="none" stroke-width="1"/>
<rect x="189.26" y="597.39" width="17.14" height="5.28" fill="#efc27a" stroke="none" stroke-width="1"/>
<rect x="35.00" y="602.67" width="17.14" height="5.28" fill="#d3ebf2" stroke="none" stroke-width="1"/>
<rect x="52.14" y="602.67" width="17.14" height="5.28" fill="#edf5e0" stroke="none" stroke-width="1"/>
<rect x="69.28" y="602.67" width="17.14" height="5.28" fill="#edf5e0" stroke="none" stroke-width="1"/>
<rect x="86.42" y="602.67" width="17.14" height="5.28" fill="#d3ebf2" stroke="none" stroke-width="1"/>
<rect x="103.56" y="602.67" width="17.14" height="5.28" fill="#f5e8a0" stroke="none" stroke-width="1"/>
<rect x="120.70" y="602.67" width="17.14" height="5.28" fill="#b3d8e8" stroke="none" stroke-width="1"/>
<rect x="137.84" y="602.67" width="17.14" height="5.28" fill="#f5f5b8" stroke="none" stroke-width="1"/>
<rect x="154.98" y="602.67" width="17.14" height="5.28" fill="#ecb070" stroke="none" stroke-width="1"/>
<rect x="172.12" y="602.67" width="17.14" height="5.28" fill="#e46e4c" stroke="none" stroke-width="1"/>
<rect x="189.26" y="602.67" width="17.14" height="5.28" fill="#f5f5b8" stroke="none" stroke-width="1"/>
<rect x="35.00" y="607.95" width="17.14" height="5.28" fill="#edf5e0" stroke="none" stroke-width="1"/>
<rect x="52.14" y="607.95" width="17.14" height="5.28" fill="#d3ebf2" stroke="none" stroke-width="1"/>
<rect x="69.28" y="607.95" width="17.14" height="5.28" fill="#d3ebf2" stroke="none" stroke-width="1"/>
<rect x="86.42" y="607.95" width="17.14" height="5.28" fill="#edf5e0" stroke="none" stroke-width="1"/>
<rect x="103.56" y="607.95" width="17.14" height="5.28" fill="#f5e8a0" stroke="none" stroke-width="1"/>
<rect x="120.70" y="607.95" width="17.14" height="5.28" fill="#f5e8a0" stroke="none" stroke-width="1"/>
<rect x="137.84" y="607.95" width="17.14" height="5.28" fill="#e8905a" stroke="none" stroke-width="1"/>
<rect x="154.98" y="607.95" width="17.14" height="5.28" fill="#e46e4c" stroke="none" stroke-width="1"/>
<rect x="172.12" y="607.95" width="17.14" height="5.28" fill="#f5f5b8" stroke="none" stroke-width="1"/>
<rect x="189.26" y="607.95" width="17.14" height="5.28" fill="#edf5e0" stroke="none" stroke-width="1"/>
<rect x="35.00" y="613.24" width="17.14" height="5.28" fill="#edf5e0" stroke="none" stroke-width="1"/>
<rect x="52.14" y="613.24" width="17.14" height="5.28" fill="#e3f2ee" stroke="none" stroke-width="1"/>
<rect x="69.28" y="613.24" width="17.14" height="5.28" fill="#e3f2ee" stroke="none" stroke-width="1"/>
<rect x="86.42" y="613.24" width="17.14" height="5.28" fill="#e3f2ee" stroke="none" stroke-width="1"/>
<rect x="103.56" y="613.24" width="17.14" height="5.28" fill="#f5f5b8" stroke="none" stroke-width="1"/>
<rect x="120.70" y="613.24" width="17.14" height="5.28" fill="#f2f7cc" stroke="none" stroke-width="1"/>
<rect x="137.84" y="613.24" width="17.14" height="5.28" fill="#e8905a" stroke="none" stroke-width="1"/>
<rect x="154.98" y="613.24" width="17.14" height="5.28" fill="#de4a34" stroke="none" stroke-width="1"/>
<rect x="172.12" y="613.24" width="17.14" height="5.28" fill="#f2d68a" stroke="none" stroke-width="1"/>
<rect x="189.26" y="613.24" width="17.14" height="5.28" fill="#edf5e0" stroke="none" stroke-width="1"/>
<rect x="35.00" y="618.52" width="17.14" height="5.28" fill="#e46e4c" stroke="none" stroke-width="1"/>
<rect x="52.14" y="618.52" width="17.14" height="5.28" fill="#f5e8a0" stroke="none" stroke-width="1"/>
<rect x="69.28" y="618.52" width="17.14" height="5.28" fill="#f5f5b8" stroke="none" stroke-width="1"/>
<rect x="86.42" y="618.52" width="17.14" height="5.28" fill="#edf5e0" stroke="none" stroke-width="1"/>
<rect x="103.56" y="618.52" width="17.14" height="5.28" fill="#d3ebf2" stroke="none" stroke-width="1"/>
<rect x="120.70" y="618.52" width="17.14" height="5.28" fill="#edf5e0" stroke="none" stroke-width="1"/>
<rect x="137.84" y="618.52" width="17.14" height="5.28" fill="#f5f5b8" stroke="none" stroke-width="1"/>
<rect x="154.98" y="618.52" width="17.14" height="5.28" fill="#edf5e0" stroke="none" stroke-width="1"/>
<rect x="172.12" y="618.52" width="17.14" height="5.28" fill="#edf5e0" stroke="none" stroke-width="1"/>
<rect x="189.26" y="618.52" width="17.14" height="5.28" fill="#f5f5b8" stroke="none" stroke-width="1"/>
<rect x="35.00" y="623.80" width="17.14" height="5.28" fill="#e46e4c" stroke="none" stroke-width="1"/>
<rect x="52.14" y="623.80" width="17.14" height="5.28" fill="#f2d68a" stroke="none" stroke-width="1"/>
<rect x="69.28" y="623.80" width="17.14" height="5.28" fill="#f5f5b8" stroke="none" stroke-width="1"/>
<rect x="86.42" y="623.80" width="17.14" height="5.28" fill="#edf5e0" stroke="none" stroke-width="1"/>
<rect x="103.56" y="623.80" width="17.14" height="5.28" fill="#e3f2ee" stroke="none" stroke-width="1"/>
<rect x="120.70" y="623.80" width="17.14" height="5.28" fill="#edf5e0" stroke="none" stroke-width="1"/>
<rect x="137.84" y="623.80" width="17.14" height="5.28" fill="#edf5e0" stroke="none" stroke-width="1"/>
<rect x="154.98" y="623.80" width="17.14" height="5.28" fill="#edf5e0" stroke="none" stroke-width="1"/>
<rect x="172.12" y="623.80" width="17.14" height="5.28" fill="#edf5e0" stroke="none" stroke-width="1"/>
<rect x="189.26" y="623.80" width="17.14" height="5.28" fill="#edf5e0" stroke="none" stroke-width="1"/>
<rect x="35.00" y="629.08" width="17.14" height="5.28" fill="#edf5e0" stroke="none" stroke-width="1"/>
<rect x="52.14" y="629.08" width="17.14" height="5.28" fill="#f5f5b8" stroke="none" stroke-width="1"/>
<rect x="69.28" y="629.08" width="17.14" height="5.28" fill="#f2d68a" stroke="none" stroke-width="1"/>
<rect x="86.42" y="629.08" width="17.14" height="5.28" fill="#f5e8a0" stroke="none" stroke-width="1"/>
<rect x="103.56" y="629.08" width="17.14" height="5.28" fill="#edf5e0" stroke="none" stroke-width="1"/>
<rect x="120.70" y="629.08" width="17.14" height="5.28" fill="#edf5e0" stroke="none" stroke-width="1"/>
<rect x="137.84" y="629.08" width="17.14" height="5.28" fill="#edf5e0" stroke="none" stroke-width="1"/>
<rect x="154.98" y="629.08" width="17.14" height="5.28" fill="#e46e4c" stroke="none" stroke-width="1"/>
<rect x="172.12" y="629.08" width="17.14" height="5.28" fill="#d3ebf2" stroke="none" stroke-width="1"/>
<rect x="189.26" y="629.08" width="17.14" height="5.28" fill="#d3ebf2" stroke="none" stroke-width="1"/>
<rect x="35.00" y="634.36" width="17.14" height="5.28" fill="#eaa064" stroke="none" stroke-width="1"/>
<rect x="52.14" y="634.36" width="17.14" height="5.28" fill="#eaa064" stroke="none" stroke-width="1"/>
<rect x="69.28" y="634.36" width="17.14" height="5.28" fill="#f5e8a0" stroke="none" stroke-width="1"/>
<rect x="86.42" y="634.36" width="17.14" height="5.28" fill="#edf5e0" stroke="none" stroke-width="1"/>
<rect x="103.56" y="634.36" width="17.14" height="5.28" fill="#d3ebf2" stroke="none" stroke-width="1"/>
<rect x="120.70" y="634.36" width="17.14" height="5.28" fill="#edf5e0" stroke="none" stroke-width="1"/>
<rect x="137.84" y="634.36" width="17.14" height="5.28" fill="#f2f7cc" stroke="none" stroke-width="1"/>
<rect x="154.98" y="634.36" width="17.14" height="5.28" fill="#edf5e0" stroke="none" stroke-width="1"/>
<rect x="172.12" y="634.36" width="17.14" height="5.28" fill="#e3f2ee" stroke="none" stroke-width="1"/>
<rect x="189.26" y="634.36" width="17.14" height="5.28" fill="#edf5e0" stroke="none" stroke-width="1"/>
<rect x="35.00" y="639.64" width="17.14" height="5.28" fill="#f5f5b8" stroke="none" stroke-width="1"/>
<rect x="52.14" y="639.64" width="17.14" height="5.28" fill="#de4a34" stroke="none" stroke-width="1"/>
<rect x="69.28" y="639.64" width="17.14" height="5.28" fill="#f2d68a" stroke="none" stroke-width="1"/>
<rect x="86.42" y="639.64" width="17.14" height="5.28" fill="#f5f5b8" stroke="none" stroke-width="1"/>
<rect x="103.56" y="639.64" width="17.14" height="5.28" fill="#d3ebf2" stroke="none" stroke-width="1"/>
<rect x="120.70" y="639.64" width="17.14" height="5.28" fill="#f5f5b8" stroke="none" stroke-width="1"/>
<rect x="137.84" y="639.64" width="17.14" height="5.28" fill="#edf5e0" stroke="none" stroke-width="1"/>
<rect x="154.98" y="639.64" width="17.14" height="5.28" fill="#d3ebf2" stroke="none" stroke-width="1"/>
<rect x="172.12" y="639.64" width="17.14" height="5.28" fill="#e3f2ee" stroke="none" stroke-width="1"/>
<rect x="189.26" y="639.64" width="17.14" height="5.28" fill="#edf5e0" stroke="none" stroke-width="1"/>
<rect x="35.00" y="644.92" width="17.14" height="5.28" fill="#f5f5b8" stroke="none" stroke-width="1"/>
<rect x="52.14" y="644.92" width="17.14" height="5.28" fill="#e8905a" stroke="none" stroke-width="1"/>
<rect x="69.28" y="644.92" width="17.14" height="5.28" fill="#e46e4c" stroke="none" stroke-width="1"/>
<rect x="86.42" y="644.92" width="17.14" height="5.28" fill="#d3ebf2" stroke="none" stroke-width="1"/>
<rect x="103.56" y="644.92" width="17.14" height="5.28" fill="#e3f2ee" stroke="none" stroke-width="1"/>
<rect x="120.70" y="644.92" width="17.14" height="5.28" fill="#b3d8e8" stroke="none" stroke-width="1"/>
<rect x="137.84" y="644.92" width="17.14" height="5.28" fill="#f5f5b8" stroke="none" stroke-width="1"/>
<rect x="154.98" y="644.92" width="17.14" height="5.28" fill="#f5f5b8" stroke="none" stroke-width="1"/>
<rect x="172.12" y="644.92" width="17.14" height="5.28" fill="#edf5e0" stroke="none" stroke-width="1"/>
<rect x="189.26" y="644.92" width="17.14" height="5.28" fill="#edf5e0" stroke="none" stroke-width="1"/>
<rect x="35.00" y="650.20" width="17.14" height="5.28" fill="#f5f5b8" stroke="none" stroke-width="1"/>
<rect x="52.14" y="650.20" width="17.14" height="5.28" fill="#efc27a" stroke="none" stroke-width="1"/>
<rect x="69.28" y="650.20" width="17.14" height="5.28" fill="#e8905a" stroke="none" stroke-width="1"/>
<rect x="86.42" y="650.20" width="17.14" height="5.28" fill="#efc27a" stroke="none" stroke-width="1"/>
<rect x="103.56" y="650.20" width="17.14" height="5.28" fill="#e3f2ee" stroke="none" stroke-width="1"/>
<rect x="120.70" y="650.20" width="17.14" height="5.28" fill="#edf5e0" stroke="none" stroke-width="1"/>
<rect x="137.84" y="650.20" width="17.14" height="5.28" fill="#edf5e0" stroke="none" stroke-width="1"/>
<rect x="154.98" y="650.20" width="17.14" height="5.28" fill="#e3f2ee" stroke="none" stroke-width="1"/>
<rect x="172.12" y="650.20" width="17.14" height="5.28" fill="#edf5e0" stroke="none" stroke-width="1"/>
<rect x="189.26" y="650.20" width="17.14" height="5.28" fill="#edf5e0" stroke="none" stroke-width="1"/>
<rect x="35.00" y="655.48" width="17.14" height="5.28" fill="#f5e8a0" stroke="none" stroke-width="1"/>
<rect x="52.14" y="655.48" width="17.14" height="5.28" fill="#ecb070" stroke="none" stroke-width="1"/>
<rect x="69.28" y="655.48" width="17.14" height="5.28" fill="#ecb070" stroke="none" stroke-width="1"/>
<rect x="86.42" y="655.48" width="17.14" height="5.28" fill="#f5e8a0" stroke="none" stroke-width="1"/>
<rect x="103.56" y="655.48" width="17.14" height="5.28" fill="#d3ebf2" stroke="none" stroke-width="1"/>
<rect x="120.70" y="655.48" width="17.14" height="5.28" fill="#b3d8e8" stroke="none" stroke-width="1"/>
<rect x="137.84" y="655.48" width="17.14" height="5.28" fill="#edf5e0" stroke="none" stroke-width="1"/>
<rect x="154.98" y="655.48" width="17.14" height="5.28" fill="#f5e8a0" stroke="none" stroke-width="1"/>
<rect x="172.12" y="655.48" width="17.14" height="5.28" fill="#edf5e0" stroke="none" stroke-width="1"/>
<rect x="189.26" y="655.48" width="17.14" height="5.28" fill="#e3f2ee" stroke="none" stroke-width="1"/>
<rect x="35.00" y="660.76" width="17.14" height="5.28" fill="#f5e8a0" stroke="none" stroke-width="1"/>
<rect x="52.14" y="660.76" width="17.14" height="5.28" fill="#f5f5b8" stroke="none" stroke-width="1"/>
<rect x="69.28" y="660.76" width="17.14" height="5.28" fill="#f5f5b8" stroke="none" stroke-width="1"/>
<rect x="86.42" y="660.76" width="17.14" height="5.28" fill="#f5f5b8" stroke="none" stroke-width="1"/>
<rect x="103.56" y="660.76" width="17.14" height="5.28" fill="#edf5e0" stroke="none" stroke-width="1"/>
<rect x="120.70" y="660.76" width="17.14" height="5.28" fill="#de4a34" stroke="none" stroke-width="1"/>
<rect x="137.84" y="660.76" width="17.14" height="5.28" fill="#edf5e0" stroke="none" stroke-width="1"/>
<rect x="154.98" y="660.76" width="17.14" height="5.28" fill="#d3ebf2" stroke="none" stroke-width="1"/>
<rect x="172.12" y="660.76" width="17.14" height="5.28" fill="#e3f2ee" stroke="none" stroke-width="1"/>
<rect x="189.26" y="660.76" width="17.14" height="5.28" fill="#edf5e0" stroke="none" stroke-width="1"/>
<rect x="35.00" y="666.05" width="17.14" height="5.28" fill="#f2d68a" stroke="none" stroke-width="1"/>
<rect x="52.14" y="666.05" width="17.14" height="5.28" fill="#f5f5b8" stroke="none" stroke-width="1"/>
<rect x="69.28" y="666.05" width="17.14" height="5.28" fill="#f5f5b8" stroke="none" stroke-width="1"/>
<rect x="86.42" y="666.05" width="17.14" height="5.28" fill="#f5f5b8" stroke="none" stroke-width="1"/>
<rect x="103.56" y="666.05" width="17.14" height="5.28" fill="#e3f2ee" stroke="none" stroke-width="1"/>
<rect x="120.70" y="666.05" width="17.14" height="5.28" fill="#de4a34" stroke="none" stroke-width="1"/>
<rect x="137.84" y="666.05" width="17.14" height="5.28" fill="#edf5e0" stroke="none" stroke-width="1"/>
<rect x="154.98" y="666.05" width="17.14" height="5.28" fill="#d3ebf2" stroke="none" stroke-width="1"/>
<rect x="172.12" y="666.05" width="17.14" height="5.28" fill="#edf5e0" stroke="none" stroke-width="1"/>
<rect x="189.26" y="666.05" width="17.14" height="5.28" fill="#edf5e0" stroke="none" stroke-width="1"/>
<rect x="35.00" y="671.33" width="17.14" height="5.28" fill="#f5f5b8" stroke="none" stroke-width="1"/>
<rect x="52.14" y="671.33" width="17.14" height="5.28" fill="#f5e8a0" stroke="none" stroke-width="1"/>
<rect x="69.28" y="671.33" width="17.14" height="5.28" fill="#eaa064" stroke="none" stroke-width="1"/>
<rect x="86.42" y="671.33" width="17.14" height="5.28" fill="#efc27a" stroke="none" stroke-width="1"/>
<rect x="103.56" y="671.33" width="17.14" height="5.28" fill="#f5f5b8" stroke="none" stroke-width="1"/>
<rect x="120.70" y="671.33" width="17.14" height="5.28" fill="#f5e8a0" stroke="none" stroke-width="1"/>
<rect x="137.84" y="671.33" width="17.14" height="5.28" fill="#edf5e0" stroke="none" stroke-width="1"/>
<rect x="154.98" y="671.33" width="17.14" height="5.28" fill="#b3d8e8" stroke="none" stroke-width="1"/>
<rect x="172.12" y="671.33" width="17.14" height="5.28" fill="#d3ebf2" stroke="none" stroke-width="1"/>
<rect x="189.26" y="671.33" width="17.14" height="5.28" fill="#edf5e0" stroke="none" stroke-width="1"/>
<rect x="35.00" y="676.61" width="17.14" height="5.28" fill="#f5f5b8" stroke="none" stroke-width="1"/>
<rect x="52.14" y="676.61" width="17.14" height="5.28" fill="#efc27a" stroke="none" stroke-width="1"/>
<rect x="69.28" y="676.61" width="17.14" height="5.28" fill="#f5e8a0" stroke="none" stroke-width="1"/>
<rect x="86.42" y="676.61" width="17.14" height="5.28" fill="#f5e8a0" stroke="none" stroke-width="1"/>
<rect x="103.56" y="676.61" width="17.14" height="5.28" fill="#eaa064" stroke="none" stroke-width="1"/>
<rect x="120.70" y="676.61" width="17.14" height="5.28" fill="#f5f5b8" stroke="none" stroke-width="1"/>
<rect x="137.84" y="676.61" width="17.14" height="5.28" fill="#edf5e0" stroke="none" stroke-width="1"/>
<rect x="154.98" y="676.61" width="17.14" height="5.28" fill="#b3d8e8" stroke="none" stroke-width="1"/>
<rect x="172.12" y="676.61" width="17.14" height="5.28" fill="#d3ebf2" stroke="none" stroke-width="1"/>
<rect x="189.26" y="676.61" width="17.14" height="5.28" fill="#edf5e0" stroke="none" stroke-width="1"/>
<rect x="35.00" y="681.89" width="17.14" height="5.28" fill="#f5f5b8" stroke="none" stroke-width="1"/>
<rect x="52.14" y="681.89" width="17.14" height="5.28" fill="#f5e8a0" stroke="none" stroke-width="1"/>
<rect x="69.28" y="681.89" width="17.14" height="5.28" fill="#efc27a" stroke="none" stroke-width="1"/>
<rect x="86.42" y="681.89" width="17.14" height="5.28" fill="#f5e8a0" stroke="none" stroke-width="1"/>
<rect x="103.56" y="681.89" width="17.14" height="5.28" fill="#efc27a" stroke="none" stroke-width="1"/>
<rect x="120.70" y="681.89" width="17.14" height="5.28" fill="#f5f5b8" stroke="none" stroke-width="1"/>
<rect x="137.84" y="681.89" width="17.14" height="5.28" fill="#d3ebf2" stroke="none" stroke-width="1"/>
<rect x="154.98" y="681.89" width="17.14" height="5.28" fill="#b3d8e8" stroke="none" stroke-width="1"/>
<rect x="172.12" y="681.89" width="17.14" height="5.28" fill="#d3ebf2" stroke="none" stroke-width="1"/>
<rect x="189.26" y="681.89" width="17.14" height="5.28" fill="#edf5e0" stroke="none" stroke-width="1"/>
<rect x="35.00" y="687.17" width="17.14" height="5.28" fill="#f2d68a" stroke="none" stroke-width="1"/>
<rect x="52.14" y="687.17" width="17.14" height="5.28" fill="#f5e8a0" stroke="none" stroke-width="1"/>
<rect x="69.28" y="687.17" width="17.14" height="5.28" fill="#f5e8a0" stroke="none" stroke-width="1"/>
<rect x="86.42" y="687.17" width="17.14" height="5.28" fill="#efc27a" stroke="none" stroke-width="1"/>
<rect x="103.56" y="687.17" width="17.14" height="5.28" fill="#f5f5b8" stroke="none" stroke-width="1"/>
<rect x="120.70" y="687.17" width="17.14" height="5.28" fill="#d3ebf2" stroke="none" stroke-width="1"/>
<rect x="137.84" y="687.17" width="17.14" height="5.28" fill="#edf5e0" stroke="none" stroke-width="1"/>
<rect x="154.98" y="687.17" width="17.14" height="5.28" fill="#edf5e0" stroke="none" stroke-width="1"/>
<rect x="172.12" y="687.17" width="17.14" height="5.28" fill="#d3ebf2" stroke="none" stroke-width="1"/>
<rect x="189.26" y="687.17" width="17.14" height="5.28" fill="#edf5e0" stroke="none" stroke-width="1"/>
<rect x="35.00" y="692.45" width="17.14" height="5.28" fill="#f5f5b8" stroke="none" stroke-width="1"/>
<rect x="52.14" y="692.45" width="17.14" height="5.28" fill="#f5e8a0" stroke="none" stroke-width="1"/>
<rect x="69.28" y="692.45" width="17.14" height="5.28" fill="#f5f5b8" stroke="none" stroke-width="1"/>
<rect x="86.42" y="692.45" width="17.14" height="5.28" fill="#e8905a" stroke="none" stroke-width="1"/>
<rect x="103.56" y="692.45" width="17.14" height="5.28" fill="#f5f5b8" stroke="none" stroke-width="1"/>
<rect x="120.70" y="692.45" width="17.14" height="5.28" fill="#edf5e0" stroke="none" stroke-width="1"/>
<rect x="137.84" y="692.45" width="17.14" height="5.28" fill="#edf5e0" stroke="none" stroke-width="1"/>
<rect x="154.98" y="692.45" width="17.14" height="5.28" fill="#d3ebf2" stroke="none" stroke-width="1"/>
<rect x="172.12" y="692.45" width="17.14" height="5.28" fill="#e3f2ee" stroke="none" stroke-width="1"/>
<rect x="189.26" y="692.45" width="17.14" height="5.28" fill="#edf5e0" stroke="none" stroke-width="1"/>
<rect x="35.00" y="697.73" width="17.14" height="5.28" fill="#f5e8a0" stroke="none" stroke-width="1"/>
<rect x="52.14" y="697.73" width="17.14" height="5.28" fill="#f5f5b8" stroke="none" stroke-width="1"/>
<rect x="69.28" y="697.73" width="17.14" height="5.28" fill="#f5e8a0" stroke="none" stroke-width="1"/>
<rect x="86.42" y="697.73" width="17.14" height="5.28" fill="#eaa064" stroke="none" stroke-width="1"/>
<rect x="103.56" y="697.73" width="17.14" height="5.28" fill="#f5f5b8" stroke="none" stroke-width="1"/>
<rect x="120.70" y="697.73" width="17.14" height="5.28" fill="#edf5e0" stroke="none" stroke-width="1"/>
<rect x="137.84" y="697.73" width="17.14" height="5.28" fill="#edf5e0" stroke="none" stroke-width="1"/>
<rect x="154.98" y="697.73" width="17.14" height="5.28" fill="#d3ebf2" stroke="none" stroke-width="1"/>
<rect x="172.12" y="697.73" width="17.14" height="5.28" fill="#edf5e0" stroke="none" stroke-width="1"/>
<rect x="189.26" y="697.73" width="17.14" height="5.28" fill="#edf5e0" stroke="none" stroke-width="1"/>
<rect x="35.00" y="703.01" width="17.14" height="5.28" fill="#f2d68a" stroke="none" stroke-width="1"/>
<rect x="52.14" y="703.01" width="17.14" height="5.28" fill="#f5f5b8" stroke="none" stroke-width="1"/>
<rect x="69.28" y="703.01" width="17.14" height="5.28" fill="#f5f5b8" stroke="none" stroke-width="1"/>
<rect x="86.42" y="703.01" width="17.14" height="5.28" fill="#f5f5b8" stroke="none" stroke-width="1"/>
<rect x="103.56" y="703.01" width="17.14" height="5.28" fill="#efc27a" stroke="none" stroke-width="1"/>
<rect x="120.70" y="703.01" width="17.14" height="5.28" fill="#d3ebf2" stroke="none" stroke-width="1"/>
<rect x="137.84" y="703.01" width="17.14" height="5.28" fill="#b3d8e8" stroke="none" stroke-width="1"/>
<rect x="154.98" y="703.01" width="17.14" height="5.28" fill="#edf5e0" stroke="none" stroke-width="1"/>
<rect x="172.12" y="703.01" width="17.14" height="5.28" fill="#f5f5b8" stroke="none" stroke-width="1"/>
<rect x="189.26" y="703.01" width="17.14" height="5.28" fill="#edf5e0" stroke="none" stroke-width="1"/>
<rect x="35.00" y="708.29" width="17.14" height="5.28" fill="#f5e8a0" stroke="none" stroke-width="1"/>
<rect x="52.14" y="708.29" width="17.14" height="5.28" fill="#f5f5b8" stroke="none" stroke-width="1"/>
<rect x="69.28" y="708.29" width="17.14" height="5.28" fill="#f5e8a0" stroke="none" stroke-width="1"/>
<rect x="86.42" y="708.29" width="17.14" height="5.28" fill="#f5e8a0" stroke="none" stroke-width="1"/>
<rect x="103.56" y="708.29" width="17.14" height="5.28" fill="#ecb070" stroke="none" stroke-width="1"/>
<rect x="120.70" y="708.29" width="17.14" height="5.28" fill="#edf5e0" stroke="none" stroke-width="1"/>
<rect x="137.84" y="708.29" width="17.14" height="5.28" fill="#d3ebf2" stroke="none" stroke-width="1"/>
<rect x="154.98" y="708.29" width="17.14" height="5.28" fill="#edf5e0" stroke="none" stroke-width="1"/>
<rect x="172.12" y="708.29" width="17.14" height="5.28" fill="#edf5e0" stroke="none" stroke-width="1"/>
<rect x="189.26" y="708.29" width="17.14" height="5.28" fill="#d3ebf2" stroke="none" stroke-width="1"/>
<rect x="35.00" y="713.58" width="17.14" height="5.28" fill="#edf5e0" stroke="none" stroke-width="1"/>
<rect x="52.14" y="713.58" width="17.14" height="5.28" fill="#d3ebf2" stroke="none" stroke-width="1"/>
<rect x="69.28" y="713.58" width="17.14" height="5.28" fill="#f5f5b8" stroke="none" stroke-width="1"/>
<rect x="86.42" y="713.58" width="17.14" height="5.28" fill="#e46e4c" stroke="none" stroke-width="1"/>
<rect x="103.56" y="713.58" width="17.14" height="5.28" fill="#f5f5b8" stroke="none" stroke-width="1"/>
<rect x="120.70" y="713.58" width="17.14" height="5.28" fill="#edf5e0" stroke="none" stroke-width="1"/>
<rect x="137.84" y="713.58" width="17.14" height="5.28" fill="#edf5e0" stroke="none" stroke-width="1"/>
<rect x="154.98" y="713.58" width="17.14" height="5.28" fill="#edf5e0" stroke="none" stroke-width="1"/>
<rect x="172.12" y="713.58" width="17.14" height="5.28" fill="#f5f5b8" stroke="none" stroke-width="1"/>
<rect x="189.26" y="713.58" width="17.14" height="5.28" fill="#f5f5b8" stroke="none" stroke-width="1"/>
<rect x="35.00" y="718.86" width="17.14" height="5.28" fill="#f2d68a" stroke="none" stroke-width="1"/>
<rect x="52.14" y="718.86" width="17.14" height="5.28" fill="#edf5e0" stroke="none" stroke-width="1"/>
<rect x="69.28" y="718.86" width="17.14" height="5.28" fill="#d3ebf2" stroke="none" stroke-width="1"/>
<rect x="86.42" y="718.86" width="17.14" height="5.28" fill="#f5e8a0" stroke="none" stroke-width="1"/>
<rect x="103.56" y="718.86" width="17.14" height="5.28" fill="#efc27a" stroke="none" stroke-width="1"/>
<rect x="120.70" y="718.86" width="17.14" height="5.28" fill="#f5f5b8" stroke="none" stroke-width="1"/>
<rect x="137.84" y="718.86" width="17.14" height="5.28" fill="#d3ebf2" stroke="none" stroke-width="1"/>
<rect x="154.98" y="718.86" width="17.14" height="5.28" fill="#edf5e0" stroke="none" stroke-width="1"/>
<rect x="172.12" y="718.86" width="17.14" height="5.28" fill="#f5e8a0" stroke="none" stroke-width="1"/>
<rect x="189.26" y="718.86" width="17.14" height="5.28" fill="#f5f5b8" stroke="none" stroke-width="1"/>
<rect x="35.00" y="724.14" width="17.14" height="5.28" fill="#edf5e0" stroke="none" stroke-width="1"/>
<rect x="52.14" y="724.14" width="17.14" height="5.28" fill="#edf5e0" stroke="none" stroke-width="1"/>
<rect x="69.28" y="724.14" width="17.14" height="5.28" fill="#f5f5b8" stroke="none" stroke-width="1"/>
<rect x="86.42" y="724.14" width="17.14" height="5.28" fill="#f5f5b8" stroke="none" stroke-width="1"/>
<rect x="103.56" y="724.14" width="17.14" height="5.28" fill="#de4a34" stroke="none" stroke-width="1"/>
<rect x="120.70" y="724.14" width="17.14" height="5.28" fill="#edf5e0" stroke="none" stroke-width="1"/>
<rect x="137.84" y="724.14" width="17.14" height="5.28" fill="#edf5e0" stroke="none" stroke-width="1"/>
<rect x="154.98" y="724.14" width="17.14" height="5.28" fill="#f5f5b8" stroke="none" stroke-width="1"/>
<rect x="172.12" y="724.14" width="17.14" height="5.28" fill="#e8905a" stroke="none" stroke-width="1"/>
<rect x="189.26" y="724.14" width="17.14" height="5.28" fill="#d3ebf2" stroke="none" stroke-width="1"/>
<rect x="35.00" y="729.42" width="17.14" height="5.28" fill="#f2f7cc" stroke="none" stroke-width="1"/>
<rect x="52.14" y="729.42" width="17.14" height="5.28" fill="#f5f5b8" stroke="none" stroke-width="1"/>
<rect x="69.28" y="729.42" width="17.14" height="5.28" fill="#f2f7cc" stroke="none" stroke-width="1"/>
<rect x="86.42" y="729.42" width="17.14" height="5.28" fill="#ecb070" stroke="none" stroke-width="1"/>
<rect x="103.56" y="729.42" width="17.14" height="5.28" fill="#de4a34" stroke="none" stroke-width="1"/>
<rect x="120.70" y="729.42" width="17.14" height="5.28" fill="#f5f5b8" stroke="none" stroke-width="1"/>
<rect x="137.84" y="729.42" width="17.14" height="5.28" fill="#edf5e0" stroke="none" stroke-width="1"/>
<rect x="154.98" y="729.42" width="17.14" height="5.28" fill="#d3ebf2" stroke="none" stroke-width="1"/>
<rect x="172.12" y="729.42" width="17.14" height="5.28" fill="#edf5e0" stroke="none" stroke-width="1"/>
<rect x="189.26" y="729.42" width="17.14" height="5.28" fill="#edf5e0" stroke="none" stroke-width="1"/>
<path d="M35.0 544.58H206.4M35.0 549.86H206.4M35.0 555.14H206.4M35.0 560.42H206.4M35.0 565.71H206.4M35.0 570.99H206.4M35.0 576.27H206.4M35.0 581.55H206.4M35.0 586.83H206.4M35.0 592.11H206.4M35.0 597.39H206.4M35.0 602.67H206.4M35.0 607.95H206.4M35.0 613.24H206.4M35.0 618.52H206.4M35.0 623.80H206.4M35.0 629.08H206.4M35.0 634.36H206.4M35.0 639.64H206.4M35.0 644.92H206.4M35.0 650.20H206.4M35.0 655.48H206.4M35.0 660.76H206.4M35.0 666.05H206.4M35.0 671.33H206.4M35.0 676.61H206.4M35.0 681.89H206.4M35.0 687.17H206.4M35.0 692.45H206.4M35.0 697.73H206.4M35.0 703.01H206.4M35.0 708.29H206.4M35.0 713.58H206.4M35.0 718.86H206.4M35.0 724.14H206.4M35.0 729.42H206.4M52.14 539.3V734.7M69.28 539.3V734.7M86.42 539.3V734.7M103.56 539.3V734.7M120.70 539.3V734.7M137.84 539.3V734.7M154.98 539.3V734.7M172.12 539.3V734.7M189.26 539.3V734.7" stroke="#b4b4a8" stroke-width="0.5" fill="none"/>
<rect x="120.70" y="539.30" width="85.70" height="79.22" fill="none" stroke="#262626" stroke-width="1.5"/>
<rect x="35.00" y="618.52" width="85.70" height="116.18" fill="none" stroke="#262626" stroke-width="1.5"/>
<text x="208.30" y="544.32" font-size="6.7" text-anchor="start" fill="#333">27</text>
<text x="208.30" y="549.60" font-size="6.7" text-anchor="start" fill="#333">5</text>
<text x="208.30" y="554.88" font-size="6.7" text-anchor="start" fill="#333">3</text>
<text x="208.30" y="560.16" font-size="6.7" text-anchor="start" fill="#333">1</text>
<text x="208.30" y="565.44" font-size="6.7" text-anchor="start" fill="#333">19</text>
<text x="208.30" y="570.72" font-size="6.7" text-anchor="start" fill="#333">2</text>
<text x="208.30" y="576.01" font-size="6.7" text-anchor="start" fill="#333">33</text>
<text x="208.30" y="581.29" font-size="6.7" text-anchor="start" fill="#333">13</text>
<text x="208.30" y="586.57" font-size="6.7" text-anchor="start" fill="#333">20</text>
<text x="208.30" y="591.85" font-size="6.7" text-anchor="start" fill="#333">14</text>
<text x="208.30" y="597.13" font-size="6.7" text-anchor="start" fill="#333">4</text>
<text x="208.30" y="602.41" font-size="6.7" text-anchor="start" fill="#333">30</text>
<text x="208.30" y="607.69" font-size="6.7" text-anchor="start" fill="#333">9</text>
<text x="208.30" y="612.97" font-size="6.7" text-anchor="start" fill="#333">26</text>
<text x="208.30" y="618.25" font-size="6.7" text-anchor="start" fill="#333">36</text>
<text x="208.30" y="623.54" font-size="6.7" text-anchor="start" fill="#333">22</text>
<text x="208.30" y="628.82" font-size="6.7" text-anchor="start" fill="#333">7</text>
<text x="208.30" y="634.10" font-size="6.7" text-anchor="start" fill="#333">18</text>
<text x="208.30" y="639.38" font-size="6.7" text-anchor="start" fill="#333">11</text>
<text x="208.30" y="644.66" font-size="6.7" text-anchor="start" fill="#333">29</text>
<text x="208.30" y="649.94" font-size="6.7" text-anchor="start" fill="#333">15</text>
<text x="208.30" y="655.22" font-size="6.7" text-anchor="start" fill="#333">12</text>
<text x="208.30" y="660.50" font-size="6.7" text-anchor="start" fill="#333">10</text>
<text x="208.30" y="665.78" font-size="6.7" text-anchor="start" fill="#333">31</text>
<text x="208.30" y="671.06" font-size="6.7" text-anchor="start" fill="#333">23</text>
<text x="208.30" y="676.35" font-size="6.7" text-anchor="start" fill="#333">17</text>
<text x="208.30" y="681.63" font-size="6.7" text-anchor="start" fill="#333">16</text>
<text x="208.30" y="686.91" font-size="6.7" text-anchor="start" fill="#333">21</text>
<text x="208.30" y="692.19" font-size="6.7" text-anchor="start" fill="#333">8</text>
<text x="208.30" y="697.47" font-size="6.7" text-anchor="start" fill="#333">25</text>
<text x="208.30" y="702.75" font-size="6.7" text-anchor="start" fill="#333">32</text>
<text x="208.30" y="708.03" font-size="6.7" text-anchor="start" fill="#333">6</text>
<text x="208.30" y="713.31" font-size="6.7" text-anchor="start" fill="#333">24</text>
<text x="208.30" y="718.59" font-size="6.7" text-anchor="start" fill="#333">37</text>
<text x="208.30" y="723.88" font-size="6.7" text-anchor="start" fill="#333">33</text>
<text x="208.30" y="729.16" font-size="6.7" text-anchor="start" fill="#333">34</text>
<text x="208.30" y="734.44" font-size="6.7" text-anchor="start" fill="#333">28</text>
<text x="43.57" y="745.95" font-size="10" text-anchor="middle" fill="#333">1</text>
<text x="60.71" y="745.95" font-size="10" text-anchor="middle" fill="#333">2</text>
<text x="77.85" y="745.95" font-size="10" text-anchor="middle" fill="#333">3</text>
<text x="94.99" y="745.95" font-size="10" text-anchor="middle" fill="#333">4</text>
<text x="112.13" y="745.95" font-size="10" text-anchor="middle" fill="#333">5</text>
<text x="129.27" y="745.95" font-size="10" text-anchor="middle" fill="#333">6</text>
<text x="146.41" y="745.95" font-size="10" text-anchor="middle" fill="#333">7</text>
<text x="163.55" y="745.95" font-size="10" text-anchor="middle" fill="#333">8</text>
<text x="180.69" y="745.95" font-size="10" text-anchor="middle" fill="#333">9</text>
<text x="197.83" y="745.95" font-size="10" text-anchor="middle" fill="#333">10</text>
<line x1="219.50" y1="540.80" x2="219.50" y2="617.22" stroke="#999" stroke-width="1"/>
<line x1="219.50" y1="619.82" x2="219.50" y2="734.70" stroke="#999" stroke-width="1"/>
<text x="225.00" y="581.68" font-size="7.8" text-anchor="middle" fill="#333" transform="rotate(90 225.00 578.91)">Late modules</text>
<text x="225.00" y="679.38" font-size="7.8" text-anchor="middle" fill="#333" transform="rotate(90 225.00 676.61)">Early modules</text>
<rect x="485.70" y="538.60" width="17.71" height="7.26" fill="#f2f7cc" stroke="none" stroke-width="1"/>
<rect x="503.41" y="538.60" width="17.71" height="7.26" fill="#edf5e0" stroke="none" stroke-width="1"/>
<rect x="521.12" y="538.60" width="17.71" height="7.26" fill="#f2f7cc" stroke="none" stroke-width="1"/>
<rect x="538.83" y="538.60" width="17.71" height="7.26" fill="#edf5e0" stroke="none" stroke-width="1"/>
<rect x="556.54" y="538.60" width="17.71" height="7.26" fill="#edf5e0" stroke="none" stroke-width="1"/>
<rect x="574.25" y="538.60" width="17.71" height="7.26" fill="#d3ebf2" stroke="none" stroke-width="1"/>
<rect x="591.96" y="538.60" width="17.71" height="7.26" fill="#edf5e0" stroke="none" stroke-width="1"/>
<rect x="609.67" y="538.60" width="17.71" height="7.26" fill="#f5f5b8" stroke="none" stroke-width="1"/>
<rect x="627.38" y="538.60" width="17.71" height="7.26" fill="#f5e8a0" stroke="none" stroke-width="1"/>
<rect x="645.09" y="538.60" width="17.71" height="7.26" fill="#e46e4c" stroke="none" stroke-width="1"/>
<rect x="485.70" y="545.86" width="17.71" height="7.26" fill="#edf5e0" stroke="none" stroke-width="1"/>
<rect x="503.41" y="545.86" width="17.71" height="7.26" fill="#edf5e0" stroke="none" stroke-width="1"/>
<rect x="521.12" y="545.86" width="17.71" height="7.26" fill="#edf5e0" stroke="none" stroke-width="1"/>
<rect x="538.83" y="545.86" width="17.71" height="7.26" fill="#e3f2ee" stroke="none" stroke-width="1"/>
<rect x="556.54" y="545.86" width="17.71" height="7.26" fill="#edf5e0" stroke="none" stroke-width="1"/>
<rect x="574.25" y="545.86" width="17.71" height="7.26" fill="#edf5e0" stroke="none" stroke-width="1"/>
<rect x="591.96" y="545.86" width="17.71" height="7.26" fill="#f5f5b8" stroke="none" stroke-width="1"/>
<rect x="609.67" y="545.86" width="17.71" height="7.26" fill="#f5e8a0" stroke="none" stroke-width="1"/>
<rect x="627.38" y="545.86" width="17.71" height="7.26" fill="#f2d68a" stroke="none" stroke-width="1"/>
<rect x="645.09" y="545.86" width="17.71" height="7.26" fill="#eaa064" stroke="none" stroke-width="1"/>
<rect x="485.70" y="553.12" width="17.71" height="7.26" fill="#edf5e0" stroke="none" stroke-width="1"/>
<rect x="503.41" y="553.12" width="17.71" height="7.26" fill="#edf5e0" stroke="none" stroke-width="1"/>
<rect x="521.12" y="553.12" width="17.71" height="7.26" fill="#edf5e0" stroke="none" stroke-width="1"/>
<rect x="538.83" y="553.12" width="17.71" height="7.26" fill="#edf5e0" stroke="none" stroke-width="1"/>
<rect x="556.54" y="553.12" width="17.71" height="7.26" fill="#edf5e0" stroke="none" stroke-width="1"/>
<rect x="574.25" y="553.12" width="17.71" height="7.26" fill="#edf5e0" stroke="none" stroke-width="1"/>
<rect x="591.96" y="553.12" width="17.71" height="7.26" fill="#edf5e0" stroke="none" stroke-width="1"/>
<rect x="609.67" y="553.12" width="17.71" height="7.26" fill="#f5e8a0" stroke="none" stroke-width="1"/>
<rect x="627.38" y="553.12" width="17.71" height="7.26" fill="#f5e8a0" stroke="none" stroke-width="1"/>
<rect x="645.09" y="553.12" width="17.71" height="7.26" fill="#e8905a" stroke="none" stroke-width="1"/>
<rect x="485.70" y="560.38" width="17.71" height="7.26" fill="#edf5e0" stroke="none" stroke-width="1"/>
<rect x="503.41" y="560.38" width="17.71" height="7.26" fill="#e3f2ee" stroke="none" stroke-width="1"/>
<rect x="521.12" y="560.38" width="17.71" height="7.26" fill="#edf5e0" stroke="none" stroke-width="1"/>
<rect x="538.83" y="560.38" width="17.71" height="7.26" fill="#edf5e0" stroke="none" stroke-width="1"/>
<rect x="556.54" y="560.38" width="17.71" height="7.26" fill="#edf5e0" stroke="none" stroke-width="1"/>
<rect x="574.25" y="560.38" width="17.71" height="7.26" fill="#d3ebf2" stroke="none" stroke-width="1"/>
<rect x="591.96" y="560.38" width="17.71" height="7.26" fill="#edf5e0" stroke="none" stroke-width="1"/>
<rect x="609.67" y="560.38" width="17.71" height="7.26" fill="#f5e8a0" stroke="none" stroke-width="1"/>
<rect x="627.38" y="560.38" width="17.71" height="7.26" fill="#f5e8a0" stroke="none" stroke-width="1"/>
<rect x="645.09" y="560.38" width="17.71" height="7.26" fill="#e8905a" stroke="none" stroke-width="1"/>
<rect x="485.70" y="567.64" width="17.71" height="7.26" fill="#edf5e0" stroke="none" stroke-width="1"/>
<rect x="503.41" y="567.64" width="17.71" height="7.26" fill="#f5e8a0" stroke="none" stroke-width="1"/>
<rect x="521.12" y="567.64" width="17.71" height="7.26" fill="#edf5e0" stroke="none" stroke-width="1"/>
<rect x="538.83" y="567.64" width="17.71" height="7.26" fill="#e3f2ee" stroke="none" stroke-width="1"/>
<rect x="556.54" y="567.64" width="17.71" height="7.26" fill="#f2f7cc" stroke="none" stroke-width="1"/>
<rect x="574.25" y="567.64" width="17.71" height="7.26" fill="#edf5e0" stroke="none" stroke-width="1"/>
<rect x="591.96" y="567.64" width="17.71" height="7.26" fill="#f5f5b8" stroke="none" stroke-width="1"/>
<rect x="609.67" y="567.64" width="17.71" height="7.26" fill="#f5e8a0" stroke="none" stroke-width="1"/>
<rect x="627.38" y="567.64" width="17.71" height="7.26" fill="#eaa064" stroke="none" stroke-width="1"/>
<rect x="645.09" y="567.64" width="17.71" height="7.26" fill="#f2f7cc" stroke="none" stroke-width="1"/>
<rect x="485.70" y="574.90" width="17.71" height="7.26" fill="#e3f2ee" stroke="none" stroke-width="1"/>
<rect x="503.41" y="574.90" width="17.71" height="7.26" fill="#e3f2ee" stroke="none" stroke-width="1"/>
<rect x="521.12" y="574.90" width="17.71" height="7.26" fill="#f5f5b8" stroke="none" stroke-width="1"/>
<rect x="538.83" y="574.90" width="17.71" height="7.26" fill="#edf5e0" stroke="none" stroke-width="1"/>
<rect x="556.54" y="574.90" width="17.71" height="7.26" fill="#f5f5b8" stroke="none" stroke-width="1"/>
<rect x="574.25" y="574.90" width="17.71" height="7.26" fill="#f5f5b8" stroke="none" stroke-width="1"/>
<rect x="591.96" y="574.90" width="17.71" height="7.26" fill="#f5f5b8" stroke="none" stroke-width="1"/>
<rect x="609.67" y="574.90" width="17.71" height="7.26" fill="#ecb070" stroke="none" stroke-width="1"/>
<rect x="627.38" y="574.90" width="17.71" height="7.26" fill="#ecb070" stroke="none" stroke-width="1"/>
<rect x="645.09" y="574.90" width="17.71" height="7.26" fill="#edf5e0" stroke="none" stroke-width="1"/>
<rect x="485.70" y="582.16" width="17.71" height="7.26" fill="#e3f2ee" stroke="none" stroke-width="1"/>
<rect x="503.41" y="582.16" width="17.71" height="7.26" fill="#d3ebf2" stroke="none" stroke-width="1"/>
<rect x="521.12" y="582.16" width="17.71" height="7.26" fill="#edf5e0" stroke="none" stroke-width="1"/>
<rect x="538.83" y="582.16" width="17.71" height="7.26" fill="#edf5e0" stroke="none" stroke-width="1"/>
<rect x="556.54" y="582.16" width="17.71" height="7.26" fill="#edf5e0" stroke="none" stroke-width="1"/>
<rect x="574.25" y="582.16" width="17.71" height="7.26" fill="#f5f5b8" stroke="none" stroke-width="1"/>
<rect x="591.96" y="582.16" width="17.71" height="7.26" fill="#f5f5b8" stroke="none" stroke-width="1"/>
<rect x="609.67" y="582.16" width="17.71" height="7.26" fill="#ecb070" stroke="none" stroke-width="1"/>
<rect x="627.38" y="582.16" width="17.71" height="7.26" fill="#f2d68a" stroke="none" stroke-width="1"/>
<rect x="645.09" y="582.16" width="17.71" height="7.26" fill="#f5e8a0" stroke="none" stroke-width="1"/>
<rect x="485.70" y="589.41" width="17.71" height="7.26" fill="#edf5e0" stroke="none" stroke-width="1"/>
<rect x="503.41" y="589.41" width="17.71" height="7.26" fill="#edf5e0" stroke="none" stroke-width="1"/>
<rect x="521.12" y="589.41" width="17.71" height="7.26" fill="#d3ebf2" stroke="none" stroke-width="1"/>
<rect x="538.83" y="589.41" width="17.71" height="7.26" fill="#e3f2ee" stroke="none" stroke-width="1"/>
<rect x="556.54" y="589.41" width="17.71" height="7.26" fill="#f5e8a0" stroke="none" stroke-width="1"/>
<rect x="574.25" y="589.41" width="17.71" height="7.26" fill="#f5f5b8" stroke="none" stroke-width="1"/>
<rect x="591.96" y="589.41" width="17.71" height="7.26" fill="#f5f5b8" stroke="none" stroke-width="1"/>
<rect x="609.67" y="589.41" width="17.71" height="7.26" fill="#ecb070" stroke="none" stroke-width="1"/>
<rect x="627.38" y="589.41" width="17.71" height="7.26" fill="#f2d68a" stroke="none" stroke-width="1"/>
<rect x="645.09" y="589.41" width="17.71" height="7.26" fill="#f5f5b8" stroke="none" stroke-width="1"/>
<rect x="485.70" y="596.67" width="17.71" height="7.26" fill="#edf5e0" stroke="none" stroke-width="1"/>
<rect x="503.41" y="596.67" width="17.71" height="7.26" fill="#edf5e0" stroke="none" stroke-width="1"/>
<rect x="521.12" y="596.67" width="17.71" height="7.26" fill="#edf5e0" stroke="none" stroke-width="1"/>
<rect x="538.83" y="596.67" width="17.71" height="7.26" fill="#f5f5b8" stroke="none" stroke-width="1"/>
<rect x="556.54" y="596.67" width="17.71" height="7.26" fill="#efc27a" stroke="none" stroke-width="1"/>
<rect x="574.25" y="596.67" width="17.71" height="7.26" fill="#f2d68a" stroke="none" stroke-width="1"/>
<rect x="591.96" y="596.67" width="17.71" height="7.26" fill="#f5f5b8" stroke="none" stroke-width="1"/>
<rect x="609.67" y="596.67" width="17.71" height="7.26" fill="#f5f5b8" stroke="none" stroke-width="1"/>
<rect x="627.38" y="596.67" width="17.71" height="7.26" fill="#f5f5b8" stroke="none" stroke-width="1"/>
<rect x="645.09" y="596.67" width="17.71" height="7.26" fill="#d3ebf2" stroke="none" stroke-width="1"/>
<rect x="485.70" y="603.93" width="17.71" height="7.26" fill="#d3ebf2" stroke="none" stroke-width="1"/>
<rect x="503.41" y="603.93" width="17.71" height="7.26" fill="#edf5e0" stroke="none" stroke-width="1"/>
<rect x="521.12" y="603.93" width="17.71" height="7.26" fill="#edf5e0" stroke="none" stroke-width="1"/>
<rect x="538.83" y="603.93" width="17.71" height="7.26" fill="#f5f5b8" stroke="none" stroke-width="1"/>
<rect x="556.54" y="603.93" width="17.71" height="7.26" fill="#f5f5b8" stroke="none" stroke-width="1"/>
<rect x="574.25" y="603.93" width="17.71" height="7.26" fill="#f5e8a0" stroke="none" stroke-width="1"/>
<rect x="591.96" y="603.93" width="17.71" height="7.26" fill="#ecb070" stroke="none" stroke-width="1"/>
<rect x="609.67" y="603.93" width="17.71" height="7.26" fill="#f5e8a0" stroke="none" stroke-width="1"/>
<rect x="627.38" y="603.93" width="17.71" height="7.26" fill="#f5f5b8" stroke="none" stroke-width="1"/>
<rect x="645.09" y="603.93" width="17.71" height="7.26" fill="#edf5e0" stroke="none" stroke-width="1"/>
<rect x="485.70" y="611.19" width="17.71" height="7.26" fill="#edf5e0" stroke="none" stroke-width="1"/>
<rect x="503.41" y="611.19" width="17.71" height="7.26" fill="#d3ebf2" stroke="none" stroke-width="1"/>
<rect x="521.12" y="611.19" width="17.71" height="7.26" fill="#f2f7cc" stroke="none" stroke-width="1"/>
<rect x="538.83" y="611.19" width="17.71" height="7.26" fill="#f5f5b8" stroke="none" stroke-width="1"/>
<rect x="556.54" y="611.19" width="17.71" height="7.26" fill="#f5f5b8" stroke="none" stroke-width="1"/>
<rect x="574.25" y="611.19" width="17.71" height="7.26" fill="#f2d68a" stroke="none" stroke-width="1"/>
<rect x="591.96" y="611.19" width="17.71" height="7.26" fill="#f5e8a0" stroke="none" stroke-width="1"/>
<rect x="609.67" y="611.19" width="17.71" height="7.26" fill="#f2d68a" stroke="none" stroke-width="1"/>
<rect x="627.38" y="611.19" width="17.71" height="7.26" fill="#f5f5b8" stroke="none" stroke-width="1"/>
<rect x="645.09" y="611.19" width="17.71" height="7.26" fill="#edf5e0" stroke="none" stroke-width="1"/>
<rect x="485.70" y="618.45" width="17.71" height="7.26" fill="#f2d68a" stroke="none" stroke-width="1"/>
<rect x="503.41" y="618.45" width="17.71" height="7.26" fill="#b3d8e8" stroke="none" stroke-width="1"/>
<rect x="521.12" y="618.45" width="17.71" height="7.26" fill="#e3f2ee" stroke="none" stroke-width="1"/>
<rect x="538.83" y="618.45" width="17.71" height="7.26" fill="#edf5e0" stroke="none" stroke-width="1"/>
<rect x="556.54" y="618.45" width="17.71" height="7.26" fill="#edf5e0" stroke="none" stroke-width="1"/>
<rect x="574.25" y="618.45" width="17.71" height="7.26" fill="#f5e8a0" stroke="none" stroke-width="1"/>
<rect x="591.96" y="618.45" width="17.71" height="7.26" fill="#edf5e0" stroke="none" stroke-width="1"/>
<rect x="609.67" y="618.45" width="17.71" height="7.26" fill="#f5e8a0" stroke="none" stroke-width="1"/>
<rect x="627.38" y="618.45" width="17.71" height="7.26" fill="#f5f5b8" stroke="none" stroke-width="1"/>
<rect x="645.09" y="618.45" width="17.71" height="7.26" fill="#f2d68a" stroke="none" stroke-width="1"/>
<rect x="485.70" y="625.71" width="17.71" height="7.26" fill="#edf5e0" stroke="none" stroke-width="1"/>
<rect x="503.41" y="625.71" width="17.71" height="7.26" fill="#f5f5b8" stroke="none" stroke-width="1"/>
<rect x="521.12" y="625.71" width="17.71" height="7.26" fill="#d3ebf2" stroke="none" stroke-width="1"/>
<rect x="538.83" y="625.71" width="17.71" height="7.26" fill="#b3d8e8" stroke="none" stroke-width="1"/>
<rect x="556.54" y="625.71" width="17.71" height="7.26" fill="#edf5e0" stroke="none" stroke-width="1"/>
<rect x="574.25" y="625.71" width="17.71" height="7.26" fill="#efc27a" stroke="none" stroke-width="1"/>
<rect x="591.96" y="625.71" width="17.71" height="7.26" fill="#edf5e0" stroke="none" stroke-width="1"/>
<rect x="609.67" y="625.71" width="17.71" height="7.26" fill="#f5e8a0" stroke="none" stroke-width="1"/>
<rect x="627.38" y="625.71" width="17.71" height="7.26" fill="#f5e8a0" stroke="none" stroke-width="1"/>
<rect x="645.09" y="625.71" width="17.71" height="7.26" fill="#f5e8a0" stroke="none" stroke-width="1"/>
<rect x="485.70" y="632.97" width="17.71" height="7.26" fill="#edf5e0" stroke="none" stroke-width="1"/>
<rect x="503.41" y="632.97" width="17.71" height="7.26" fill="#f5f5b8" stroke="none" stroke-width="1"/>
<rect x="521.12" y="632.97" width="17.71" height="7.26" fill="#d3ebf2" stroke="none" stroke-width="1"/>
<rect x="538.83" y="632.97" width="17.71" height="7.26" fill="#edf5e0" stroke="none" stroke-width="1"/>
<rect x="556.54" y="632.97" width="17.71" height="7.26" fill="#f5f5b8" stroke="none" stroke-width="1"/>
<rect x="574.25" y="632.97" width="17.71" height="7.26" fill="#e46e4c" stroke="none" stroke-width="1"/>
<rect x="591.96" y="632.97" width="17.71" height="7.26" fill="#f5f5b8" stroke="none" stroke-width="1"/>
<rect x="609.67" y="632.97" width="17.71" height="7.26" fill="#f5f5b8" stroke="none" stroke-width="1"/>
<rect x="627.38" y="632.97" width="17.71" height="7.26" fill="#f5f5b8" stroke="none" stroke-width="1"/>
<rect x="645.09" y="632.97" width="17.71" height="7.26" fill="#f2f7cc" stroke="none" stroke-width="1"/>
<rect x="485.70" y="640.23" width="17.71" height="7.26" fill="#f5f5b8" stroke="none" stroke-width="1"/>
<rect x="503.41" y="640.23" width="17.71" height="7.26" fill="#f5f5b8" stroke="none" stroke-width="1"/>
<rect x="521.12" y="640.23" width="17.71" height="7.26" fill="#f5e8a0" stroke="none" stroke-width="1"/>
<rect x="538.83" y="640.23" width="17.71" height="7.26" fill="#e46e4c" stroke="none" stroke-width="1"/>
<rect x="556.54" y="640.23" width="17.71" height="7.26" fill="#e46e4c" stroke="none" stroke-width="1"/>
<rect x="574.25" y="640.23" width="17.71" height="7.26" fill="#f2f7cc" stroke="none" stroke-width="1"/>
<rect x="591.96" y="640.23" width="17.71" height="7.26" fill="#f2f7cc" stroke="none" stroke-width="1"/>
<rect x="609.67" y="640.23" width="17.71" height="7.26" fill="#edf5e0" stroke="none" stroke-width="1"/>
<rect x="627.38" y="640.23" width="17.71" height="7.26" fill="#d3ebf2" stroke="none" stroke-width="1"/>
<rect x="645.09" y="640.23" width="17.71" height="7.26" fill="#edf5e0" stroke="none" stroke-width="1"/>
<rect x="485.70" y="647.49" width="17.71" height="7.26" fill="#f5f5b8" stroke="none" stroke-width="1"/>
<rect x="503.41" y="647.49" width="17.71" height="7.26" fill="#f5e8a0" stroke="none" stroke-width="1"/>
<rect x="521.12" y="647.49" width="17.71" height="7.26" fill="#edf5e0" stroke="none" stroke-width="1"/>
<rect x="538.83" y="647.49" width="17.71" height="7.26" fill="#e46e4c" stroke="none" stroke-width="1"/>
<rect x="556.54" y="647.49" width="17.71" height="7.26" fill="#e46e4c" stroke="none" stroke-width="1"/>
<rect x="574.25" y="647.49" width="17.71" height="7.26" fill="#edf5e0" stroke="none" stroke-width="1"/>
<rect x="591.96" y="647.49" width="17.71" height="7.26" fill="#f2f7cc" stroke="none" stroke-width="1"/>
<rect x="609.67" y="647.49" width="17.71" height="7.26" fill="#edf5e0" stroke="none" stroke-width="1"/>
<rect x="627.38" y="647.49" width="17.71" height="7.26" fill="#e3f2ee" stroke="none" stroke-width="1"/>
<rect x="645.09" y="647.49" width="17.71" height="7.26" fill="#edf5e0" stroke="none" stroke-width="1"/>
<rect x="485.70" y="654.75" width="17.71" height="7.26" fill="#edf5e0" stroke="none" stroke-width="1"/>
<rect x="503.41" y="654.75" width="17.71" height="7.26" fill="#f5f5b8" stroke="none" stroke-width="1"/>
<rect x="521.12" y="654.75" width="17.71" height="7.26" fill="#f5f5b8" stroke="none" stroke-width="1"/>
<rect x="538.83" y="654.75" width="17.71" height="7.26" fill="#edf5e0" stroke="none" stroke-width="1"/>
<rect x="556.54" y="654.75" width="17.71" height="7.26" fill="#edf5e0" stroke="none" stroke-width="1"/>
<rect x="574.25" y="654.75" width="17.71" height="7.26" fill="#edf5e0" stroke="none" stroke-width="1"/>
<rect x="591.96" y="654.75" width="17.71" height="7.26" fill="#de4a34" stroke="none" stroke-width="1"/>
<rect x="609.67" y="654.75" width="17.71" height="7.26" fill="#edf5e0" stroke="none" stroke-width="1"/>
<rect x="627.38" y="654.75" width="17.71" height="7.26" fill="#edf5e0" stroke="none" stroke-width="1"/>
<rect x="645.09" y="654.75" width="17.71" height="7.26" fill="#f5f5b8" stroke="none" stroke-width="1"/>
<rect x="485.70" y="662.01" width="17.71" height="7.26" fill="#f5f5b8" stroke="none" stroke-width="1"/>
<rect x="503.41" y="662.01" width="17.71" height="7.26" fill="#e8905a" stroke="none" stroke-width="1"/>
<rect x="521.12" y="662.01" width="17.71" height="7.26" fill="#f5e8a0" stroke="none" stroke-width="1"/>
<rect x="538.83" y="662.01" width="17.71" height="7.26" fill="#edf5e0" stroke="none" stroke-width="1"/>
<rect x="556.54" y="662.01" width="17.71" height="7.26" fill="#d3ebf2" stroke="none" stroke-width="1"/>
<rect x="574.25" y="662.01" width="17.71" height="7.26" fill="#d3ebf2" stroke="none" stroke-width="1"/>
<rect x="591.96" y="662.01" width="17.71" height="7.26" fill="#efc27a" stroke="none" stroke-width="1"/>
<rect x="609.67" y="662.01" width="17.71" height="7.26" fill="#edf5e0" stroke="none" stroke-width="1"/>
<rect x="627.38" y="662.01" width="17.71" height="7.26" fill="#f5f5b8" stroke="none" stroke-width="1"/>
<rect x="645.09" y="662.01" width="17.71" height="7.26" fill="#edf5e0" stroke="none" stroke-width="1"/>
<rect x="485.70" y="669.27" width="17.71" height="7.26" fill="#f5f5b8" stroke="none" stroke-width="1"/>
<rect x="503.41" y="669.27" width="17.71" height="7.26" fill="#f5f5b8" stroke="none" stroke-width="1"/>
<rect x="521.12" y="669.27" width="17.71" height="7.26" fill="#f5e8a0" stroke="none" stroke-width="1"/>
<rect x="538.83" y="669.27" width="17.71" height="7.26" fill="#f5e8a0" stroke="none" stroke-width="1"/>
<rect x="556.54" y="669.27" width="17.71" height="7.26" fill="#f5f5b8" stroke="none" stroke-width="1"/>
<rect x="574.25" y="669.27" width="17.71" height="7.26" fill="#f5e8a0" stroke="none" stroke-width="1"/>
<rect x="591.96" y="669.27" width="17.71" height="7.26" fill="#f2d68a" stroke="none" stroke-width="1"/>
<rect x="609.67" y="669.27" width="17.71" height="7.26" fill="#edf5e0" stroke="none" stroke-width="1"/>
<rect x="627.38" y="669.27" width="17.71" height="7.26" fill="#edf5e0" stroke="none" stroke-width="1"/>
<rect x="645.09" y="669.27" width="17.71" height="7.26" fill="#d3ebf2" stroke="none" stroke-width="1"/>
<rect x="485.70" y="676.53" width="17.71" height="7.26" fill="#f5f5b8" stroke="none" stroke-width="1"/>
<rect x="503.41" y="676.53" width="17.71" height="7.26" fill="#f5e8a0" stroke="none" stroke-width="1"/>
<rect x="521.12" y="676.53" width="17.71" height="7.26" fill="#f5f5b8" stroke="none" stroke-width="1"/>
<rect x="538.83" y="676.53" width="17.71" height="7.26" fill="#f5f5b8" stroke="none" stroke-width="1"/>
<rect x="556.54" y="676.53" width="17.71" height="7.26" fill="#f5e8a0" stroke="none" stroke-width="1"/>
<rect x="574.25" y="676.53" width="17.71" height="7.26" fill="#f2d68a" stroke="none" stroke-width="1"/>
<rect x="591.96" y="676.53" width="17.71" height="7.26" fill="#edf5e0" stroke="none" stroke-width="1"/>
<rect x="609.67" y="676.53" width="17.71" height="7.26" fill="#edf5e0" stroke="none" stroke-width="1"/>
<rect x="627.38" y="676.53" width="17.71" height="7.26" fill="#f5f5b8" stroke="none" stroke-width="1"/>
<rect x="645.09" y="676.53" width="17.71" height="7.26" fill="#d3ebf2" stroke="none" stroke-width="1"/>
<rect x="485.70" y="683.79" width="17.71" height="7.26" fill="#f5e8a0" stroke="none" stroke-width="1"/>
<rect x="503.41" y="683.79" width="17.71" height="7.26" fill="#f5f5b8" stroke="none" stroke-width="1"/>
<rect x="521.12" y="683.79" width="17.71" height="7.26" fill="#ecb070" stroke="none" stroke-width="1"/>
<rect x="538.83" y="683.79" width="17.71" height="7.26" fill="#f5e8a0" stroke="none" stroke-width="1"/>
<rect x="556.54" y="683.79" width="17.71" height="7.26" fill="#f2d68a" stroke="none" stroke-width="1"/>
<rect x="574.25" y="683.79" width="17.71" height="7.26" fill="#f2d68a" stroke="none" stroke-width="1"/>
<rect x="591.96" y="683.79" width="17.71" height="7.26" fill="#d3ebf2" stroke="none" stroke-width="1"/>
<rect x="609.67" y="683.79" width="17.71" height="7.26" fill="#e3f2ee" stroke="none" stroke-width="1"/>
<rect x="627.38" y="683.79" width="17.71" height="7.26" fill="#d3ebf2" stroke="none" stroke-width="1"/>
<rect x="645.09" y="683.79" width="17.71" height="7.26" fill="#edf5e0" stroke="none" stroke-width="1"/>
<rect x="485.70" y="691.04" width="17.71" height="7.26" fill="#f5e8a0" stroke="none" stroke-width="1"/>
<rect x="503.41" y="691.04" width="17.71" height="7.26" fill="#eaa064" stroke="none" stroke-width="1"/>
<rect x="521.12" y="691.04" width="17.71" height="7.26" fill="#f5f5b8" stroke="none" stroke-width="1"/>
<rect x="538.83" y="691.04" width="17.71" height="7.26" fill="#f5f5b8" stroke="none" stroke-width="1"/>
<rect x="556.54" y="691.04" width="17.71" height="7.26" fill="#edf5e0" stroke="none" stroke-width="1"/>
<rect x="574.25" y="691.04" width="17.71" height="7.26" fill="#f2d68a" stroke="none" stroke-width="1"/>
<rect x="591.96" y="691.04" width="17.71" height="7.26" fill="#edf5e0" stroke="none" stroke-width="1"/>
<rect x="609.67" y="691.04" width="17.71" height="7.26" fill="#e3f2ee" stroke="none" stroke-width="1"/>
<rect x="627.38" y="691.04" width="17.71" height="7.26" fill="#e3f2ee" stroke="none" stroke-width="1"/>
<rect x="645.09" y="691.04" width="17.71" height="7.26" fill="#edf5e0" stroke="none" stroke-width="1"/>
<rect x="485.70" y="698.30" width="17.71" height="7.26" fill="#e46e4c" stroke="none" stroke-width="1"/>
<rect x="503.41" y="698.30" width="17.71" height="7.26" fill="#edf5e0" stroke="none" stroke-width="1"/>
<rect x="521.12" y="698.30" width="17.71" height="7.26" fill="#f5f5b8" stroke="none" stroke-width="1"/>
<rect x="538.83" y="698.30" width="17.71" height="7.26" fill="#f5f5b8" stroke="none" stroke-width="1"/>
<rect x="556.54" y="698.30" width="17.71" height="7.26" fill="#edf5e0" stroke="none" stroke-width="1"/>
<rect x="574.25" y="698.30" width="17.71" height="7.26" fill="#edf5e0" stroke="none" stroke-width="1"/>
<rect x="591.96" y="698.30" width="17.71" height="7.26" fill="#edf5e0" stroke="none" stroke-width="1"/>
<rect x="609.67" y="698.30" width="17.71" height="7.26" fill="#edf5e0" stroke="none" stroke-width="1"/>
<rect x="627.38" y="698.30" width="17.71" height="7.26" fill="#edf5e0" stroke="none" stroke-width="1"/>
<rect x="645.09" y="698.30" width="17.71" height="7.26" fill="#f5f5b8" stroke="none" stroke-width="1"/>
<rect x="485.70" y="705.56" width="17.71" height="7.26" fill="#ecb070" stroke="none" stroke-width="1"/>
<rect x="503.41" y="705.56" width="17.71" height="7.26" fill="#f2d68a" stroke="none" stroke-width="1"/>
<rect x="521.12" y="705.56" width="17.71" height="7.26" fill="#ecb070" stroke="none" stroke-width="1"/>
<rect x="538.83" y="705.56" width="17.71" height="7.26" fill="#f5f5b8" stroke="none" stroke-width="1"/>
<rect x="556.54" y="705.56" width="17.71" height="7.26" fill="#edf5e0" stroke="none" stroke-width="1"/>
<rect x="574.25" y="705.56" width="17.71" height="7.26" fill="#edf5e0" stroke="none" stroke-width="1"/>
<rect x="591.96" y="705.56" width="17.71" height="7.26" fill="#edf5e0" stroke="none" stroke-width="1"/>
<rect x="609.67" y="705.56" width="17.71" height="7.26" fill="#d3ebf2" stroke="none" stroke-width="1"/>
<rect x="627.38" y="705.56" width="17.71" height="7.26" fill="#d3ebf2" stroke="none" stroke-width="1"/>
<rect x="645.09" y="705.56" width="17.71" height="7.26" fill="#f5f5b8" stroke="none" stroke-width="1"/>
<rect x="485.70" y="712.82" width="17.71" height="7.26" fill="#ecb070" stroke="none" stroke-width="1"/>
<rect x="503.41" y="712.82" width="17.71" height="7.26" fill="#f2d68a" stroke="none" stroke-width="1"/>
<rect x="521.12" y="712.82" width="17.71" height="7.26" fill="#e8905a" stroke="none" stroke-width="1"/>
<rect x="538.83" y="712.82" width="17.71" height="7.26" fill="#f5f5b8" stroke="none" stroke-width="1"/>
<rect x="556.54" y="712.82" width="17.71" height="7.26" fill="#edf5e0" stroke="none" stroke-width="1"/>
<rect x="574.25" y="712.82" width="17.71" height="7.26" fill="#d3ebf2" stroke="none" stroke-width="1"/>
<rect x="591.96" y="712.82" width="17.71" height="7.26" fill="#edf5e0" stroke="none" stroke-width="1"/>
<rect x="609.67" y="712.82" width="17.71" height="7.26" fill="#edf5e0" stroke="none" stroke-width="1"/>
<rect x="627.38" y="712.82" width="17.71" height="7.26" fill="#edf5e0" stroke="none" stroke-width="1"/>
<rect x="645.09" y="712.82" width="17.71" height="7.26" fill="#f5f5b8" stroke="none" stroke-width="1"/>
<rect x="485.70" y="720.08" width="17.71" height="7.26" fill="#f5e8a0" stroke="none" stroke-width="1"/>
<rect x="503.41" y="720.08" width="17.71" height="7.26" fill="#ecb070" stroke="none" stroke-width="1"/>
<rect x="521.12" y="720.08" width="17.71" height="7.26" fill="#ecb070" stroke="none" stroke-width="1"/>
<rect x="538.83" y="720.08" width="17.71" height="7.26" fill="#f2d68a" stroke="none" stroke-width="1"/>
<rect x="556.54" y="720.08" width="17.71" height="7.26" fill="#edf5e0" stroke="none" stroke-width="1"/>
<rect x="574.25" y="720.08" width="17.71" height="7.26" fill="#edf5e0" stroke="none" stroke-width="1"/>
<rect x="591.96" y="720.08" width="17.71" height="7.26" fill="#edf5e0" stroke="none" stroke-width="1"/>
<rect x="609.67" y="720.08" width="17.71" height="7.26" fill="#d3ebf2" stroke="none" stroke-width="1"/>
<rect x="627.38" y="720.08" width="17.71" height="7.26" fill="#d3ebf2" stroke="none" stroke-width="1"/>
<rect x="645.09" y="720.08" width="17.71" height="7.26" fill="#edf5e0" stroke="none" stroke-width="1"/>
<rect x="485.70" y="727.34" width="17.71" height="7.26" fill="#f2d68a" stroke="none" stroke-width="1"/>
<rect x="503.41" y="727.34" width="17.71" height="7.26" fill="#f2d68a" stroke="none" stroke-width="1"/>
<rect x="521.12" y="727.34" width="17.71" height="7.26" fill="#f2d68a" stroke="none" stroke-width="1"/>
<rect x="538.83" y="727.34" width="17.71" height="7.26" fill="#f5f5b8" stroke="none" stroke-width="1"/>
<rect x="556.54" y="727.34" width="17.71" height="7.26" fill="#f5f5b8" stroke="none" stroke-width="1"/>
<rect x="574.25" y="727.34" width="17.71" height="7.26" fill="#f5f5b8" stroke="none" stroke-width="1"/>
<rect x="591.96" y="727.34" width="17.71" height="7.26" fill="#edf5e0" stroke="none" stroke-width="1"/>
<rect x="609.67" y="727.34" width="17.71" height="7.26" fill="#d3ebf2" stroke="none" stroke-width="1"/>
<rect x="627.38" y="727.34" width="17.71" height="7.26" fill="#d3ebf2" stroke="none" stroke-width="1"/>
<rect x="645.09" y="727.34" width="17.71" height="7.26" fill="#edf5e0" stroke="none" stroke-width="1"/>
<path d="M485.7 545.86H662.8M485.7 553.12H662.8M485.7 560.38H662.8M485.7 567.64H662.8M485.7 574.90H662.8M485.7 582.16H662.8M485.7 589.41H662.8M485.7 596.67H662.8M485.7 603.93H662.8M485.7 611.19H662.8M485.7 618.45H662.8M485.7 625.71H662.8M485.7 632.97H662.8M485.7 640.23H662.8M485.7 647.49H662.8M485.7 654.75H662.8M485.7 662.01H662.8M485.7 669.27H662.8M485.7 676.53H662.8M485.7 683.79H662.8M485.7 691.04H662.8M485.7 698.30H662.8M485.7 705.56H662.8M485.7 712.82H662.8M485.7 720.08H662.8M485.7 727.34H662.8M503.41 538.6V734.6M521.12 538.6V734.6M538.83 538.6V734.6M556.54 538.6V734.6M574.25 538.6V734.6M591.96 538.6V734.6M609.67 538.6V734.6M627.38 538.6V734.6M645.09 538.6V734.6" stroke="#b4b4a8" stroke-width="0.5" fill="none"/>
<rect x="574.25" y="538.60" width="88.55" height="79.85" fill="none" stroke="#262626" stroke-width="1.5"/>
<rect x="485.70" y="618.45" width="88.55" height="116.15" fill="none" stroke="#262626" stroke-width="1.5"/>
<text x="664.60" y="544.71" font-size="7.0" text-anchor="start" fill="#333">10</text>
<text x="664.60" y="551.97" font-size="7.0" text-anchor="start" fill="#333">11</text>
<text x="664.60" y="559.23" font-size="7.0" text-anchor="start" fill="#333">1</text>
<text x="664.60" y="566.49" font-size="7.0" text-anchor="start" fill="#333">22</text>
<text x="664.60" y="573.75" font-size="7.0" text-anchor="start" fill="#333">12</text>
<text x="664.60" y="581.01" font-size="7.0" text-anchor="start" fill="#333">8</text>
<text x="664.60" y="588.27" font-size="7.0" text-anchor="start" fill="#333">4</text>
<text x="664.60" y="595.53" font-size="7.0" text-anchor="start" fill="#333">7</text>
<text x="664.60" y="602.79" font-size="7.0" text-anchor="start" fill="#333">27</text>
<text x="664.60" y="610.05" font-size="7.0" text-anchor="start" fill="#333">20</text>
<text x="664.60" y="617.31" font-size="7.0" text-anchor="start" fill="#333">16</text>
<text x="664.60" y="624.57" font-size="7.0" text-anchor="start" fill="#333">14</text>
<text x="664.60" y="631.83" font-size="7.0" text-anchor="start" fill="#333">21</text>
<text x="664.60" y="639.09" font-size="7.0" text-anchor="start" fill="#333">15</text>
<text x="664.60" y="646.34" font-size="7.0" text-anchor="start" fill="#333">9</text>
<text x="664.60" y="653.60" font-size="7.0" text-anchor="start" fill="#333">26</text>
<text x="664.60" y="660.86" font-size="7.0" text-anchor="start" fill="#333">25</text>
<text x="664.60" y="668.12" font-size="7.0" text-anchor="start" fill="#333">3</text>
<text x="664.60" y="675.38" font-size="7.0" text-anchor="start" fill="#333">17</text>
<text x="664.60" y="682.64" font-size="7.0" text-anchor="start" fill="#333">18</text>
<text x="664.60" y="689.90" font-size="7.0" text-anchor="start" fill="#333">5</text>
<text x="664.60" y="697.16" font-size="7.0" text-anchor="start" fill="#333">6</text>
<text x="664.60" y="704.42" font-size="7.0" text-anchor="start" fill="#333">24</text>
<text x="664.60" y="711.68" font-size="7.0" text-anchor="start" fill="#333">19</text>
<text x="664.60" y="718.94" font-size="7.0" text-anchor="start" fill="#333">23</text>
<text x="664.60" y="726.20" font-size="7.0" text-anchor="start" fill="#333">13</text>
<text x="664.60" y="733.46" font-size="7.0" text-anchor="start" fill="#333">2</text>
<text x="494.56" y="745.95" font-size="10" text-anchor="middle" fill="#333">1</text>
<text x="512.26" y="745.95" font-size="10" text-anchor="middle" fill="#333">2</text>
<text x="529.98" y="745.95" font-size="10" text-anchor="middle" fill="#333">3</text>
<text x="547.68" y="745.95" font-size="10" text-anchor="middle" fill="#333">4</text>
<text x="565.39" y="745.95" font-size="10" text-anchor="middle" fill="#333">5</text>
<text x="583.11" y="745.95" font-size="10" text-anchor="middle" fill="#333">6</text>
<text x="600.81" y="745.95" font-size="10" text-anchor="middle" fill="#333">7</text>
<text x="618.52" y="745.95" font-size="10" text-anchor="middle" fill="#333">8</text>
<text x="636.23" y="745.95" font-size="10" text-anchor="middle" fill="#333">9</text>
<text x="653.94" y="745.95" font-size="10" text-anchor="middle" fill="#333">10</text>
<line x1="674.80" y1="540.10" x2="674.80" y2="617.15" stroke="#999" stroke-width="1"/>
<line x1="674.80" y1="619.75" x2="674.80" y2="734.60" stroke="#999" stroke-width="1"/>
<text x="680.00" y="581.65" font-size="8.8" text-anchor="middle" fill="#333" transform="rotate(90 680.00 578.53)">Late modules</text>
<text x="680.00" y="679.65" font-size="8.8" text-anchor="middle" fill="#333" transform="rotate(90 680.00 676.53)">Early modules</text>
<path d="M16.1 566.4L16.1 659.0M16.1 566.4L27.0 566.4M16.1 659.0L26.2 659.0M27.0 548.4L27.0 584.1M27.0 548.4L31.8 548.4M27.0 584.1L29.8 584.1M31.8 542.0L31.8 556.0M29.8 570.0L29.8 600.0M26.2 631.2L26.2 686.3M26.2 631.2L29.5 631.2M26.2 686.3L28.0 686.3M29.5 622.0L29.5 645.0M28.0 666.6L28.0 715.0M28.0 666.6L34.0 666.6M28.0 715.0L31.0 715.0M31.0 706.0L31.0 728.0M33.4 541.9L35.0 541.9M33.4 541.9L33.4 547.2M32.1 547.2L35.0 547.2M32.3 552.5L35.0 552.5M32.3 552.5L32.3 557.8M32.6 557.8L35.0 557.8M31.1 563.1L35.0 563.1M31.1 563.1L31.1 568.3M30.5 568.3L35.0 568.3M30.8 573.6L35.0 573.6M30.8 573.6L30.8 578.9M31.6 578.9L35.0 578.9M30.2 584.2L35.0 584.2M30.2 584.2L30.2 589.5M31.4 589.5L35.0 589.5M30.5 594.8L35.0 594.8M30.5 594.8L30.5 600.0M31.9 600.0L35.0 600.0M31.9 605.3L35.0 605.3M31.9 605.3L31.9 610.6M30.5 610.6L35.0 610.6M31.1 615.9L35.0 615.9M31.1 615.9L31.1 621.2M29.7 621.2L35.0 621.2M30.4 626.4L35.0 626.4M30.4 626.4L30.4 631.7M30.9 631.7L35.0 631.7M30.9 637.0L35.0 637.0M30.9 637.0L30.9 642.3M30.3 642.3L35.0 642.3M29.6 647.6L35.0 647.6M29.6 647.6L29.6 652.8M34.3 652.8L35.0 652.8M34.5 658.1L35.0 658.1M34.5 658.1L34.5 663.4M34.4 663.4L35.0 663.4M34.5 668.7L35.0 668.7M34.5 668.7L34.5 674.0M34.5 674.0L35.0 674.0M34.5 679.2L35.0 679.2M34.5 679.2L34.5 684.5M34.5 684.5L35.0 684.5M34.5 689.8L35.0 689.8M34.5 689.8L34.5 695.1M34.5 695.1L35.0 695.1M34.5 700.4L35.0 700.4M34.5 700.4L34.5 705.7M34.5 705.7L35.0 705.7M34.3 710.9L35.0 710.9M34.3 710.9L34.3 716.2M31.6 716.2L35.0 716.2M32.0 721.5L35.0 721.5M32.0 721.5L32.0 726.8M33.0 726.8L35.0 726.8M31.4 732.1L35.0 732.1" stroke="#8a8a8a" stroke-width="0.7" fill="none"/>
<path d="M465.9 590.3L465.9 660.0M465.9 590.3L477.5 590.3M465.9 660.0L476.0 660.0M477.5 560.0L477.5 620.0M477.5 560.0L480.5 560.0M477.5 620.0L480.0 620.0M480.5 545.0L480.5 575.0M480.0 605.0L480.0 632.0M476.0 640.0L476.0 700.0M476.0 640.0L481.0 640.0M476.0 700.0L479.0 700.0M481.0 625.0L481.0 655.0M479.0 672.0L479.0 728.0M482.4 542.2L485.7 542.2M482.4 542.2L482.4 549.5M482.3 549.5L485.7 549.5M482.4 556.7L485.7 556.7M482.4 556.7L482.4 564.0M482.7 564.0L485.7 564.0M482.8 571.3L485.7 571.3M482.8 571.3L482.8 578.5M483.5 578.5L485.7 578.5M482.8 585.8L485.7 585.8M482.8 585.8L482.8 593.0M483.0 593.0L485.7 593.0M482.8 600.3L485.7 600.3M482.8 600.3L482.8 607.6M483.5 607.6L485.7 607.6M483.8 614.8L485.7 614.8M483.8 614.8L483.8 622.1M482.9 622.1L485.7 622.1M483.8 629.3L485.7 629.3M483.8 629.3L483.8 636.6M482.5 636.6L485.7 636.6M484.0 643.9L485.7 643.9M484.0 643.9L484.0 651.1M483.1 651.1L485.7 651.1M483.4 658.4L485.7 658.4M483.4 658.4L483.4 665.6M482.8 665.6L485.7 665.6M482.5 672.9L485.7 672.9M482.5 672.9L482.5 680.2M482.3 680.2L485.7 680.2M483.8 687.4L485.7 687.4M483.8 687.4L483.8 694.7M482.7 694.7L485.7 694.7M483.4 701.9L485.7 701.9M483.4 701.9L483.4 709.2M482.9 709.2L485.7 709.2M483.1 716.5L485.7 716.5M483.1 716.5L483.1 723.7M482.4 723.7L485.7 723.7M482.4 731.0L485.7 731.0" stroke="#8a8a8a" stroke-width="0.7" fill="none"/>
<text x="38.40" y="530.80" font-size="15" text-anchor="middle" font-weight="bold" stroke="#222" stroke-width="0.35" fill="#222">e</text>
<text x="489.60" y="528.00" font-size="15" text-anchor="middle" font-weight="bold" stroke="#222" stroke-width="0.35" fill="#222">g</text>
<text x="324.40" y="530.40" font-size="15" text-anchor="middle" font-weight="bold" stroke="#222" stroke-width="0.35" fill="#222">f</text>
<text x="119.80" y="531.20" font-size="9.3" text-anchor="middle" fill="#333">Gene Modules Shoot</text>
<text x="575.00" y="531.60" font-size="9.3" text-anchor="middle" fill="#333">Gene Modules Root</text>
<text x="98.70" y="759.00" font-size="9.3" text-anchor="middle" fill="#333">Pseudotime bins</text>
<text x="552.00" y="758.80" font-size="9.3" text-anchor="middle" fill="#333">Pseudotime bins</text>
<rect x="140.00" y="750.40" width="46.40" height="4.30" fill="url(#hm)" stroke="none" stroke-width="1"/>
<text x="142.20" y="762.26" font-size="7.5" text-anchor="middle" fill="#333">-3</text>
<text x="163.20" y="761.80" font-size="6.2" text-anchor="middle" fill="#333">Scaled avg.</text>
<text x="185.20" y="762.26" font-size="7.5" text-anchor="middle" fill="#333">3</text>
<text x="163.20" y="768.10" font-size="6.2" text-anchor="middle" fill="#333">expr.</text>
<rect x="593.00" y="750.10" width="47.80" height="4.60" fill="url(#hm)" stroke="none" stroke-width="1"/>
<text x="595.20" y="762.36" font-size="7.5" text-anchor="middle" fill="#333">-3</text>
<text x="616.90" y="761.90" font-size="6.2" text-anchor="middle" fill="#333">Scaled avg.</text>
<text x="639.60" y="762.36" font-size="7.5" text-anchor="middle" fill="#333">3</text>
<text x="616.90" y="769.20" font-size="6.2" text-anchor="middle" fill="#333">expr.</text>
<rect x="323.50" y="538.40" width="123.80" height="196.00" fill="#fff" stroke="none" stroke-width="1"/>
<line x1="324.50" y1="553.90" x2="446.30" y2="553.90" stroke="#ececec" stroke-width="0.8"/>
<line x1="324.50" y1="567.77" x2="446.30" y2="567.77" stroke="#ececec" stroke-width="0.8"/>
<line x1="324.50" y1="581.64" x2="446.30" y2="581.64" stroke="#ececec" stroke-width="0.8"/>
<line x1="324.50" y1="595.51" x2="446.30" y2="595.51" stroke="#ececec" stroke-width="0.8"/>
<line x1="324.50" y1="609.38" x2="446.30" y2="609.38" stroke="#ececec" stroke-width="0.8"/>
<line x1="324.50" y1="623.25" x2="446.30" y2="623.25" stroke="#ececec" stroke-width="0.8"/>
<line x1="324.50" y1="637.12" x2="446.30" y2="637.12" stroke="#ececec" stroke-width="0.8"/>
<line x1="324.50" y1="650.99" x2="446.30" y2="650.99" stroke="#ececec" stroke-width="0.8"/>
<line x1="324.50" y1="664.86" x2="446.30" y2="664.86" stroke="#ececec" stroke-width="0.8"/>
<line x1="324.50" y1="678.73" x2="446.30" y2="678.73" stroke="#ececec" stroke-width="0.8"/>
<line x1="324.50" y1="692.60" x2="446.30" y2="692.60" stroke="#ececec" stroke-width="0.8"/>
<line x1="324.50" y1="706.47" x2="446.30" y2="706.47" stroke="#ececec" stroke-width="0.8"/>
<line x1="324.50" y1="720.34" x2="446.30" y2="720.34" stroke="#ececec" stroke-width="0.8"/>
<line x1="357.40" y1="539.40" x2="357.40" y2="733.40" stroke="#e6e6e6" stroke-width="0.8"/>
<line x1="413.20" y1="539.40" x2="413.20" y2="733.40" stroke="#e6e6e6" stroke-width="0.8"/>
<circle cx="357.4" cy="553.9" r="4.1" fill="#8ed3ca" fill-opacity="0.78"/>
<circle cx="413.2" cy="553.9" r="4.9" fill="#e59a96" fill-opacity="0.72"/>
<circle cx="357.4" cy="567.8" r="4.0" fill="#8ed3ca" fill-opacity="0.78"/>
<circle cx="413.2" cy="567.8" r="4.65" fill="#e59a96" fill-opacity="0.72"/>
<circle cx="357.4" cy="581.6" r="4.2" fill="#8ed3ca" fill-opacity="0.78"/>
<circle cx="413.2" cy="581.6" r="4.8" fill="#e59a96" fill-opacity="0.72"/>
<circle cx="357.4" cy="595.5" r="7.0" fill="#8ed3ca" fill-opacity="0.78"/>
<circle cx="413.2" cy="595.5" r="7.6" fill="#e59a96" fill-opacity="0.72"/>
<circle cx="357.4" cy="609.4" r="5.5" fill="#8ed3ca" fill-opacity="0.78"/>
<circle cx="413.2" cy="609.4" r="5.7" fill="#e59a96" fill-opacity="0.72"/>
<circle cx="357.4" cy="623.2" r="5.9" fill="#8ed3ca" fill-opacity="0.78"/>
<circle cx="413.2" cy="623.2" r="6.7" fill="#e59a96" fill-opacity="0.72"/>
<circle cx="357.4" cy="637.1" r="5.1" fill="#8ed3ca" fill-opacity="0.78"/>
<circle cx="413.2" cy="637.1" r="5.5" fill="#e59a96" fill-opacity="0.72"/>
<circle cx="357.4" cy="651.0" r="5.5" fill="#8ed3ca" fill-opacity="0.78"/>
<circle cx="413.2" cy="651.0" r="5.7" fill="#e59a96" fill-opacity="0.72"/>
<circle cx="357.4" cy="664.9" r="7.9" fill="#8ed3ca" fill-opacity="0.78"/>
<circle cx="413.2" cy="664.9" r="8.4" fill="#e59a96" fill-opacity="0.72"/>
<circle cx="357.4" cy="678.7" r="7.7" fill="#8ed3ca" fill-opacity="0.78"/>
<circle cx="413.2" cy="678.7" r="8.3" fill="#e59a96" fill-opacity="0.72"/>
<circle cx="357.4" cy="692.6" r="2.75" fill="#8ed3ca" fill-opacity="0.78"/>
<circle cx="413.2" cy="692.6" r="4.2" fill="#e59a96" fill-opacity="0.72"/>
<circle cx="357.4" cy="706.5" r="5.9" fill="#8ed3ca" fill-opacity="0.78"/>
<circle cx="413.2" cy="706.5" r="7.1" fill="#e59a96" fill-opacity="0.72"/>
<circle cx="357.4" cy="720.3" r="5.8" fill="#8ed3ca" fill-opacity="0.78"/>
<circle cx="413.2" cy="720.3" r="7.4" fill="#e59a96" fill-opacity="0.72"/>
<rect x="323.50" y="538.40" width="123.80" height="196.00" fill="none" stroke="#262626" stroke-width="1.5"/>
<text x="319.60" y="552.82" font-size="6.25" text-anchor="end" fill="#333">Cellular response to</text>
<text x="319.60" y="559.42" font-size="6.25" text-anchor="end" fill="#333">decreased oxygen levels</text>
<text x="319.60" y="572.09" font-size="6.25" text-anchor="end" fill="#333">Cellular response to hypoxia</text>
<text x="319.60" y="582.66" font-size="6.25" text-anchor="end" fill="#333">Cellular response</text>
<text x="319.60" y="589.26" font-size="6.25" text-anchor="end" fill="#333">to oxygen levels</text>
<text x="319.60" y="599.83" font-size="6.25" text-anchor="end" fill="#333">Defense response to baterium</text>
<text x="319.60" y="610.40" font-size="6.25" text-anchor="end" fill="#333">Response to decreased</text>
<text x="319.60" y="617.00" font-size="6.25" text-anchor="end" fill="#333">oxygen leves</text>
<text x="319.60" y="627.57" font-size="6.25" text-anchor="end" fill="#333">Response to fungus</text>
<text x="319.60" y="641.44" font-size="6.25" text-anchor="end" fill="#333">Response to hypoxia</text>
<text x="319.60" y="655.31" font-size="6.25" text-anchor="end" fill="#333">Response to oxygen levels</text>
<text x="319.60" y="669.18" font-size="6.25" text-anchor="end" fill="#333">Response to water</text>
<text x="319.60" y="683.05" font-size="6.25" text-anchor="end" fill="#333">Response to water deprivation</text>
<text x="319.60" y="696.92" font-size="6.25" text-anchor="end" fill="#333">Response to wounding</text>
<text x="319.60" y="710.79" font-size="6.25" text-anchor="end" fill="#333">Secondary metabolic process</text>
<text x="319.60" y="721.36" font-size="6.25" text-anchor="end" fill="#333">Sulfur compound</text>
<text x="319.60" y="727.96" font-size="6.25" text-anchor="end" fill="#333">metabolic process</text>
<text x="357.10" y="747.71" font-size="9.6" text-anchor="middle" fill="#333">Shoot apex</text>
<text x="412.80" y="747.71" font-size="9.6" text-anchor="middle" fill="#333">Root apex</text>
</svg></body></html>
